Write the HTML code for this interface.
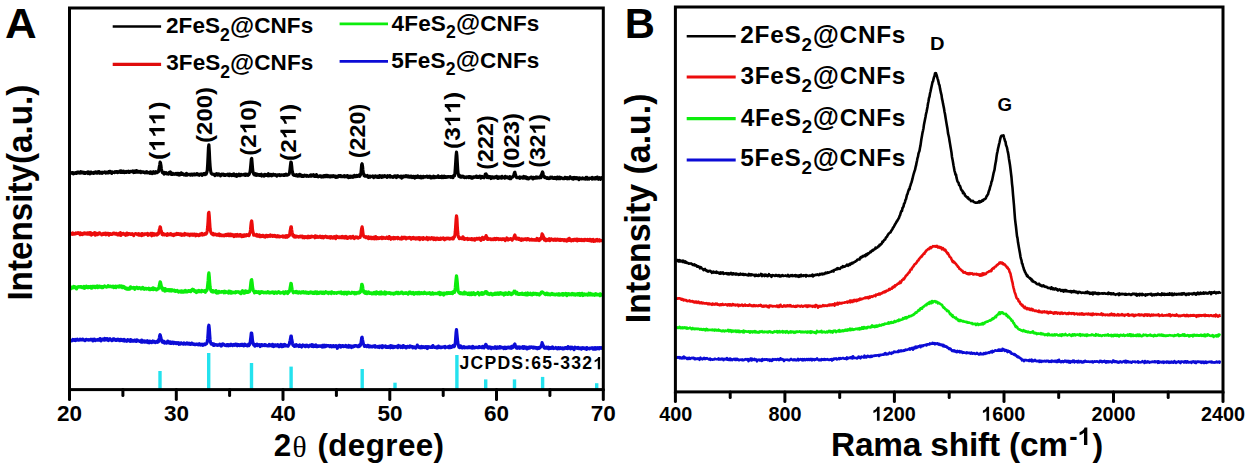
<!DOCTYPE html>
<html><head><meta charset="utf-8"><style>
html,body{margin:0;padding:0;background:#fff;width:1249px;height:470px;overflow:hidden}
svg{display:block}
text{font-family:"Liberation Sans", sans-serif;font-weight:bold;font-kerning:none}
</style></head><body>
<svg width="1249" height="470" viewBox="0 0 1249 470">
<rect width="1249" height="470" fill="#fff"/>
<path d="M70.5,173.2L70.9,173.3L71.3,173.0L71.7,172.7L72.1,172.9L72.5,172.6L72.9,173.2L73.3,173.8L73.7,172.9L74.1,172.8L74.5,173.3L74.9,173.3L75.3,173.1L75.7,172.6L76.1,173.0L76.5,173.4L76.9,172.4L77.3,172.8L77.7,172.1L78.1,172.4L78.5,172.1L78.9,172.9L79.3,172.4L79.7,173.1L80.1,173.1L80.5,172.9L80.9,171.7L81.3,172.7L81.7,172.9L82.1,173.0L82.5,172.2L82.9,172.7L83.3,172.4L83.7,172.5L84.1,173.4L84.5,172.5L84.9,172.9L85.3,173.3L85.7,172.6L86.1,172.8L86.5,172.9L86.9,172.9L87.3,172.2L87.7,172.9L88.1,173.5L88.5,172.0L88.9,173.2L89.3,172.8L89.7,172.4L90.1,173.8L90.5,173.1L90.9,172.1L91.3,172.8L91.7,173.0L92.1,172.6L92.5,173.1L92.9,172.7L93.3,173.0L93.7,173.4L94.1,172.3L94.5,172.8L94.9,172.4L95.3,172.7L95.7,172.0L96.1,172.3L96.5,172.5L96.9,173.1L97.3,173.2L97.7,171.9L98.1,172.2L98.5,172.9L98.9,171.6L99.3,172.3L99.7,172.5L100.1,173.2L100.5,172.9L100.9,172.4L101.3,172.3L101.7,172.4L102.1,173.3L102.5,172.3L102.9,172.3L103.3,172.7L103.7,172.4L104.1,172.4L104.5,171.9L104.9,172.4L105.3,172.2L105.7,173.0L106.1,172.7L106.5,172.4L106.9,172.7L107.3,172.2L107.7,172.9L108.1,172.4L108.5,172.7L108.9,171.7L109.3,172.5L109.7,171.5L110.1,171.3L110.5,172.2L110.9,171.9L111.3,172.4L111.7,173.4L112.1,171.9L112.5,172.0L112.9,172.4L113.3,172.5L113.7,172.2L114.1,172.1L114.5,172.6L114.9,172.5L115.3,171.7L115.7,172.1L116.1,172.2L116.5,171.6L116.9,172.3L117.3,171.7L117.7,172.6L118.1,172.2L118.5,172.1L118.9,171.8L119.3,172.0L119.7,171.1L120.1,171.5L120.5,172.2L120.9,171.0L121.3,172.4L121.7,171.1L122.1,172.4L122.5,171.6L122.9,172.4L123.3,172.0L123.7,171.2L124.1,172.6L124.5,172.6L124.9,171.9L125.3,171.8L125.7,171.8L126.1,171.4L126.5,172.4L126.9,171.6L127.3,171.8L127.7,171.4L128.1,171.5L128.5,171.2L128.9,172.4L129.3,171.7L129.7,172.2L130.1,171.7L130.5,171.4L130.9,171.6L131.3,171.4L131.7,171.7L132.1,171.5L132.5,171.5L132.9,171.0L133.3,171.2L133.7,172.5L134.1,171.3L134.5,171.1L134.9,171.8L135.3,172.3L135.7,170.9L136.1,171.6L136.5,171.4L136.9,170.8L137.3,172.1L137.7,171.7L138.1,171.8L138.5,171.4L138.9,172.1L139.3,171.6L139.7,171.8L140.1,171.4L140.5,171.3L140.9,172.6L141.3,171.7L141.7,172.2L142.1,172.0L142.5,171.8L142.9,171.8L143.3,172.4L143.7,172.0L144.1,172.1L144.5,172.2L144.9,172.8L145.3,172.6L145.7,172.4L146.1,172.0L146.5,171.6L146.9,172.8L147.3,172.8L147.7,172.3L148.1,172.7L148.5,172.8L148.9,172.9L149.3,172.9L149.7,172.3L150.1,173.3L150.5,171.9L150.9,173.0L151.3,172.8L151.7,173.0L152.1,173.6L152.5,173.4L152.9,172.1L153.3,171.8L153.7,173.1L154.1,172.2L154.5,172.7L154.9,173.1L155.3,171.9L155.7,171.7L156.1,172.8L156.5,172.7L156.9,172.5L157.3,172.6L157.7,172.0L158.1,171.5L158.5,171.6L158.9,169.9L159.3,167.1L159.7,165.0L160.1,162.2L160.5,162.9L160.9,165.2L161.3,168.5L161.7,170.5L162.1,171.6L162.5,172.7L162.9,172.4L163.3,173.1L163.7,173.2L164.1,174.1L164.5,172.5L164.9,173.7L165.3,173.2L165.7,173.3L166.1,172.6L166.5,173.1L166.9,173.8L167.3,173.4L167.7,173.5L168.1,173.3L168.5,174.1L168.9,173.5L169.3,172.5L169.7,173.2L170.1,172.6L170.5,172.0L170.9,173.4L171.3,174.4L171.7,173.7L172.1,173.1L172.5,173.3L172.9,174.3L173.3,173.9L173.7,173.9L174.1,173.8L174.5,173.9L174.9,174.3L175.3,174.2L175.7,174.0L176.1,173.4L176.5,174.2L176.9,173.7L177.3,174.6L177.7,173.4L178.1,174.0L178.5,174.1L178.9,173.4L179.3,175.0L179.7,174.9L180.1,173.9L180.5,174.6L180.9,174.4L181.3,172.9L181.7,174.4L182.1,174.2L182.5,174.3L182.9,173.8L183.3,174.2L183.7,174.2L184.1,174.9L184.5,174.5L184.9,174.3L185.3,175.1L185.7,174.1L186.1,174.1L186.5,173.4L186.9,175.1L187.3,174.8L187.7,174.8L188.1,174.7L188.5,174.4L188.9,174.5L189.3,174.3L189.7,174.3L190.1,174.4L190.5,175.1L190.9,174.7L191.3,174.4L191.7,174.1L192.1,174.1L192.5,175.2L192.9,174.7L193.3,174.5L193.7,174.3L194.1,173.9L194.5,174.4L194.9,174.9L195.3,174.2L195.7,174.3L196.1,174.3L196.5,174.5L196.9,173.7L197.3,174.3L197.7,174.0L198.1,174.9L198.5,174.1L198.9,174.7L199.3,175.2L199.7,174.3L200.1,174.1L200.5,174.5L200.9,174.4L201.3,173.9L201.7,174.6L202.1,175.4L202.5,174.2L202.9,174.2L203.3,173.8L203.7,174.4L204.1,173.6L204.5,173.6L204.9,174.7L205.3,173.5L205.7,174.3L206.1,174.2L206.5,173.1L206.9,172.1L207.3,170.2L207.7,164.0L208.1,155.8L208.5,147.0L208.9,144.9L209.3,151.4L209.7,160.0L210.1,166.1L210.5,170.1L210.9,172.2L211.3,173.4L211.7,173.6L212.1,174.0L212.5,174.2L212.9,174.0L213.3,174.3L213.7,174.5L214.1,174.4L214.5,174.7L214.9,175.5L215.3,174.9L215.7,174.6L216.1,173.8L216.5,174.8L216.9,173.7L217.3,174.0L217.7,175.1L218.1,175.1L218.5,174.7L218.9,173.9L219.3,174.6L219.7,174.4L220.1,175.1L220.5,175.9L220.9,174.9L221.3,174.4L221.7,174.2L222.1,174.8L222.5,174.8L222.9,174.3L223.3,174.9L223.7,174.3L224.1,175.4L224.5,175.4L224.9,175.4L225.3,174.7L225.7,175.2L226.1,174.8L226.5,174.7L226.9,174.8L227.3,174.3L227.7,174.2L228.1,175.3L228.5,174.9L228.9,175.1L229.3,175.5L229.7,174.1L230.1,174.6L230.5,175.1L230.9,175.2L231.3,174.8L231.7,175.5L232.1,175.1L232.5,174.4L232.9,174.5L233.3,175.4L233.7,175.2L234.1,174.0L234.5,175.7L234.9,175.3L235.3,175.7L235.7,174.8L236.1,174.8L236.5,174.4L236.9,176.3L237.3,174.9L237.7,175.8L238.1,174.7L238.5,175.1L238.9,174.2L239.3,174.8L239.7,175.5L240.1,174.4L240.5,175.5L240.9,175.2L241.3,174.5L241.7,174.7L242.1,174.8L242.5,175.0L242.9,174.7L243.3,174.6L243.7,174.8L244.1,174.4L244.5,174.3L244.9,174.9L245.3,175.4L245.7,174.1L246.1,174.9L246.5,174.5L246.9,174.3L247.3,175.2L247.7,174.5L248.1,175.4L248.5,174.1L248.9,174.5L249.3,173.9L249.7,172.9L250.1,171.8L250.5,168.2L250.9,163.9L251.3,159.3L251.7,158.5L252.1,162.9L252.5,167.8L252.9,171.7L253.3,172.7L253.7,174.0L254.1,173.5L254.5,174.9L254.9,174.1L255.3,173.8L255.7,174.8L256.1,175.4L256.5,174.1L256.9,174.4L257.3,174.6L257.7,174.4L258.1,175.2L258.5,174.6L258.9,174.7L259.3,175.3L259.7,174.7L260.1,175.3L260.5,174.6L260.9,174.5L261.3,174.2L261.7,176.0L262.1,174.9L262.5,175.2L262.9,175.1L263.3,175.2L263.7,175.1L264.1,176.1L264.5,174.6L264.9,174.3L265.3,174.6L265.7,174.5L266.1,175.5L266.5,175.5L266.9,174.6L267.3,174.4L267.7,175.0L268.1,175.8L268.5,173.7L268.9,175.4L269.3,174.6L269.7,175.7L270.1,174.6L270.5,175.0L270.9,174.4L271.3,174.7L271.7,175.8L272.1,175.6L272.5,175.0L272.9,174.7L273.3,174.2L273.7,175.0L274.1,175.1L274.5,175.1L274.9,175.1L275.3,174.6L275.7,175.1L276.1,175.2L276.5,175.8L276.9,176.1L277.3,175.1L277.7,174.8L278.1,175.2L278.5,174.9L278.9,174.8L279.3,175.2L279.7,174.7L280.1,175.5L280.5,175.2L280.9,175.4L281.3,175.2L281.7,174.9L282.1,174.8L282.5,175.1L282.9,175.0L283.3,175.4L283.7,175.3L284.1,174.6L284.5,175.3L284.9,174.6L285.3,174.9L285.7,175.1L286.1,174.2L286.5,175.2L286.9,175.2L287.3,175.0L287.7,174.8L288.1,174.8L288.5,174.3L288.9,174.3L289.3,173.4L289.7,172.0L290.1,168.3L290.5,165.0L290.9,162.0L291.3,162.6L291.7,166.2L292.1,170.5L292.5,172.0L292.9,174.3L293.3,174.8L293.7,175.1L294.1,175.3L294.5,174.9L294.9,175.1L295.3,175.6L295.7,175.6L296.1,175.5L296.5,174.7L296.9,175.7L297.3,176.1L297.7,176.0L298.1,175.6L298.5,174.8L298.9,176.0L299.3,175.5L299.7,174.3L300.1,175.8L300.5,174.9L300.9,175.0L301.3,175.3L301.7,176.3L302.1,175.5L302.5,175.8L302.9,176.5L303.3,176.5L303.7,175.6L304.1,175.6L304.5,175.1L304.9,175.4L305.3,175.9L305.7,175.9L306.1,175.8L306.5,176.3L306.9,175.4L307.3,175.7L307.7,176.1L308.1,176.1L308.5,176.3L308.9,176.0L309.3,175.7L309.7,176.0L310.1,175.3L310.5,175.0L310.9,176.1L311.3,175.8L311.7,176.0L312.1,175.0L312.5,175.7L312.9,175.6L313.3,175.5L313.7,174.8L314.1,175.7L314.5,176.4L314.9,176.1L315.3,175.6L315.7,175.9L316.1,176.3L316.5,174.6L316.9,175.9L317.3,176.2L317.7,176.3L318.1,176.8L318.5,176.6L318.9,176.2L319.3,176.2L319.7,176.4L320.1,175.8L320.5,176.0L320.9,176.5L321.3,177.0L321.7,176.0L322.1,176.0L322.5,176.2L322.9,176.8L323.3,176.1L323.7,176.8L324.1,175.6L324.5,176.0L324.9,176.0L325.3,176.5L325.7,176.7L326.1,175.4L326.5,175.7L326.9,176.3L327.3,175.8L327.7,175.4L328.1,176.7L328.5,176.4L328.9,176.4L329.3,176.0L329.7,176.7L330.1,176.1L330.5,176.8L330.9,175.8L331.3,175.8L331.7,176.3L332.1,175.9L332.5,176.6L332.9,176.4L333.3,175.8L333.7,176.3L334.1,176.1L334.5,176.8L334.9,176.0L335.3,176.1L335.7,176.9L336.1,177.4L336.5,177.3L336.9,176.3L337.3,176.4L337.7,177.1L338.1,176.3L338.5,175.8L338.9,176.4L339.3,176.5L339.7,175.9L340.1,175.5L340.5,175.6L340.9,176.7L341.3,176.0L341.7,176.3L342.1,176.4L342.5,176.6L342.9,176.2L343.3,176.6L343.7,175.9L344.1,176.2L344.5,175.8L344.9,176.9L345.3,176.3L345.7,176.0L346.1,176.2L346.5,176.2L346.9,176.7L347.3,175.6L347.7,175.8L348.1,176.2L348.5,177.6L348.9,176.8L349.3,176.3L349.7,176.7L350.1,177.4L350.5,176.2L350.9,176.2L351.3,177.0L351.7,176.6L352.1,176.7L352.5,176.1L352.9,177.3L353.3,177.2L353.7,176.6L354.1,176.7L354.5,175.3L354.9,176.7L355.3,176.2L355.7,176.5L356.1,176.7L356.5,176.1L356.9,175.4L357.3,176.4L357.7,175.9L358.1,176.0L358.5,175.8L358.9,175.9L359.3,174.8L359.7,176.4L360.1,175.4L360.5,174.8L360.9,173.1L361.3,168.9L361.7,164.5L362.1,163.8L362.5,166.0L362.9,170.0L363.3,173.2L363.7,173.8L364.1,175.7L364.5,175.1L364.9,176.2L365.3,176.1L365.7,176.1L366.1,176.2L366.5,176.0L366.9,176.0L367.3,175.5L367.7,176.4L368.1,177.3L368.5,177.4L368.9,177.1L369.3,176.8L369.7,176.1L370.1,177.2L370.5,176.4L370.9,176.4L371.3,176.3L371.7,176.5L372.1,176.3L372.5,176.5L372.9,176.0L373.3,176.3L373.7,177.6L374.1,176.5L374.5,176.4L374.9,176.8L375.3,176.9L375.7,176.0L376.1,176.4L376.5,177.0L376.9,176.7L377.3,176.6L377.7,177.3L378.1,176.2L378.5,176.6L378.9,176.3L379.3,177.3L379.7,175.6L380.1,176.2L380.5,176.3L380.9,176.9L381.3,176.9L381.7,177.3L382.1,175.8L382.5,177.0L382.9,176.4L383.3,176.3L383.7,176.9L384.1,176.1L384.5,175.6L384.9,176.4L385.3,175.9L385.7,176.3L386.1,176.8L386.5,176.8L386.9,177.4L387.3,176.5L387.7,175.8L388.1,176.2L388.5,176.2L388.9,176.0L389.3,176.8L389.7,176.3L390.1,175.6L390.5,177.0L390.9,176.6L391.3,176.8L391.7,176.7L392.1,177.0L392.5,176.7L392.9,177.3L393.3,176.9L393.7,176.8L394.1,176.9L394.5,175.9L394.9,176.6L395.3,176.5L395.7,176.8L396.1,176.0L396.5,177.5L396.9,176.7L397.3,176.1L397.7,175.8L398.1,176.5L398.5,176.6L398.9,176.3L399.3,176.7L399.7,176.4L400.1,177.0L400.5,176.3L400.9,176.7L401.3,177.2L401.7,178.0L402.1,176.2L402.5,176.5L402.9,176.3L403.3,177.1L403.7,176.1L404.1,176.5L404.5,176.7L404.9,176.2L405.3,176.2L405.7,176.5L406.1,175.7L406.5,176.0L406.9,176.5L407.3,176.8L407.7,176.6L408.1,175.9L408.5,176.5L408.9,177.1L409.3,177.0L409.7,176.7L410.1,176.3L410.5,177.1L410.9,176.5L411.3,176.2L411.7,176.4L412.1,177.5L412.5,176.9L412.9,177.3L413.3,176.5L413.7,177.2L414.1,176.5L414.5,176.7L414.9,178.0L415.3,177.2L415.7,176.5L416.1,176.7L416.5,177.0L416.9,177.4L417.3,176.6L417.7,175.9L418.1,176.7L418.5,176.8L418.9,176.9L419.3,177.5L419.7,177.0L420.1,177.2L420.5,176.3L420.9,177.2L421.3,177.9L421.7,177.2L422.1,176.9L422.5,176.9L422.9,177.7L423.3,176.4L423.7,176.8L424.1,177.1L424.5,177.2L424.9,176.6L425.3,177.0L425.7,176.7L426.1,176.9L426.5,176.8L426.9,176.3L427.3,176.8L427.7,177.3L428.1,176.4L428.5,176.7L428.9,177.2L429.3,176.3L429.7,177.0L430.1,176.3L430.5,177.4L430.9,178.0L431.3,177.9L431.7,176.8L432.1,177.2L432.5,176.9L432.9,176.9L433.3,177.7L433.7,176.2L434.1,177.4L434.5,176.9L434.9,177.6L435.3,177.0L435.7,176.6L436.1,177.0L436.5,177.3L436.9,176.9L437.3,177.1L437.7,176.6L438.1,175.8L438.5,177.4L438.9,177.3L439.3,177.0L439.7,176.9L440.1,177.4L440.5,176.7L440.9,176.6L441.3,176.8L441.7,177.5L442.1,176.2L442.5,177.5L442.9,176.6L443.3,176.4L443.7,177.5L444.1,176.9L444.5,176.3L444.9,176.7L445.3,177.4L445.7,177.5L446.1,176.7L446.5,177.1L446.9,177.2L447.3,176.6L447.7,177.1L448.1,176.9L448.5,176.6L448.9,176.6L449.3,176.9L449.7,176.8L450.1,176.5L450.5,176.6L450.9,177.3L451.3,176.8L451.7,177.1L452.1,177.2L452.5,176.8L452.9,177.6L453.3,175.9L453.7,176.5L454.1,175.5L454.5,175.8L454.9,173.9L455.3,168.3L455.7,162.4L456.1,155.8L456.5,152.1L456.9,155.7L457.3,162.7L457.7,169.3L458.1,173.4L458.5,174.9L458.9,176.2L459.3,175.0L459.7,176.7L460.1,176.0L460.5,177.1L460.9,176.6L461.3,176.3L461.7,177.0L462.1,176.4L462.5,176.4L462.9,176.1L463.3,176.9L463.7,177.2L464.1,177.5L464.5,176.9L464.9,177.5L465.3,177.0L465.7,177.0L466.1,177.3L466.5,177.6L466.9,176.9L467.3,177.0L467.7,177.0L468.1,177.1L468.5,176.7L468.9,177.6L469.3,176.9L469.7,177.4L470.1,176.7L470.5,177.3L470.9,177.3L471.3,176.9L471.7,178.2L472.1,177.3L472.5,178.1L472.9,177.7L473.3,176.8L473.7,177.0L474.1,177.4L474.5,177.2L474.9,177.2L475.3,177.1L475.7,176.3L476.1,177.1L476.5,176.1L476.9,177.4L477.3,176.9L477.7,176.9L478.1,177.1L478.5,177.4L478.9,176.5L479.3,176.4L479.7,176.7L480.1,176.2L480.5,176.7L480.9,178.0L481.3,176.7L481.7,177.5L482.1,176.5L482.5,177.3L482.9,177.0L483.3,177.1L483.7,177.3L484.1,177.8L484.5,176.6L484.9,175.8L485.3,174.2L485.7,174.2L486.1,173.9L486.5,175.3L486.9,175.9L487.3,177.5L487.7,176.0L488.1,177.0L488.5,177.6L488.9,177.1L489.3,176.9L489.7,177.2L490.1,176.6L490.5,177.4L490.9,178.5L491.3,177.9L491.7,176.8L492.1,176.9L492.5,177.2L492.9,177.9L493.3,177.0L493.7,177.0L494.1,177.8L494.5,177.8L494.9,177.2L495.3,176.8L495.7,176.6L496.1,177.1L496.5,176.3L496.9,177.8L497.3,177.1L497.7,177.7L498.1,178.4L498.5,178.0L498.9,176.9L499.3,177.9L499.7,178.0L500.1,177.1L500.5,177.0L500.9,177.4L501.3,176.7L501.7,178.2L502.1,176.3L502.5,176.9L502.9,177.3L503.3,177.4L503.7,177.6L504.1,177.6L504.5,177.4L504.9,178.1L505.3,176.4L505.7,177.5L506.1,177.1L506.5,177.6L506.9,177.6L507.3,177.0L507.7,177.2L508.1,177.9L508.5,177.7L508.9,177.2L509.3,178.5L509.7,178.6L510.1,176.7L510.5,177.6L510.9,178.7L511.3,177.8L511.7,177.5L512.1,177.2L512.5,177.0L512.9,176.9L513.3,176.2L513.7,175.8L514.1,173.9L514.5,172.6L514.9,172.3L515.3,174.1L515.7,175.1L516.1,176.4L516.5,177.6L516.9,177.5L517.3,177.7L517.7,177.6L518.1,177.5L518.5,177.5L518.9,177.4L519.3,177.9L519.7,177.0L520.1,178.3L520.5,177.6L520.9,177.2L521.3,177.4L521.7,177.3L522.1,177.7L522.5,177.3L522.9,178.2L523.3,177.3L523.7,176.5L524.1,177.3L524.5,176.7L524.9,177.7L525.3,178.2L525.7,178.0L526.1,177.0L526.5,177.3L526.9,178.6L527.3,177.9L527.7,177.7L528.1,178.2L528.5,178.9L528.9,178.4L529.3,177.8L529.7,177.9L530.1,178.0L530.5,177.4L530.9,177.2L531.3,177.8L531.7,177.3L532.1,177.7L532.5,177.8L532.9,178.9L533.3,177.3L533.7,177.7L534.1,177.7L534.5,178.0L534.9,178.3L535.3,177.5L535.7,177.3L536.1,176.9L536.5,177.3L536.9,178.0L537.3,177.8L537.7,177.2L538.1,177.5L538.5,177.7L538.9,177.9L539.3,177.4L539.7,177.5L540.1,176.6L540.5,176.7L540.9,177.7L541.3,174.8L541.7,174.3L542.1,172.9L542.5,172.0L542.9,172.8L543.3,174.9L543.7,176.3L544.1,177.0L544.5,176.5L544.9,177.5L545.3,177.2L545.7,177.4L546.1,177.9L546.5,178.1L546.9,178.3L547.3,177.6L547.7,178.3L548.1,178.4L548.5,178.4L548.9,178.6L549.3,177.8L549.7,177.8L550.1,178.3L550.5,177.2L550.9,178.0L551.3,177.6L551.7,177.7L552.1,177.1L552.5,177.5L552.9,177.9L553.3,178.4L553.7,178.4L554.1,177.9L554.5,177.9L554.9,177.5L555.3,178.2L555.7,177.8L556.1,178.3L556.5,178.9L556.9,178.0L557.3,177.2L557.7,177.6L558.1,177.3L558.5,177.4L558.9,178.7L559.3,178.1L559.7,177.2L560.1,178.3L560.5,178.6L560.9,177.8L561.3,177.7L561.7,177.9L562.1,178.2L562.5,178.4L562.9,178.6L563.3,178.7L563.7,178.6L564.1,178.7L564.5,178.4L564.9,177.3L565.3,178.0L565.7,178.2L566.1,177.9L566.5,178.5L566.9,177.9L567.3,177.6L567.7,178.8L568.1,178.4L568.5,178.2L568.9,178.6L569.3,178.6L569.7,178.3L570.1,176.9L570.5,177.8L570.9,177.9L571.3,177.6L571.7,178.2L572.1,178.7L572.5,177.9L572.9,177.6L573.3,179.2L573.7,177.9L574.1,177.5L574.5,178.3L574.9,178.4L575.3,177.8L575.7,178.6L576.1,177.9L576.5,177.7L576.9,178.3L577.3,178.6L577.7,177.9L578.1,178.4L578.5,178.1L578.9,179.6L579.3,177.8L579.7,178.9L580.1,178.2L580.5,178.1L580.9,178.6L581.3,178.7L581.7,178.9L582.1,178.4L582.5,177.9L582.9,178.0L583.3,178.5L583.7,178.5L584.1,178.9L584.5,178.5L584.9,178.8L585.3,179.0L585.7,178.3L586.1,177.5L586.5,177.7L586.9,177.5L587.3,179.1L587.7,177.9L588.1,178.9L588.5,178.6L588.9,179.1L589.3,178.8L589.7,178.2L590.1,178.2L590.5,178.3L590.9,178.4L591.3,178.0L591.7,178.3L592.1,179.1L592.5,177.5L592.9,178.5L593.3,177.9L593.7,178.4L594.1,178.8L594.5,178.3L594.9,178.7L595.3,177.6L595.7,178.9L596.1,178.1L596.5,178.7L596.9,178.5L597.3,177.1L597.7,178.0L598.1,178.5L598.5,179.2L598.9,178.5L599.3,178.5L599.7,177.7L600.1,179.1L600.5,179.3L600.9,178.4L601.3,178.3L601.7,177.6L602.1,178.8" fill="none" stroke="#000000" stroke-width="3.2" stroke-linejoin="round"/>
<path d="M70.5,235.0L70.9,234.0L71.3,234.2L71.7,233.9L72.1,233.1L72.5,234.3L72.9,233.0L73.3,233.5L73.7,233.8L74.1,234.1L74.5,233.9L74.9,233.8L75.3,233.3L75.7,233.0L76.1,233.7L76.5,233.3L76.9,233.0L77.3,233.0L77.7,233.4L78.1,232.7L78.5,233.0L78.9,232.9L79.3,233.8L79.7,233.9L80.1,234.7L80.5,232.9L80.9,233.4L81.3,234.2L81.7,233.6L82.1,233.5L82.5,234.6L82.9,233.5L83.3,233.1L83.7,233.1L84.1,233.9L84.5,233.9L84.9,233.0L85.3,233.2L85.7,234.0L86.1,234.0L86.5,233.4L86.9,234.1L87.3,234.0L87.7,232.9L88.1,233.6L88.5,234.0L88.9,233.5L89.3,232.7L89.7,233.6L90.1,234.2L90.5,234.6L90.9,232.7L91.3,235.1L91.7,233.2L92.1,234.3L92.5,234.4L92.9,234.3L93.3,233.9L93.7,233.2L94.1,234.1L94.5,233.5L94.9,232.6L95.3,235.2L95.7,234.2L96.1,234.7L96.5,233.4L96.9,234.6L97.3,234.6L97.7,234.6L98.1,233.8L98.5,233.2L98.9,233.8L99.3,232.8L99.7,233.0L100.1,233.9L100.5,233.4L100.9,233.8L101.3,233.8L101.7,234.8L102.1,234.5L102.5,233.9L102.9,234.5L103.3,233.5L103.7,233.7L104.1,234.4L104.5,233.3L104.9,233.8L105.3,233.2L105.7,234.0L106.1,234.7L106.5,233.5L106.9,234.0L107.3,233.5L107.7,233.4L108.1,233.3L108.5,234.7L108.9,235.1L109.3,234.2L109.7,233.6L110.1,234.3L110.5,233.8L110.9,234.4L111.3,234.1L111.7,234.1L112.1,234.3L112.5,233.7L112.9,233.8L113.3,233.1L113.7,233.8L114.1,233.3L114.5,233.9L114.9,233.5L115.3,234.0L115.7,234.2L116.1,233.3L116.5,233.6L116.9,233.5L117.3,234.4L117.7,234.9L118.1,234.4L118.5,233.8L118.9,234.8L119.3,233.3L119.7,234.8L120.1,233.7L120.5,232.7L120.9,235.4L121.3,234.8L121.7,233.5L122.1,234.1L122.5,234.0L122.9,234.1L123.3,233.3L123.7,233.7L124.1,234.3L124.5,234.2L124.9,234.7L125.3,234.1L125.7,235.3L126.1,233.7L126.5,234.2L126.9,233.1L127.3,233.5L127.7,234.8L128.1,233.6L128.5,234.4L128.9,234.1L129.3,233.6L129.7,233.9L130.1,233.9L130.5,233.9L130.9,234.5L131.3,234.5L131.7,233.8L132.1,233.7L132.5,234.3L132.9,234.1L133.3,234.7L133.7,235.5L134.1,234.6L134.5,234.1L134.9,234.1L135.3,233.7L135.7,233.7L136.1,233.7L136.5,234.0L136.9,234.0L137.3,234.6L137.7,234.0L138.1,234.1L138.5,233.6L138.9,235.0L139.3,234.5L139.7,235.1L140.1,234.6L140.5,235.0L140.9,234.1L141.3,234.6L141.7,235.6L142.1,233.6L142.5,234.8L142.9,235.1L143.3,234.4L143.7,234.6L144.1,234.9L144.5,233.9L144.9,234.5L145.3,233.8L145.7,233.9L146.1,233.9L146.5,234.2L146.9,234.3L147.3,234.5L147.7,233.5L148.1,235.3L148.5,234.9L148.9,234.6L149.3,234.1L149.7,234.2L150.1,234.6L150.5,234.5L150.9,233.4L151.3,234.7L151.7,235.8L152.1,233.3L152.5,234.8L152.9,234.5L153.3,234.2L153.7,235.0L154.1,233.7L154.5,234.4L154.9,235.0L155.3,234.2L155.7,234.0L156.1,234.3L156.5,234.0L156.9,235.0L157.3,233.7L157.7,234.5L158.1,233.2L158.5,233.8L158.9,232.6L159.3,229.8L159.7,229.0L160.1,226.9L160.5,227.5L160.9,230.4L161.3,231.0L161.7,232.4L162.1,234.4L162.5,234.0L162.9,234.9L163.3,234.4L163.7,233.8L164.1,234.2L164.5,234.9L164.9,234.8L165.3,234.3L165.7,234.4L166.1,234.3L166.5,234.1L166.9,235.4L167.3,234.4L167.7,233.8L168.1,234.2L168.5,234.8L168.9,234.8L169.3,234.4L169.7,234.1L170.1,234.5L170.5,233.6L170.9,233.8L171.3,234.9L171.7,234.2L172.1,234.7L172.5,235.1L172.9,234.8L173.3,234.5L173.7,235.6L174.1,234.8L174.5,234.3L174.9,234.9L175.3,234.7L175.7,234.1L176.1,234.6L176.5,234.4L176.9,233.5L177.3,234.4L177.7,234.4L178.1,234.3L178.5,233.7L178.9,234.4L179.3,234.5L179.7,234.6L180.1,234.0L180.5,234.9L180.9,233.9L181.3,234.5L181.7,235.2L182.1,234.2L182.5,234.3L182.9,235.1L183.3,234.4L183.7,234.4L184.1,234.7L184.5,235.1L184.9,233.5L185.3,234.2L185.7,234.1L186.1,234.1L186.5,234.2L186.9,234.2L187.3,234.8L187.7,234.2L188.1,234.7L188.5,234.8L188.9,234.3L189.3,234.7L189.7,235.5L190.1,234.8L190.5,234.3L190.9,234.6L191.3,234.2L191.7,234.8L192.1,235.1L192.5,234.2L192.9,234.5L193.3,235.2L193.7,234.4L194.1,234.8L194.5,234.1L194.9,234.2L195.3,234.4L195.7,235.8L196.1,234.5L196.5,234.4L196.9,234.4L197.3,234.6L197.7,235.0L198.1,234.8L198.5,235.7L198.9,234.8L199.3,235.4L199.7,234.8L200.1,235.0L200.5,233.9L200.9,234.6L201.3,234.6L201.7,234.5L202.1,233.5L202.5,235.0L202.9,234.4L203.3,234.3L203.7,234.4L204.1,234.3L204.5,234.6L204.9,233.7L205.3,233.8L205.7,234.2L206.1,233.9L206.5,233.3L206.9,232.3L207.3,230.2L207.7,226.5L208.1,220.9L208.5,213.2L208.9,212.3L209.3,216.5L209.7,222.8L210.1,228.9L210.5,230.9L210.9,232.3L211.3,233.1L211.7,233.9L212.1,234.1L212.5,234.2L212.9,234.6L213.3,233.5L213.7,234.9L214.1,234.0L214.5,234.4L214.9,234.6L215.3,234.2L215.7,234.2L216.1,234.4L216.5,234.9L216.9,235.2L217.3,235.2L217.7,234.4L218.1,234.6L218.5,234.5L218.9,235.2L219.3,234.0L219.7,235.6L220.1,234.8L220.5,234.6L220.9,235.2L221.3,235.6L221.7,235.2L222.1,235.6L222.5,235.2L222.9,235.7L223.3,235.7L223.7,235.1L224.1,235.8L224.5,235.2L224.9,235.2L225.3,234.7L225.7,235.0L226.1,235.6L226.5,234.5L226.9,235.5L227.3,235.4L227.7,235.3L228.1,234.1L228.5,235.2L228.9,235.6L229.3,234.9L229.7,235.3L230.1,234.1L230.5,235.6L230.9,234.9L231.3,235.7L231.7,234.4L232.1,235.6L232.5,235.2L232.9,235.7L233.3,234.9L233.7,235.0L234.1,236.5L234.5,234.9L234.9,235.0L235.3,235.2L235.7,234.8L236.1,236.0L236.5,236.2L236.9,235.0L237.3,234.5L237.7,236.0L238.1,236.0L238.5,235.8L238.9,236.0L239.3,235.0L239.7,235.3L240.1,234.7L240.5,234.7L240.9,235.9L241.3,235.1L241.7,236.6L242.1,235.5L242.5,235.1L242.9,235.9L243.3,236.4L243.7,235.7L244.1,234.8L244.5,235.6L244.9,236.1L245.3,235.2L245.7,235.0L246.1,235.9L246.5,235.5L246.9,234.8L247.3,235.2L247.7,234.9L248.1,235.4L248.5,235.2L248.9,235.6L249.3,235.0L249.7,233.2L250.1,232.7L250.5,230.0L250.9,225.5L251.3,222.0L251.7,220.9L252.1,224.2L252.5,229.5L252.9,231.7L253.3,232.9L253.7,235.2L254.1,234.7L254.5,235.1L254.9,234.7L255.3,234.8L255.7,234.9L256.1,235.4L256.5,235.8L256.9,234.5L257.3,236.0L257.7,235.1L258.1,235.2L258.5,236.1L258.9,235.7L259.3,235.0L259.7,236.7L260.1,235.4L260.5,235.9L260.9,235.9L261.3,236.5L261.7,235.6L262.1,236.3L262.5,235.5L262.9,236.4L263.3,235.5L263.7,235.7L264.1,236.8L264.5,236.1L264.9,236.0L265.3,237.0L265.7,236.1L266.1,235.5L266.5,236.3L266.9,235.4L267.3,236.5L267.7,236.6L268.1,235.7L268.5,235.7L268.9,236.1L269.3,236.0L269.7,235.5L270.1,236.3L270.5,235.0L270.9,235.8L271.3,235.8L271.7,235.9L272.1,236.2L272.5,235.5L272.9,236.4L273.3,236.0L273.7,235.8L274.1,235.4L274.5,235.5L274.9,236.3L275.3,235.6L275.7,236.2L276.1,236.7L276.5,236.7L276.9,236.9L277.3,236.0L277.7,235.6L278.1,236.7L278.5,236.3L278.9,236.8L279.3,236.2L279.7,236.8L280.1,236.6L280.5,236.6L280.9,236.5L281.3,236.4L281.7,236.3L282.1,236.3L282.5,236.7L282.9,236.0L283.3,237.1L283.7,236.2L284.1,236.7L284.5,236.2L284.9,236.1L285.3,237.3L285.7,236.1L286.1,235.6L286.5,235.9L286.9,236.0L287.3,237.2L287.7,236.2L288.1,236.5L288.5,235.4L288.9,235.9L289.3,235.5L289.7,234.8L290.1,231.4L290.5,229.2L290.9,226.9L291.3,226.8L291.7,230.0L292.1,232.6L292.5,233.4L292.9,235.8L293.3,236.2L293.7,235.9L294.1,235.5L294.5,237.0L294.9,236.5L295.3,236.9L295.7,237.1L296.1,236.2L296.5,236.9L296.9,236.3L297.3,236.5L297.7,236.5L298.1,236.5L298.5,237.1L298.9,236.6L299.3,236.5L299.7,236.4L300.1,236.8L300.5,236.1L300.9,236.4L301.3,236.6L301.7,236.3L302.1,236.6L302.5,236.3L302.9,237.7L303.3,237.3L303.7,236.9L304.1,236.7L304.5,237.8L304.9,236.9L305.3,236.7L305.7,236.9L306.1,236.9L306.5,237.4L306.9,236.7L307.3,237.8L307.7,236.3L308.1,237.1L308.5,236.3L308.9,237.7L309.3,236.6L309.7,236.8L310.1,237.3L310.5,237.4L310.9,236.3L311.3,236.7L311.7,236.1L312.1,236.9L312.5,236.8L312.9,236.7L313.3,236.5L313.7,236.7L314.1,236.5L314.5,237.2L314.9,237.7L315.3,235.9L315.7,236.9L316.1,236.7L316.5,237.2L316.9,236.5L317.3,236.9L317.7,236.4L318.1,237.3L318.5,237.0L318.9,236.9L319.3,237.2L319.7,236.9L320.1,236.2L320.5,237.3L320.9,237.2L321.3,236.9L321.7,237.5L322.1,237.7L322.5,236.5L322.9,236.7L323.3,237.8L323.7,237.8L324.1,236.7L324.5,236.5L324.9,236.8L325.3,236.9L325.7,236.3L326.1,237.1L326.5,236.5L326.9,236.5L327.3,237.6L327.7,236.8L328.1,237.1L328.5,237.5L328.9,237.6L329.3,237.0L329.7,237.2L330.1,236.8L330.5,238.1L330.9,237.5L331.3,236.7L331.7,237.2L332.1,237.6L332.5,237.5L332.9,238.1L333.3,237.9L333.7,237.0L334.1,237.2L334.5,236.6L334.9,237.4L335.3,237.3L335.7,238.6L336.1,237.3L336.5,236.2L336.9,236.9L337.3,237.3L337.7,236.7L338.1,236.9L338.5,237.1L338.9,237.5L339.3,237.2L339.7,236.9L340.1,237.7L340.5,237.1L340.9,237.1L341.3,236.7L341.7,237.0L342.1,237.7L342.5,236.5L342.9,237.3L343.3,237.7L343.7,237.2L344.1,237.5L344.5,236.8L344.9,238.0L345.3,237.9L345.7,237.5L346.1,236.5L346.5,236.9L346.9,237.9L347.3,238.3L347.7,237.6L348.1,238.0L348.5,237.1L348.9,237.3L349.3,237.4L349.7,237.6L350.1,236.7L350.5,237.9L350.9,238.1L351.3,236.9L351.7,236.8L352.1,237.6L352.5,237.1L352.9,236.3L353.3,237.9L353.7,237.5L354.1,237.2L354.5,238.5L354.9,237.5L355.3,237.1L355.7,237.5L356.1,236.9L356.5,237.1L356.9,237.6L357.3,237.1L357.7,237.2L358.1,238.2L358.5,237.8L358.9,237.7L359.3,237.4L359.7,237.3L360.1,237.4L360.5,235.8L360.9,234.9L361.3,230.8L361.7,228.3L362.1,226.8L362.5,229.3L362.9,232.7L363.3,235.6L363.7,235.9L364.1,236.9L364.5,237.0L364.9,236.9L365.3,236.8L365.7,237.5L366.1,236.6L366.5,237.6L366.9,237.6L367.3,237.3L367.7,237.1L368.1,236.9L368.5,238.6L368.9,237.0L369.3,238.4L369.7,238.0L370.1,237.5L370.5,237.1L370.9,238.2L371.3,238.6L371.7,237.3L372.1,237.6L372.5,238.3L372.9,237.9L373.3,238.7L373.7,237.5L374.1,238.0L374.5,237.1L374.9,238.8L375.3,237.4L375.7,236.7L376.1,237.7L376.5,237.7L376.9,238.8L377.3,237.6L377.7,237.8L378.1,238.1L378.5,238.6L378.9,237.8L379.3,238.4L379.7,238.1L380.1,237.7L380.5,237.9L380.9,237.9L381.3,237.4L381.7,238.5L382.1,237.2L382.5,238.5L382.9,238.4L383.3,237.9L383.7,237.5L384.1,237.8L384.5,238.2L384.9,238.3L385.3,238.1L385.7,238.4L386.1,237.7L386.5,238.1L386.9,237.2L387.3,238.3L387.7,238.0L388.1,237.8L388.5,238.6L388.9,238.3L389.3,236.6L389.7,238.0L390.1,237.3L390.5,238.5L390.9,239.2L391.3,237.8L391.7,238.1L392.1,237.9L392.5,238.2L392.9,238.4L393.3,238.7L393.7,237.5L394.1,238.8L394.5,237.6L394.9,238.2L395.3,238.6L395.7,238.4L396.1,237.6L396.5,237.7L396.9,237.9L397.3,238.1L397.7,238.7L398.1,237.5L398.5,238.3L398.9,238.4L399.3,238.4L399.7,238.4L400.1,238.9L400.5,238.4L400.9,238.6L401.3,238.4L401.7,239.0L402.1,237.2L402.5,238.8L402.9,238.0L403.3,238.0L403.7,237.7L404.1,237.2L404.5,238.0L404.9,237.8L405.3,238.4L405.7,237.5L406.1,238.9L406.5,238.4L406.9,238.1L407.3,237.9L407.7,237.8L408.1,237.7L408.5,238.0L408.9,238.2L409.3,238.2L409.7,237.5L410.1,238.1L410.5,237.8L410.9,238.4L411.3,239.2L411.7,238.6L412.1,238.1L412.5,237.5L412.9,237.6L413.3,237.5L413.7,238.7L414.1,237.9L414.5,238.4L414.9,238.0L415.3,238.4L415.7,239.0L416.1,238.0L416.5,238.2L416.9,237.9L417.3,238.8L417.7,237.8L418.1,237.8L418.5,237.7L418.9,237.7L419.3,238.6L419.7,239.7L420.1,237.9L420.5,238.9L420.9,238.5L421.3,237.9L421.7,238.3L422.1,238.3L422.5,238.1L422.9,239.4L423.3,237.5L423.7,238.6L424.1,238.6L424.5,238.2L424.9,238.5L425.3,238.9L425.7,238.5L426.1,238.7L426.5,238.8L426.9,237.5L427.3,239.2L427.7,239.6L428.1,239.0L428.5,239.0L428.9,237.8L429.3,238.5L429.7,238.1L430.1,238.2L430.5,239.0L430.9,238.1L431.3,238.5L431.7,237.6L432.1,238.5L432.5,238.6L432.9,238.2L433.3,238.2L433.7,239.5L434.1,238.0L434.5,238.1L434.9,238.2L435.3,239.2L435.7,239.6L436.1,238.8L436.5,238.2L436.9,238.4L437.3,239.1L437.7,238.2L438.1,239.3L438.5,239.3L438.9,238.7L439.3,239.0L439.7,239.0L440.1,239.4L440.5,238.1L440.9,239.2L441.3,238.5L441.7,238.3L442.1,238.7L442.5,238.6L442.9,238.2L443.3,237.9L443.7,238.2L444.1,239.4L444.5,239.7L444.9,239.0L445.3,239.3L445.7,238.4L446.1,238.6L446.5,238.8L446.9,238.1L447.3,238.2L447.7,238.7L448.1,238.5L448.5,238.1L448.9,238.8L449.3,238.5L449.7,239.1L450.1,238.6L450.5,238.4L450.9,238.6L451.3,238.5L451.7,238.2L452.1,238.2L452.5,238.8L452.9,238.6L453.3,238.8L453.7,237.1L454.1,237.4L454.5,236.7L454.9,235.3L455.3,231.5L455.7,225.6L456.1,219.5L456.5,215.8L456.9,218.4L457.3,226.4L457.7,232.1L458.1,234.9L458.5,237.3L458.9,237.3L459.3,238.6L459.7,238.1L460.1,237.9L460.5,238.3L460.9,238.1L461.3,238.7L461.7,238.7L462.1,238.7L462.5,238.4L462.9,236.9L463.3,238.8L463.7,237.8L464.1,238.9L464.5,239.4L464.9,239.0L465.3,238.6L465.7,238.8L466.1,238.8L466.5,238.6L466.9,238.6L467.3,238.4L467.7,239.5L468.1,238.9L468.5,239.4L468.9,238.8L469.3,239.0L469.7,238.8L470.1,239.2L470.5,239.4L470.9,239.1L471.3,238.6L471.7,238.6L472.1,239.8L472.5,238.8L472.9,238.8L473.3,239.7L473.7,239.5L474.1,239.3L474.5,238.8L474.9,240.2L475.3,239.2L475.7,239.3L476.1,238.9L476.5,238.3L476.9,238.3L477.3,239.2L477.7,239.2L478.1,238.9L478.5,238.4L478.9,238.3L479.3,238.9L479.7,238.3L480.1,239.5L480.5,239.6L480.9,240.4L481.3,239.5L481.7,238.7L482.1,238.6L482.5,237.3L482.9,238.7L483.3,238.9L483.7,239.4L484.1,239.0L484.5,238.7L484.9,237.8L485.3,237.1L485.7,236.8L486.1,235.6L486.5,236.8L486.9,237.2L487.3,239.3L487.7,239.5L488.1,239.3L488.5,238.4L488.9,239.1L489.3,239.0L489.7,239.1L490.1,239.0L490.5,239.4L490.9,238.9L491.3,239.6L491.7,239.3L492.1,239.0L492.5,239.1L492.9,238.9L493.3,239.6L493.7,239.0L494.1,239.3L494.5,239.0L494.9,238.5L495.3,239.7L495.7,238.7L496.1,239.5L496.5,239.4L496.9,238.4L497.3,238.7L497.7,239.0L498.1,238.8L498.5,238.6L498.9,239.6L499.3,239.1L499.7,239.4L500.1,239.0L500.5,239.4L500.9,238.9L501.3,239.2L501.7,239.6L502.1,239.3L502.5,239.0L502.9,238.7L503.3,239.4L503.7,239.5L504.1,239.2L504.5,238.9L504.9,239.6L505.3,240.5L505.7,239.1L506.1,239.5L506.5,239.5L506.9,238.0L507.3,239.4L507.7,238.9L508.1,240.0L508.5,239.2L508.9,238.9L509.3,239.2L509.7,239.4L510.1,239.0L510.5,239.2L510.9,238.6L511.3,239.1L511.7,239.6L512.1,240.2L512.5,239.4L512.9,239.0L513.3,239.0L513.7,237.9L514.1,237.0L514.5,235.6L514.9,235.0L515.3,236.4L515.7,237.6L516.1,238.6L516.5,239.0L516.9,238.7L517.3,238.2L517.7,238.9L518.1,238.3L518.5,239.4L518.9,239.4L519.3,238.5L519.7,239.7L520.1,239.8L520.5,239.5L520.9,240.2L521.3,240.4L521.7,238.8L522.1,240.0L522.5,239.7L522.9,239.7L523.3,239.9L523.7,239.1L524.1,239.2L524.5,239.1L524.9,239.1L525.3,239.4L525.7,238.8L526.1,239.0L526.5,239.8L526.9,239.5L527.3,239.7L527.7,238.6L528.1,239.1L528.5,239.2L528.9,239.5L529.3,239.2L529.7,240.0L530.1,239.5L530.5,239.5L530.9,239.5L531.3,239.9L531.7,239.3L532.1,240.1L532.5,239.8L532.9,239.6L533.3,239.6L533.7,239.8L534.1,240.1L534.5,240.0L534.9,239.7L535.3,240.0L535.7,239.6L536.1,240.2L536.5,239.5L536.9,238.5L537.3,240.2L537.7,239.6L538.1,238.9L538.5,239.4L538.9,239.1L539.3,240.5L539.7,239.7L540.1,238.6L540.5,239.4L540.9,238.5L541.3,238.8L541.7,236.0L542.1,233.9L542.5,234.4L542.9,235.2L543.3,236.7L543.7,237.1L544.1,239.1L544.5,240.1L544.9,238.5L545.3,240.1L545.7,239.3L546.1,240.7L546.5,239.8L546.9,239.5L547.3,240.2L547.7,239.9L548.1,239.4L548.5,240.0L548.9,239.4L549.3,238.8L549.7,240.7L550.1,239.5L550.5,239.4L550.9,239.9L551.3,238.9L551.7,239.0L552.1,239.5L552.5,239.5L552.9,239.8L553.3,240.3L553.7,239.5L554.1,240.0L554.5,240.1L554.9,239.2L555.3,239.9L555.7,239.3L556.1,240.3L556.5,240.0L556.9,239.8L557.3,239.1L557.7,239.8L558.1,239.4L558.5,240.2L558.9,239.7L559.3,239.4L559.7,240.3L560.1,240.2L560.5,239.5L560.9,240.4L561.3,239.7L561.7,239.7L562.1,239.9L562.5,239.5L562.9,239.6L563.3,239.8L563.7,240.6L564.1,240.6L564.5,239.7L564.9,240.7L565.3,239.8L565.7,240.1L566.1,240.3L566.5,240.0L566.9,241.1L567.3,240.0L567.7,239.3L568.1,240.5L568.5,239.7L568.9,239.7L569.3,238.4L569.7,240.4L570.1,240.3L570.5,240.3L570.9,240.4L571.3,240.8L571.7,239.9L572.1,240.4L572.5,239.6L572.9,239.8L573.3,240.5L573.7,240.1L574.1,239.3L574.5,240.1L574.9,239.9L575.3,239.5L575.7,240.2L576.1,239.8L576.5,239.2L576.9,239.4L577.3,240.9L577.7,239.2L578.1,240.1L578.5,240.3L578.9,240.3L579.3,239.4L579.7,239.8L580.1,240.1L580.5,240.4L580.9,239.7L581.3,239.4L581.7,240.5L582.1,240.6L582.5,240.2L582.9,239.7L583.3,240.2L583.7,240.1L584.1,240.5L584.5,239.4L584.9,240.1L585.3,240.0L585.7,239.5L586.1,240.2L586.5,240.1L586.9,239.9L587.3,240.3L587.7,239.4L588.1,240.1L588.5,240.3L588.9,240.2L589.3,240.6L589.7,239.5L590.1,239.3L590.5,240.2L590.9,240.3L591.3,241.2L591.7,240.4L592.1,239.7L592.5,240.5L592.9,239.7L593.3,239.4L593.7,241.4L594.1,240.3L594.5,240.5L594.9,240.4L595.3,241.1L595.7,240.3L596.1,240.8L596.5,239.6L596.9,239.5L597.3,240.9L597.7,240.9L598.1,240.4L598.5,240.3L598.9,240.3L599.3,239.8L599.7,241.0L600.1,240.5L600.5,240.4L600.9,240.4L601.3,240.7L601.7,240.5L602.1,240.6" fill="none" stroke="#ec0c0c" stroke-width="3.2" stroke-linejoin="round"/>
<path d="M70.5,286.8L70.9,287.6L71.3,288.5L71.7,287.1L72.1,287.3L72.5,287.8L72.9,287.8L73.3,287.6L73.7,286.5L74.1,287.6L74.5,286.7L74.9,286.9L75.3,287.6L75.7,287.1L76.1,287.7L76.5,288.9L76.9,287.7L77.3,287.6L77.7,286.8L78.1,286.9L78.5,286.7L78.9,287.0L79.3,286.7L79.7,286.9L80.1,287.1L80.5,286.7L80.9,286.5L81.3,286.5L81.7,287.4L82.1,287.2L82.5,287.7L82.9,287.7L83.3,287.0L83.7,287.5L84.1,286.4L84.5,288.3L84.9,287.7L85.3,287.0L85.7,286.6L86.1,287.3L86.5,286.2L86.9,286.7L87.3,287.5L87.7,287.1L88.1,286.8L88.5,287.6L88.9,286.6L89.3,287.2L89.7,286.8L90.1,286.6L90.5,287.3L90.9,286.5L91.3,288.0L91.7,286.7L92.1,288.0L92.5,286.5L92.9,287.3L93.3,286.4L93.7,286.3L94.1,287.1L94.5,287.3L94.9,286.3L95.3,287.6L95.7,286.6L96.1,287.0L96.5,287.1L96.9,287.2L97.3,286.0L97.7,287.7L98.1,287.2L98.5,286.7L98.9,286.4L99.3,286.1L99.7,286.2L100.1,287.2L100.5,286.7L100.9,286.3L101.3,286.6L101.7,287.7L102.1,286.7L102.5,286.6L102.9,287.5L103.3,287.1L103.7,286.9L104.1,286.5L104.5,286.0L104.9,286.2L105.3,286.6L105.7,286.7L106.1,287.0L106.5,287.1L106.9,286.9L107.3,286.9L107.7,286.3L108.1,285.7L108.5,286.5L108.9,286.3L109.3,286.4L109.7,286.6L110.1,286.1L110.5,286.2L110.9,286.7L111.3,286.8L111.7,286.4L112.1,286.9L112.5,286.6L112.9,286.2L113.3,286.7L113.7,287.6L114.1,286.4L114.5,287.3L114.9,287.4L115.3,287.4L115.7,286.2L116.1,287.6L116.5,286.6L116.9,286.4L117.3,286.3L117.7,286.7L118.1,286.4L118.5,286.3L118.9,287.0L119.3,286.0L119.7,285.8L120.1,286.8L120.5,286.7L120.9,287.0L121.3,286.0L121.7,287.1L122.1,286.9L122.5,287.7L122.9,286.3L123.3,287.1L123.7,287.0L124.1,286.6L124.5,287.2L124.9,288.3L125.3,287.7L125.7,287.8L126.1,288.8L126.5,289.0L126.9,289.1L127.3,288.3L127.7,288.7L128.1,289.2L128.5,288.3L128.9,288.2L129.3,288.9L129.7,289.1L130.1,287.7L130.5,286.8L130.9,287.3L131.3,287.5L131.7,287.9L132.1,288.2L132.5,287.8L132.9,287.6L133.3,288.0L133.7,287.5L134.1,287.9L134.5,287.6L134.9,289.3L135.3,288.4L135.7,287.6L136.1,287.6L136.5,287.9L136.9,287.3L137.3,287.8L137.7,287.8L138.1,288.6L138.5,288.0L138.9,287.8L139.3,287.6L139.7,287.7L140.1,288.2L140.5,288.2L140.9,288.9L141.3,288.0L141.7,288.9L142.1,288.5L142.5,288.4L142.9,287.4L143.3,287.8L143.7,288.9L144.1,289.2L144.5,288.6L144.9,288.9L145.3,288.4L145.7,288.4L146.1,288.3L146.5,289.1L146.9,288.8L147.3,288.6L147.7,288.5L148.1,289.0L148.5,288.9L148.9,288.3L149.3,289.6L149.7,288.9L150.1,288.8L150.5,289.6L150.9,289.4L151.3,288.8L151.7,289.2L152.1,288.4L152.5,288.6L152.9,287.8L153.3,289.6L153.7,288.0L154.1,289.4L154.5,288.6L154.9,288.5L155.3,288.9L155.7,289.2L156.1,289.4L156.5,289.9L156.9,289.2L157.3,289.4L157.7,288.6L158.1,289.1L158.5,288.4L158.9,287.2L159.3,285.7L159.7,283.5L160.1,281.8L160.5,282.3L160.9,284.0L161.3,286.1L161.7,288.4L162.1,288.0L162.5,288.9L162.9,290.2L163.3,288.2L163.7,289.2L164.1,290.0L164.5,288.9L164.9,291.1L165.3,288.5L165.7,290.6L166.1,290.7L166.5,290.4L166.9,289.9L167.3,290.2L167.7,289.7L168.1,290.5L168.5,289.6L168.9,290.1L169.3,290.8L169.7,289.7L170.1,290.1L170.5,290.4L170.9,289.7L171.3,291.0L171.7,290.6L172.1,289.8L172.5,290.5L172.9,290.2L173.3,290.3L173.7,290.7L174.1,290.3L174.5,291.2L174.9,290.4L175.3,291.3L175.7,290.8L176.1,291.3L176.5,290.6L176.9,290.7L177.3,290.4L177.7,291.3L178.1,291.5L178.5,292.1L178.9,291.8L179.3,291.3L179.7,291.1L180.1,291.4L180.5,291.2L180.9,292.0L181.3,291.8L181.7,290.9L182.1,291.0L182.5,292.1L182.9,291.6L183.3,291.3L183.7,292.0L184.1,291.2L184.5,291.3L184.9,291.2L185.3,290.5L185.7,291.9L186.1,290.8L186.5,291.2L186.9,291.1L187.3,291.8L187.7,291.4L188.1,291.5L188.5,290.6L188.9,291.4L189.3,290.7L189.7,291.5L190.1,291.4L190.5,290.9L190.9,291.6L191.3,290.4L191.7,290.1L192.1,289.5L192.5,289.2L192.9,289.9L193.3,290.3L193.7,289.6L194.1,291.2L194.5,291.3L194.9,291.7L195.3,291.7L195.7,290.9L196.1,291.0L196.5,292.5L196.9,291.7L197.3,290.9L197.7,291.8L198.1,291.4L198.5,290.7L198.9,290.4L199.3,290.8L199.7,291.7L200.1,291.6L200.5,291.5L200.9,291.7L201.3,291.9L201.7,290.5L202.1,291.4L202.5,291.1L202.9,290.9L203.3,291.2L203.7,291.4L204.1,291.3L204.5,290.7L204.9,291.1L205.3,292.3L205.7,290.7L206.1,290.2L206.5,290.8L206.9,290.3L207.3,288.7L207.7,284.7L208.1,280.9L208.5,274.8L208.9,272.9L209.3,276.7L209.7,282.4L210.1,287.1L210.5,289.6L210.9,290.4L211.3,291.4L211.7,291.2L212.1,291.8L212.5,290.7L212.9,290.7L213.3,292.0L213.7,290.9L214.1,291.5L214.5,291.6L214.9,291.5L215.3,291.5L215.7,292.5L216.1,290.5L216.5,292.3L216.9,293.0L217.3,291.9L217.7,291.8L218.1,292.2L218.5,292.8L218.9,291.3L219.3,291.9L219.7,291.8L220.1,292.2L220.5,292.0L220.9,292.3L221.3,291.7L221.7,292.0L222.1,291.6L222.5,291.6L222.9,291.9L223.3,291.9L223.7,291.4L224.1,292.8L224.5,291.9L224.9,291.3L225.3,292.6L225.7,291.6L226.1,292.3L226.5,292.0L226.9,292.2L227.3,292.1L227.7,291.8L228.1,292.1L228.5,293.1L228.9,291.0L229.3,292.1L229.7,292.3L230.1,291.6L230.5,291.4L230.9,293.2L231.3,291.9L231.7,293.1L232.1,292.4L232.5,292.1L232.9,292.3L233.3,292.4L233.7,292.7L234.1,292.3L234.5,292.2L234.9,292.2L235.3,292.8L235.7,292.5L236.1,291.6L236.5,291.8L236.9,292.3L237.3,291.8L237.7,291.9L238.1,291.6L238.5,292.0L238.9,292.3L239.3,292.6L239.7,292.1L240.1,293.2L240.5,292.1L240.9,293.7L241.3,292.6L241.7,292.4L242.1,291.9L242.5,290.7L242.9,292.0L243.3,292.2L243.7,293.1L244.1,291.4L244.5,293.1L244.9,292.0L245.3,292.5L245.7,290.8L246.1,292.1L246.5,291.9L246.9,292.4L247.3,292.0L247.7,291.4L248.1,292.3L248.5,292.1L248.9,291.9L249.3,291.9L249.7,291.3L250.1,289.4L250.5,286.1L250.9,282.2L251.3,280.1L251.7,279.6L252.1,282.5L252.5,286.1L252.9,289.1L253.3,290.7L253.7,291.2L254.1,291.3L254.5,292.9L254.9,292.0L255.3,291.7L255.7,291.4L256.1,291.7L256.5,292.5L256.9,292.5L257.3,292.0L257.7,292.2L258.1,292.0L258.5,291.6L258.9,292.9L259.3,292.4L259.7,293.5L260.1,291.9L260.5,292.2L260.9,292.7L261.3,292.1L261.7,291.6L262.1,291.8L262.5,292.3L262.9,292.5L263.3,292.2L263.7,292.8L264.1,292.8L264.5,292.5L264.9,292.3L265.3,292.2L265.7,292.6L266.1,292.8L266.5,292.4L266.9,292.6L267.3,292.2L267.7,291.6L268.1,291.8L268.5,292.7L268.9,292.6L269.3,293.1L269.7,292.4L270.1,292.8L270.5,293.0L270.9,292.9L271.3,292.1L271.7,292.3L272.1,292.4L272.5,291.9L272.9,292.6L273.3,292.9L273.7,292.1L274.1,293.4L274.5,292.2L274.9,292.3L275.3,292.3L275.7,292.0L276.1,292.6L276.5,292.4L276.9,293.2L277.3,292.7L277.7,292.7L278.1,292.3L278.5,291.7L278.9,292.4L279.3,292.0L279.7,292.9L280.1,292.4L280.5,293.2L280.9,292.8L281.3,292.8L281.7,292.5L282.1,292.5L282.5,292.7L282.9,292.9L283.3,292.0L283.7,292.6L284.1,293.7L284.5,292.3L284.9,292.3L285.3,292.0L285.7,291.6L286.1,292.9L286.5,292.4L286.9,292.5L287.3,293.2L287.7,293.5L288.1,291.7L288.5,292.6L288.9,292.1L289.3,291.5L289.7,290.3L290.1,287.9L290.5,285.9L290.9,283.3L291.3,283.7L291.7,286.7L292.1,289.3L292.5,290.8L292.9,291.7L293.3,292.8L293.7,292.4L294.1,292.2L294.5,291.9L294.9,292.2L295.3,291.8L295.7,292.5L296.1,292.6L296.5,291.4L296.9,292.5L297.3,292.8L297.7,292.6L298.1,292.0L298.5,293.1L298.9,292.2L299.3,291.9L299.7,292.0L300.1,292.5L300.5,293.0L300.9,293.1L301.3,292.7L301.7,292.0L302.1,292.2L302.5,292.1L302.9,292.5L303.3,291.7L303.7,292.6L304.1,292.9L304.5,292.5L304.9,292.8L305.3,292.1L305.7,291.9L306.1,292.3L306.5,293.2L306.9,293.1L307.3,292.4L307.7,293.2L308.1,292.5L308.5,293.4L308.9,292.9L309.3,292.4L309.7,293.0L310.1,292.2L310.5,292.2L310.9,291.9L311.3,292.8L311.7,292.6L312.1,292.6L312.5,292.4L312.9,293.4L313.3,292.4L313.7,292.3L314.1,293.3L314.5,293.4L314.9,292.8L315.3,291.8L315.7,292.4L316.1,293.0L316.5,292.7L316.9,293.5L317.3,292.0L317.7,293.0L318.1,292.4L318.5,293.4L318.9,292.7L319.3,293.2L319.7,292.4L320.1,292.0L320.5,292.1L320.9,292.4L321.3,292.2L321.7,293.3L322.1,293.4L322.5,292.9L322.9,292.2L323.3,292.7L323.7,292.4L324.1,293.5L324.5,292.9L324.9,293.0L325.3,292.5L325.7,291.7L326.1,292.4L326.5,292.2L326.9,292.9L327.3,292.8L327.7,292.4L328.1,292.6L328.5,293.5L328.9,292.3L329.3,292.3L329.7,292.7L330.1,292.4L330.5,292.6L330.9,293.0L331.3,293.6L331.7,291.9L332.1,292.8L332.5,292.8L332.9,292.7L333.3,292.7L333.7,292.6L334.1,293.3L334.5,292.6L334.9,292.7L335.3,292.8L335.7,292.9L336.1,292.7L336.5,293.3L336.9,292.8L337.3,292.9L337.7,292.8L338.1,292.3L338.5,292.4L338.9,292.3L339.3,292.9L339.7,292.5L340.1,292.3L340.5,292.9L340.9,293.1L341.3,292.0L341.7,293.7L342.1,292.9L342.5,292.8L342.9,293.4L343.3,292.9L343.7,292.5L344.1,293.9L344.5,292.3L344.9,292.8L345.3,293.3L345.7,292.3L346.1,292.8L346.5,293.1L346.9,294.1L347.3,292.4L347.7,292.8L348.1,293.2L348.5,292.9L348.9,292.3L349.3,293.1L349.7,292.9L350.1,293.1L350.5,293.4L350.9,293.4L351.3,293.1L351.7,293.0L352.1,292.3L352.5,292.8L352.9,293.0L353.3,292.7L353.7,292.9L354.1,292.5L354.5,293.6L354.9,293.9L355.3,292.7L355.7,293.1L356.1,292.7L356.5,293.5L356.9,293.0L357.3,292.9L357.7,292.7L358.1,292.8L358.5,292.2L358.9,293.0L359.3,292.2L359.7,292.7L360.1,292.2L360.5,291.9L360.9,289.8L361.3,287.9L361.7,284.4L362.1,284.4L362.5,285.7L362.9,288.5L363.3,290.6L363.7,292.2L364.1,291.3L364.5,292.7L364.9,291.9L365.3,293.3L365.7,291.8L366.1,292.3L366.5,292.0L366.9,293.7L367.3,292.3L367.7,293.0L368.1,292.7L368.5,292.0L368.9,292.8L369.3,293.3L369.7,292.9L370.1,293.4L370.5,292.8L370.9,293.0L371.3,292.8L371.7,293.2L372.1,293.9L372.5,293.2L372.9,293.1L373.3,292.7L373.7,292.6L374.1,293.8L374.5,292.5L374.9,292.6L375.3,293.0L375.7,292.8L376.1,294.0L376.5,291.9L376.9,293.2L377.3,293.4L377.7,292.5L378.1,292.7L378.5,293.3L378.9,293.9L379.3,292.6L379.7,292.3L380.1,293.6L380.5,293.8L380.9,292.9L381.3,292.0L381.7,293.8L382.1,293.0L382.5,293.6L382.9,293.1L383.3,292.9L383.7,292.9L384.1,293.8L384.5,293.8L384.9,292.0L385.3,292.6L385.7,294.0L386.1,292.9L386.5,292.4L386.9,293.1L387.3,293.1L387.7,293.1L388.1,292.9L388.5,293.0L388.9,292.9L389.3,293.3L389.7,292.7L390.1,293.0L390.5,293.1L390.9,293.8L391.3,293.3L391.7,293.1L392.1,293.4L392.5,293.4L392.9,293.7L393.3,293.4L393.7,294.1L394.1,293.8L394.5,293.1L394.9,293.0L395.3,293.6L395.7,293.4L396.1,293.1L396.5,292.4L396.9,292.3L397.3,293.4L397.7,293.6L398.1,293.6L398.5,292.5L398.9,293.7L399.3,292.9L399.7,293.4L400.1,293.4L400.5,292.8L400.9,292.9L401.3,292.2L401.7,292.7L402.1,292.3L402.5,293.4L402.9,293.2L403.3,293.7L403.7,293.4L404.1,292.9L404.5,293.4L404.9,293.0L405.3,293.5L405.7,293.4L406.1,292.7L406.5,293.2L406.9,293.3L407.3,293.1L407.7,293.7L408.1,294.1L408.5,293.1L408.9,293.1L409.3,292.1L409.7,293.2L410.1,293.0L410.5,292.2L410.9,293.4L411.3,293.6L411.7,292.9L412.1,293.1L412.5,292.8L412.9,293.7L413.3,292.5L413.7,293.1L414.1,294.3L414.5,293.3L414.9,293.5L415.3,293.2L415.7,292.7L416.1,293.3L416.5,293.5L416.9,292.8L417.3,293.5L417.7,293.9L418.1,293.8L418.5,292.5L418.9,292.8L419.3,292.5L419.7,293.8L420.1,293.6L420.5,293.7L420.9,292.9L421.3,292.7L421.7,293.4L422.1,293.4L422.5,292.9L422.9,293.4L423.3,293.7L423.7,293.4L424.1,292.8L424.5,292.3L424.9,293.2L425.3,293.4L425.7,293.2L426.1,293.1L426.5,293.0L426.9,293.7L427.3,293.3L427.7,293.4L428.1,292.9L428.5,293.1L428.9,293.4L429.3,292.9L429.7,292.7L430.1,293.2L430.5,294.0L430.9,293.5L431.3,294.1L431.7,293.3L432.1,293.2L432.5,292.7L432.9,293.1L433.3,294.1L433.7,293.6L434.1,293.8L434.5,293.7L434.9,293.4L435.3,293.3L435.7,293.5L436.1,293.7L436.5,293.6L436.9,293.7L437.3,293.5L437.7,293.0L438.1,293.3L438.5,292.9L438.9,293.9L439.3,292.4L439.7,293.3L440.1,294.6L440.5,293.2L440.9,292.9L441.3,293.4L441.7,294.1L442.1,293.3L442.5,293.7L442.9,293.5L443.3,293.2L443.7,295.0L444.1,293.5L444.5,293.2L444.9,293.2L445.3,293.6L445.7,293.6L446.1,293.8L446.5,293.5L446.9,292.7L447.3,293.7L447.7,293.3L448.1,293.3L448.5,292.7L448.9,293.1L449.3,293.0L449.7,293.4L450.1,292.6L450.5,293.4L450.9,293.4L451.3,292.7L451.7,292.9L452.1,292.8L452.5,293.6L452.9,291.8L453.3,292.8L453.7,292.0L454.1,292.3L454.5,292.4L454.9,290.4L455.3,288.0L455.7,282.9L456.1,279.0L456.5,275.8L456.9,278.5L457.3,282.5L457.7,287.3L458.1,291.2L458.5,291.9L458.9,292.5L459.3,293.0L459.7,292.4L460.1,293.5L460.5,293.2L460.9,293.5L461.3,293.0L461.7,293.6L462.1,293.0L462.5,293.9L462.9,294.0L463.3,293.9L463.7,293.7L464.1,293.8L464.5,292.1L464.9,293.9L465.3,293.4L465.7,293.6L466.1,293.4L466.5,292.9L466.9,293.3L467.3,293.9L467.7,294.3L468.1,293.3L468.5,293.1L468.9,294.3L469.3,293.1L469.7,294.6L470.1,293.6L470.5,293.2L470.9,294.1L471.3,294.5L471.7,292.9L472.1,294.4L472.5,293.5L472.9,294.4L473.3,293.4L473.7,292.8L474.1,293.9L474.5,294.1L474.9,294.7L475.3,294.5L475.7,294.0L476.1,293.5L476.5,293.4L476.9,293.5L477.3,293.2L477.7,293.5L478.1,292.4L478.5,293.8L478.9,293.6L479.3,294.9L479.7,294.0L480.1,293.4L480.5,293.9L480.9,293.1L481.3,293.4L481.7,292.7L482.1,294.4L482.5,293.9L482.9,293.0L483.3,293.6L483.7,294.0L484.1,293.7L484.5,293.4L484.9,292.3L485.3,291.8L485.7,291.6L486.1,292.1L486.5,291.8L486.9,292.3L487.3,293.8L487.7,293.0L488.1,294.1L488.5,293.8L488.9,294.1L489.3,294.6L489.7,294.1L490.1,294.1L490.5,293.3L490.9,293.4L491.3,294.1L491.7,294.5L492.1,294.4L492.5,294.9L492.9,293.9L493.3,293.9L493.7,294.3L494.1,293.8L494.5,293.7L494.9,293.3L495.3,294.3L495.7,293.3L496.1,294.0L496.5,293.1L496.9,294.3L497.3,293.3L497.7,294.2L498.1,293.0L498.5,293.6L498.9,294.4L499.3,293.4L499.7,293.9L500.1,293.6L500.5,292.7L500.9,294.0L501.3,294.0L501.7,293.3L502.1,294.1L502.5,293.4L502.9,293.3L503.3,293.8L503.7,293.5L504.1,295.0L504.5,293.1L504.9,294.2L505.3,294.3L505.7,292.9L506.1,293.0L506.5,294.1L506.9,293.6L507.3,294.0L507.7,294.4L508.1,293.7L508.5,293.3L508.9,292.5L509.3,294.0L509.7,293.4L510.1,294.0L510.5,294.0L510.9,293.1L511.3,294.7L511.7,294.3L512.1,294.2L512.5,293.1L512.9,293.4L513.3,293.0L513.7,292.4L514.1,291.2L514.5,291.3L514.9,291.2L515.3,292.0L515.7,292.5L516.1,293.9L516.5,293.7L516.9,292.4L517.3,293.5L517.7,293.8L518.1,294.4L518.5,293.7L518.9,293.8L519.3,293.6L519.7,294.3L520.1,293.7L520.5,293.6L520.9,293.6L521.3,294.2L521.7,293.7L522.1,293.1L522.5,294.3L522.9,293.6L523.3,294.1L523.7,294.2L524.1,294.6L524.5,294.5L524.9,293.7L525.3,293.9L525.7,293.3L526.1,294.8L526.5,294.2L526.9,294.7L527.3,293.8L527.7,293.0L528.1,294.8L528.5,294.1L528.9,294.1L529.3,294.0L529.7,294.3L530.1,294.3L530.5,293.2L530.9,294.6L531.3,293.8L531.7,293.8L532.1,294.9L532.5,294.5L532.9,293.9L533.3,293.1L533.7,294.1L534.1,294.3L534.5,294.0L534.9,293.4L535.3,293.6L535.7,293.4L536.1,294.1L536.5,294.5L536.9,294.6L537.3,293.7L537.7,294.2L538.1,294.3L538.5,293.8L538.9,293.9L539.3,295.1L539.7,294.1L540.1,294.4L540.5,293.6L540.9,293.6L541.3,292.2L541.7,292.2L542.1,291.9L542.5,292.1L542.9,292.2L543.3,292.8L543.7,293.3L544.1,293.4L544.5,293.8L544.9,294.3L545.3,293.6L545.7,294.5L546.1,293.6L546.5,293.2L546.9,293.6L547.3,293.3L547.7,293.4L548.1,294.7L548.5,294.0L548.9,294.2L549.3,294.7L549.7,294.8L550.1,293.9L550.5,294.8L550.9,294.3L551.3,294.2L551.7,294.4L552.1,293.5L552.5,293.8L552.9,294.1L553.3,294.5L553.7,294.0L554.1,294.1L554.5,294.7L554.9,294.9L555.3,294.6L555.7,294.8L556.1,294.0L556.5,294.0L556.9,294.4L557.3,294.1L557.7,294.0L558.1,295.0L558.5,294.1L558.9,293.7L559.3,294.5L559.7,295.1L560.1,294.3L560.5,294.8L560.9,294.0L561.3,294.0L561.7,293.9L562.1,294.2L562.5,295.2L562.9,293.7L563.3,295.1L563.7,293.7L564.1,294.1L564.5,294.7L564.9,294.6L565.3,294.4L565.7,293.4L566.1,294.4L566.5,293.8L566.9,295.6L567.3,294.2L567.7,294.4L568.1,293.7L568.5,294.0L568.9,293.6L569.3,294.8L569.7,294.2L570.1,294.6L570.5,294.0L570.9,294.0L571.3,294.9L571.7,293.8L572.1,293.4L572.5,294.5L572.9,293.7L573.3,294.1L573.7,294.8L574.1,293.9L574.5,294.8L574.9,294.0L575.3,295.1L575.7,295.0L576.1,294.1L576.5,294.2L576.9,293.9L577.3,294.4L577.7,294.9L578.1,293.6L578.5,294.8L578.9,293.7L579.3,293.9L579.7,293.5L580.1,295.4L580.5,294.4L580.9,294.5L581.3,294.0L581.7,294.9L582.1,293.3L582.5,294.4L582.9,295.5L583.3,294.2L583.7,294.4L584.1,294.7L584.5,294.0L584.9,294.4L585.3,294.9L585.7,294.5L586.1,294.6L586.5,294.2L586.9,294.6L587.3,294.4L587.7,295.1L588.1,294.8L588.5,294.3L588.9,293.2L589.3,294.8L589.7,294.8L590.1,294.0L590.5,293.4L590.9,293.9L591.3,294.9L591.7,293.9L592.1,294.2L592.5,294.6L592.9,295.1L593.3,294.4L593.7,294.4L594.1,294.2L594.5,295.3L594.9,295.0L595.3,294.4L595.7,293.8L596.1,294.1L596.5,294.8L596.9,294.1L597.3,294.9L597.7,294.7L598.1,294.6L598.5,294.8L598.9,294.7L599.3,294.1L599.7,294.3L600.1,295.7L600.5,293.9L600.9,294.3L601.3,295.0L601.7,294.4L602.1,294.1" fill="none" stroke="#0ced0c" stroke-width="3.2" stroke-linejoin="round"/>
<path d="M70.5,339.4L70.9,340.3L71.3,340.6L71.7,340.8L72.1,340.1L72.5,340.6L72.9,339.5L73.3,340.1L73.7,339.7L74.1,340.1L74.5,340.4L74.9,340.5L75.3,339.5L75.7,340.6L76.1,339.8L76.5,339.5L76.9,339.9L77.3,339.2L77.7,340.0L78.1,340.1L78.5,339.9L78.9,340.2L79.3,339.8L79.7,339.9L80.1,339.2L80.5,339.9L80.9,339.5L81.3,339.7L81.7,339.9L82.1,340.0L82.5,339.1L82.9,339.1L83.3,339.7L83.7,340.1L84.1,340.0L84.5,340.3L84.9,340.5L85.3,340.1L85.7,339.8L86.1,339.3L86.5,339.3L86.9,339.6L87.3,339.9L87.7,339.9L88.1,339.8L88.5,339.7L88.9,340.1L89.3,339.9L89.7,339.9L90.1,339.9L90.5,339.5L90.9,339.2L91.3,340.0L91.7,339.9L92.1,339.6L92.5,339.5L92.9,340.9L93.3,339.3L93.7,339.6L94.1,339.8L94.5,339.1L94.9,339.7L95.3,340.6L95.7,340.1L96.1,340.0L96.5,340.0L96.9,339.7L97.3,340.1L97.7,339.6L98.1,339.4L98.5,339.7L98.9,340.1L99.3,339.8L99.7,339.9L100.1,338.6L100.5,340.2L100.9,340.8L101.3,340.2L101.7,339.4L102.1,339.1L102.5,339.7L102.9,339.1L103.3,339.9L103.7,339.3L104.1,340.0L104.5,340.2L104.9,338.5L105.3,339.7L105.7,339.2L106.1,338.8L106.5,339.2L106.9,339.4L107.3,340.0L107.7,338.7L108.1,340.0L108.5,340.5L108.9,339.7L109.3,339.7L109.7,339.4L110.1,338.8L110.5,339.7L110.9,339.6L111.3,339.8L111.7,340.7L112.1,339.8L112.5,339.6L112.9,340.2L113.3,338.8L113.7,338.9L114.1,339.3L114.5,339.2L114.9,339.9L115.3,339.4L115.7,340.5L116.1,340.4L116.5,340.1L116.9,339.5L117.3,340.0L117.7,340.1L118.1,339.2L118.5,340.0L118.9,340.2L119.3,339.9L119.7,340.7L120.1,340.5L120.5,339.5L120.9,340.0L121.3,339.5L121.7,340.3L122.1,339.6L122.5,340.5L122.9,340.3L123.3,340.6L123.7,340.0L124.1,339.4L124.5,341.0L124.9,340.1L125.3,340.9L125.7,340.4L126.1,340.6L126.5,341.2L126.9,340.5L127.3,341.0L127.7,339.6L128.1,340.8L128.5,340.3L128.9,340.4L129.3,340.5L129.7,340.6L130.1,341.3L130.5,339.6L130.9,340.6L131.3,340.2L131.7,341.2L132.1,340.4L132.5,340.9L132.9,340.5L133.3,341.0L133.7,341.2L134.1,340.5L134.5,340.8L134.9,340.1L135.3,341.0L135.7,341.3L136.1,340.6L136.5,341.4L136.9,339.9L137.3,340.0L137.7,340.3L138.1,340.7L138.5,341.0L138.9,341.0L139.3,341.0L139.7,341.4L140.1,340.9L140.5,340.5L140.9,340.5L141.3,342.2L141.7,340.0L142.1,341.1L142.5,342.0L142.9,341.5L143.3,340.9L143.7,341.3L144.1,341.8L144.5,342.0L144.9,340.9L145.3,341.8L145.7,341.6L146.1,342.0L146.5,342.2L146.9,341.3L147.3,340.8L147.7,341.8L148.1,342.5L148.5,341.9L148.9,341.7L149.3,342.8L149.7,341.2L150.1,342.1L150.5,341.4L150.9,341.8L151.3,341.8L151.7,342.5L152.1,341.3L152.5,341.6L152.9,341.0L153.3,342.1L153.7,341.7L154.1,342.1L154.5,341.4L154.9,341.7L155.3,342.5L155.7,341.9L156.1,342.3L156.5,342.2L156.9,341.8L157.3,341.1L157.7,342.3L158.1,341.8L158.5,341.8L158.9,339.5L159.3,338.1L159.7,335.7L160.1,334.7L160.5,336.0L160.9,337.7L161.3,339.5L161.7,341.0L162.1,342.0L162.5,341.8L162.9,342.4L163.3,342.3L163.7,341.2L164.1,342.2L164.5,343.1L164.9,342.3L165.3,342.4L165.7,342.2L166.1,342.3L166.5,343.2L166.9,342.5L167.3,342.2L167.7,341.1L168.1,342.4L168.5,341.8L168.9,341.9L169.3,343.2L169.7,343.2L170.1,341.9L170.5,343.3L170.9,343.1L171.3,342.5L171.7,343.3L172.1,342.1L172.5,342.4L172.9,342.3L173.3,342.5L173.7,343.5L174.1,342.4L174.5,342.5L174.9,342.6L175.3,343.2L175.7,343.0L176.1,343.6L176.5,342.9L176.9,342.6L177.3,343.0L177.7,343.3L178.1,342.8L178.5,343.5L178.9,344.2L179.3,343.1L179.7,343.4L180.1,344.1L180.5,343.1L180.9,343.0L181.3,342.9L181.7,343.7L182.1,343.8L182.5,343.5L182.9,343.6L183.3,344.2L183.7,344.0L184.1,342.9L184.5,343.6L184.9,343.7L185.3,344.0L185.7,343.6L186.1,343.4L186.5,343.5L186.9,342.9L187.3,343.8L187.7,343.5L188.1,344.1L188.5,343.3L188.9,343.7L189.3,343.4L189.7,343.4L190.1,344.3L190.5,343.7L190.9,344.2L191.3,343.4L191.7,344.1L192.1,343.2L192.5,343.8L192.9,343.8L193.3,344.4L193.7,344.2L194.1,344.1L194.5,344.6L194.9,344.3L195.3,344.5L195.7,344.6L196.1,344.2L196.5,344.1L196.9,344.4L197.3,344.1L197.7,344.5L198.1,344.9L198.5,344.8L198.9,344.2L199.3,343.7L199.7,344.4L200.1,344.4L200.5,345.0L200.9,344.3L201.3,344.4L201.7,344.8L202.1,344.2L202.5,344.4L202.9,345.3L203.3,345.2L203.7,344.8L204.1,344.6L204.5,343.9L204.9,344.7L205.3,344.3L205.7,344.3L206.1,343.8L206.5,343.7L206.9,342.9L207.3,341.5L207.7,338.7L208.1,333.0L208.5,326.6L208.9,325.2L209.3,328.6L209.7,334.7L210.1,339.9L210.5,342.4L210.9,343.1L211.3,344.0L211.7,343.8L212.1,343.6L212.5,343.7L212.9,344.1L213.3,345.3L213.7,343.9L214.1,345.3L214.5,345.3L214.9,344.6L215.3,344.7L215.7,344.5L216.1,344.8L216.5,345.1L216.9,344.8L217.3,345.3L217.7,345.4L218.1,345.0L218.5,345.0L218.9,344.8L219.3,345.0L219.7,344.3L220.1,345.1L220.5,345.0L220.9,344.5L221.3,346.0L221.7,344.4L222.1,344.5L222.5,345.1L222.9,344.0L223.3,344.5L223.7,344.2L224.1,344.5L224.5,344.9L224.9,345.1L225.3,345.5L225.7,345.4L226.1,345.6L226.5,345.3L226.9,344.7L227.3,345.5L227.7,344.7L228.1,344.7L228.5,345.8L228.9,345.4L229.3,345.1L229.7,345.4L230.1,345.5L230.5,344.3L230.9,345.0L231.3,344.4L231.7,345.1L232.1,344.7L232.5,345.7L232.9,345.3L233.3,344.6L233.7,345.0L234.1,344.5L234.5,345.1L234.9,345.3L235.3,345.2L235.7,344.1L236.1,344.9L236.5,345.3L236.9,345.2L237.3,345.7L237.7,344.5L238.1,345.4L238.5,344.8L238.9,345.2L239.3,345.3L239.7,345.5L240.1,344.8L240.5,345.2L240.9,344.5L241.3,344.4L241.7,345.4L242.1,345.1L242.5,344.3L242.9,344.7L243.3,345.1L243.7,345.9L244.1,345.6L244.5,345.5L244.9,344.2L245.3,345.0L245.7,345.3L246.1,345.3L246.5,345.3L246.9,344.9L247.3,345.9L247.7,345.7L248.1,344.9L248.5,344.3L248.9,345.7L249.3,344.2L249.7,344.5L250.1,343.5L250.5,339.6L250.9,336.6L251.3,333.0L251.7,333.2L252.1,336.1L252.5,340.6L252.9,342.6L253.3,343.8L253.7,345.0L254.1,344.6L254.5,344.7L254.9,346.1L255.3,344.6L255.7,344.8L256.1,345.2L256.5,344.6L256.9,344.1L257.3,345.7L257.7,344.8L258.1,345.0L258.5,345.1L258.9,344.8L259.3,344.7L259.7,345.4L260.1,346.5L260.5,345.7L260.9,345.7L261.3,344.6L261.7,345.3L262.1,344.8L262.5,345.7L262.9,345.2L263.3,345.4L263.7,345.3L264.1,345.1L264.5,344.6L264.9,345.7L265.3,344.7L265.7,344.8L266.1,345.3L266.5,345.1L266.9,345.5L267.3,345.9L267.7,345.6L268.1,345.5L268.5,345.4L268.9,345.9L269.3,344.5L269.7,345.6L270.1,345.0L270.5,344.8L270.9,345.5L271.3,345.3L271.7,345.8L272.1,346.0L272.5,344.3L272.9,345.5L273.3,346.5L273.7,345.9L274.1,346.2L274.5,345.6L274.9,344.8L275.3,344.9L275.7,345.9L276.1,346.0L276.5,345.2L276.9,345.4L277.3,345.7L277.7,344.7L278.1,345.4L278.5,346.3L278.9,346.6L279.3,345.5L279.7,346.5L280.1,345.3L280.5,345.1L280.9,344.4L281.3,346.0L281.7,345.4L282.1,346.7L282.5,345.7L282.9,345.7L283.3,344.7L283.7,346.3L284.1,345.4L284.5,345.5L284.9,344.4L285.3,346.0L285.7,346.0L286.1,345.2L286.5,345.5L286.9,345.7L287.3,345.9L287.7,345.4L288.1,346.2L288.5,345.1L288.9,344.7L289.3,344.2L289.7,341.9L290.1,340.6L290.5,338.7L290.9,336.2L291.3,336.2L291.7,339.4L292.1,341.0L292.5,343.6L292.9,345.0L293.3,345.5L293.7,344.9L294.1,345.9L294.5,346.4L294.9,345.3L295.3,346.0L295.7,344.8L296.1,344.7L296.5,346.0L296.9,345.7L297.3,345.8L297.7,345.4L298.1,345.6L298.5,346.1L298.9,346.6L299.3,345.6L299.7,344.9L300.1,346.4L300.5,346.1L300.9,346.1L301.3,345.9L301.7,347.0L302.1,345.8L302.5,346.1L302.9,344.9L303.3,345.5L303.7,345.5L304.1,345.8L304.5,346.0L304.9,345.5L305.3,346.7L305.7,345.3L306.1,345.6L306.5,346.0L306.9,345.2L307.3,346.2L307.7,346.2L308.1,345.7L308.5,346.8L308.9,345.9L309.3,346.0L309.7,345.4L310.1,345.1L310.5,345.6L310.9,345.8L311.3,345.7L311.7,346.3L312.1,344.7L312.5,345.4L312.9,345.0L313.3,346.6L313.7,345.7L314.1,345.7L314.5,345.4L314.9,346.4L315.3,345.8L315.7,346.1L316.1,345.0L316.5,346.6L316.9,346.2L317.3,346.3L317.7,346.6L318.1,345.9L318.5,345.9L318.9,346.4L319.3,346.2L319.7,345.9L320.1,346.0L320.5,345.8L320.9,346.4L321.3,346.5L321.7,346.0L322.1,347.0L322.5,345.3L322.9,345.9L323.3,346.9L323.7,345.8L324.1,345.3L324.5,346.8L324.9,346.3L325.3,345.5L325.7,346.5L326.1,345.6L326.5,345.4L326.9,346.0L327.3,345.9L327.7,345.6L328.1,345.9L328.5,345.6L328.9,346.1L329.3,346.1L329.7,346.5L330.1,345.9L330.5,345.5L330.9,345.5L331.3,346.0L331.7,346.9L332.1,346.6L332.5,345.8L332.9,346.6L333.3,345.6L333.7,346.7L334.1,346.0L334.5,346.6L334.9,346.5L335.3,346.0L335.7,346.3L336.1,345.7L336.5,346.2L336.9,346.7L337.3,348.3L337.7,346.6L338.1,346.2L338.5,345.7L338.9,346.7L339.3,345.4L339.7,345.8L340.1,346.4L340.5,345.6L340.9,347.0L341.3,346.8L341.7,345.9L342.1,346.0L342.5,345.6L342.9,345.5L343.3,346.5L343.7,346.6L344.1,346.4L344.5,346.4L344.9,346.0L345.3,346.4L345.7,345.5L346.1,346.3L346.5,347.0L346.9,346.9L347.3,346.0L347.7,346.1L348.1,347.0L348.5,347.2L348.9,345.5L349.3,346.1L349.7,346.4L350.1,346.9L350.5,345.9L350.9,346.6L351.3,346.1L351.7,347.5L352.1,346.5L352.5,346.2L352.9,346.1L353.3,346.8L353.7,346.6L354.1,345.8L354.5,346.4L354.9,345.6L355.3,345.9L355.7,345.6L356.1,345.6L356.5,345.9L356.9,345.8L357.3,346.5L357.7,346.6L358.1,346.1L358.5,345.6L358.9,346.5L359.3,345.0L359.7,344.9L360.1,345.9L360.5,345.1L360.9,343.7L361.3,340.7L361.7,337.6L362.1,337.2L362.5,339.5L362.9,341.5L363.3,343.6L363.7,344.5L364.1,345.2L364.5,346.4L364.9,346.3L365.3,345.6L365.7,345.7L366.1,346.0L366.5,346.6L366.9,345.8L367.3,346.3L367.7,345.3L368.1,345.8L368.5,346.6L368.9,346.9L369.3,345.8L369.7,346.0L370.1,346.8L370.5,346.3L370.9,346.2L371.3,346.7L371.7,346.6L372.1,347.0L372.5,346.9L372.9,346.2L373.3,346.4L373.7,346.5L374.1,345.8L374.5,346.0L374.9,347.0L375.3,345.7L375.7,347.0L376.1,346.7L376.5,346.5L376.9,346.8L377.3,346.8L377.7,347.1L378.1,346.3L378.5,346.4L378.9,346.4L379.3,347.5L379.7,347.0L380.1,346.1L380.5,346.4L380.9,346.2L381.3,346.6L381.7,346.7L382.1,347.7L382.5,345.7L382.9,347.1L383.3,346.8L383.7,346.2L384.1,346.5L384.5,346.4L384.9,346.6L385.3,347.1L385.7,345.9L386.1,347.3L386.5,346.4L386.9,347.4L387.3,346.8L387.7,347.3L388.1,346.9L388.5,347.2L388.9,346.7L389.3,346.2L389.7,347.0L390.1,347.0L390.5,347.7L390.9,345.7L391.3,346.6L391.7,347.2L392.1,346.0L392.5,346.6L392.9,347.7L393.3,347.4L393.7,346.3L394.1,347.4L394.5,347.3L394.9,347.1L395.3,346.9L395.7,346.8L396.1,346.3L396.5,346.5L396.9,347.1L397.3,346.8L397.7,347.7L398.1,346.6L398.5,345.5L398.9,346.6L399.3,346.9L399.7,346.9L400.1,346.8L400.5,346.3L400.9,347.5L401.3,346.4L401.7,347.1L402.1,346.6L402.5,346.2L402.9,347.5L403.3,345.5L403.7,346.4L404.1,347.0L404.5,346.6L404.9,347.2L405.3,346.7L405.7,346.6L406.1,347.9L406.5,346.7L406.9,346.7L407.3,346.3L407.7,346.4L408.1,347.1L408.5,347.1L408.9,346.8L409.3,346.5L409.7,347.2L410.1,346.0L410.5,346.7L410.9,346.7L411.3,346.4L411.7,346.9L412.1,346.5L412.5,346.5L412.9,347.8L413.3,347.2L413.7,347.5L414.1,346.9L414.5,347.4L414.9,347.3L415.3,347.5L415.7,348.1L416.1,346.8L416.5,347.0L416.9,346.9L417.3,345.1L417.7,346.2L418.1,346.9L418.5,347.2L418.9,346.6L419.3,347.5L419.7,347.6L420.1,346.7L420.5,347.6L420.9,347.8L421.3,347.2L421.7,346.5L422.1,347.7L422.5,346.9L422.9,346.8L423.3,347.0L423.7,346.7L424.1,347.5L424.5,347.4L424.9,347.6L425.3,347.3L425.7,346.6L426.1,346.9L426.5,347.4L426.9,346.8L427.3,348.5L427.7,346.9L428.1,346.7L428.5,347.6L428.9,347.4L429.3,347.0L429.7,346.9L430.1,347.2L430.5,347.4L430.9,347.4L431.3,346.9L431.7,347.2L432.1,347.5L432.5,347.4L432.9,345.5L433.3,346.6L433.7,346.7L434.1,346.9L434.5,347.1L434.9,347.5L435.3,347.4L435.7,347.0L436.1,347.1L436.5,347.9L436.9,346.8L437.3,347.2L437.7,347.9L438.1,347.3L438.5,346.1L438.9,347.3L439.3,346.9L439.7,347.0L440.1,347.6L440.5,347.3L440.9,347.0L441.3,347.5L441.7,347.3L442.1,347.2L442.5,347.3L442.9,347.2L443.3,346.9L443.7,346.9L444.1,347.1L444.5,346.6L444.9,346.5L445.3,347.8L445.7,347.0L446.1,347.1L446.5,347.0L446.9,347.1L447.3,347.1L447.7,347.1L448.1,346.7L448.5,347.6L448.9,346.8L449.3,347.6L449.7,346.1L450.1,346.5L450.5,347.6L450.9,347.0L451.3,346.7L451.7,347.2L452.1,346.4L452.5,346.9L452.9,345.7L453.3,346.5L453.7,346.3L454.1,346.6L454.5,346.3L454.9,344.2L455.3,343.0L455.7,337.7L456.1,332.2L456.5,329.6L456.9,333.9L457.3,337.9L457.7,341.8L458.1,344.3L458.5,345.3L458.9,347.1L459.3,346.6L459.7,347.7L460.1,346.8L460.5,345.8L460.9,347.4L461.3,346.9L461.7,347.0L462.1,347.9L462.5,347.0L462.9,347.7L463.3,347.2L463.7,346.8L464.1,347.5L464.5,346.9L464.9,347.8L465.3,347.7L465.7,347.3L466.1,347.6L466.5,347.5L466.9,347.1L467.3,347.7L467.7,347.2L468.1,347.6L468.5,346.8L468.9,347.3L469.3,347.5L469.7,346.9L470.1,347.1L470.5,347.1L470.9,347.7L471.3,347.0L471.7,347.5L472.1,348.1L472.5,347.5L472.9,346.5L473.3,347.4L473.7,347.9L474.1,347.2L474.5,347.9L474.9,347.7L475.3,347.6L475.7,347.2L476.1,347.1L476.5,347.2L476.9,347.4L477.3,347.6L477.7,347.6L478.1,347.2L478.5,347.4L478.9,347.6L479.3,346.6L479.7,347.0L480.1,347.0L480.5,347.3L480.9,347.2L481.3,347.2L481.7,346.9L482.1,347.7L482.5,347.5L482.9,346.5L483.3,347.3L483.7,346.7L484.1,347.9L484.5,346.5L484.9,345.9L485.3,345.2L485.7,344.4L486.1,344.5L486.5,346.1L486.9,346.3L487.3,347.3L487.7,347.7L488.1,346.8L488.5,348.2L488.9,347.7L489.3,347.9L489.7,347.0L490.1,347.8L490.5,347.7L490.9,347.2L491.3,348.6L491.7,347.8L492.1,347.4L492.5,347.6L492.9,347.9L493.3,348.1L493.7,347.8L494.1,348.1L494.5,348.2L494.9,346.9L495.3,347.3L495.7,347.1L496.1,347.6L496.5,348.3L496.9,347.9L497.3,347.0L497.7,347.4L498.1,348.1L498.5,347.3L498.9,347.5L499.3,347.7L499.7,346.6L500.1,348.0L500.5,347.7L500.9,347.9L501.3,347.1L501.7,347.2L502.1,347.3L502.5,347.7L502.9,347.6L503.3,347.6L503.7,348.5L504.1,348.2L504.5,347.2L504.9,347.3L505.3,348.5L505.7,347.4L506.1,348.3L506.5,348.4L506.9,347.3L507.3,347.5L507.7,347.6L508.1,347.2L508.5,347.1L508.9,347.4L509.3,348.0L509.7,347.4L510.1,347.5L510.5,347.4L510.9,346.9L511.3,348.3L511.7,346.4L512.1,347.2L512.5,347.7L512.9,346.6L513.3,347.2L513.7,346.9L514.1,344.9L514.5,344.6L514.9,344.0L515.3,345.6L515.7,346.4L516.1,347.1L516.5,348.0L516.9,347.7L517.3,348.2L517.7,347.9L518.1,347.0L518.5,347.8L518.9,347.9L519.3,346.9L519.7,348.3L520.1,347.7L520.5,347.9L520.9,347.2L521.3,347.7L521.7,347.9L522.1,347.5L522.5,347.8L522.9,346.7L523.3,348.4L523.7,347.2L524.1,346.6L524.5,347.3L524.9,347.3L525.3,348.0L525.7,347.3L526.1,347.9L526.5,347.3L526.9,348.9L527.3,348.0L527.7,348.7L528.1,347.3L528.5,348.1L528.9,347.3L529.3,348.1L529.7,348.1L530.1,347.0L530.5,347.2L530.9,347.2L531.3,347.0L531.7,347.4L532.1,347.3L532.5,347.1L532.9,347.8L533.3,348.1L533.7,347.1L534.1,347.5L534.5,347.8L534.9,347.7L535.3,347.4L535.7,348.2L536.1,348.2L536.5,348.1L536.9,347.7L537.3,348.8L537.7,348.6L538.1,347.6L538.5,347.7L538.9,348.3L539.3,347.3L539.7,347.9L540.1,347.6L540.5,347.1L540.9,346.9L541.3,345.4L541.7,344.7L542.1,342.6L542.5,344.2L542.9,344.6L543.3,345.9L543.7,346.6L544.1,347.7L544.5,348.1L544.9,348.2L545.3,348.2L545.7,347.3L546.1,348.0L546.5,347.5L546.9,347.2L547.3,347.3L547.7,348.1L548.1,348.4L548.5,347.2L548.9,348.8L549.3,348.6L549.7,347.7L550.1,347.7L550.5,347.9L550.9,348.4L551.3,347.7L551.7,347.4L552.1,348.1L552.5,346.9L552.9,348.0L553.3,348.5L553.7,348.1L554.1,348.3L554.5,348.2L554.9,348.3L555.3,348.0L555.7,347.5L556.1,347.9L556.5,347.9L556.9,348.6L557.3,348.8L557.7,348.2L558.1,347.6L558.5,347.6L558.9,347.9L559.3,348.7L559.7,348.2L560.1,348.0L560.5,347.6L560.9,348.4L561.3,348.1L561.7,348.0L562.1,348.1L562.5,348.9L562.9,347.9L563.3,348.9L563.7,348.6L564.1,348.1L564.5,348.5L564.9,348.0L565.3,347.6L565.7,347.9L566.1,347.6L566.5,348.3L566.9,348.1L567.3,348.3L567.7,348.5L568.1,346.5L568.5,348.2L568.9,347.2L569.3,348.1L569.7,347.6L570.1,348.1L570.5,348.8L570.9,347.2L571.3,348.2L571.7,348.0L572.1,347.1L572.5,348.4L572.9,348.1L573.3,347.8L573.7,347.7L574.1,349.7L574.5,347.9L574.9,347.2L575.3,347.6L575.7,347.9L576.1,347.9L576.5,348.1L576.9,347.6L577.3,348.4L577.7,347.9L578.1,347.5L578.5,347.7L578.9,347.9L579.3,348.6L579.7,348.4L580.1,348.0L580.5,348.2L580.9,348.3L581.3,349.2L581.7,347.8L582.1,348.4L582.5,348.5L582.9,347.7L583.3,348.3L583.7,348.3L584.1,347.9L584.5,348.5L584.9,348.7L585.3,348.7L585.7,348.1L586.1,348.3L586.5,349.4L586.9,347.6L587.3,348.3L587.7,348.6L588.1,348.3L588.5,348.5L588.9,348.3L589.3,348.6L589.7,348.9L590.1,348.1L590.5,348.3L590.9,348.2L591.3,348.0L591.7,348.2L592.1,347.7L592.5,348.6L592.9,349.1L593.3,349.1L593.7,348.9L594.1,347.8L594.5,349.0L594.9,347.9L595.3,348.2L595.7,349.2L596.1,347.7L596.5,348.7L596.9,348.4L597.3,348.2L597.7,347.8L598.1,348.5L598.5,348.0L598.9,348.8L599.3,348.9L599.7,347.6L600.1,348.0L600.5,348.1L600.9,347.7L601.3,347.7L601.7,348.3L602.1,348.2" fill="none" stroke="#0c0cd6" stroke-width="3.2" stroke-linejoin="round"/>
<line x1="160.0" y1="371" x2="160.0" y2="389.6" stroke="#24e2ee" stroke-width="3.4"/>
<line x1="208.7" y1="353" x2="208.7" y2="389.6" stroke="#24e2ee" stroke-width="3.4"/>
<line x1="251.5" y1="363" x2="251.5" y2="389.6" stroke="#24e2ee" stroke-width="3.4"/>
<line x1="291.1" y1="366.6" x2="291.1" y2="389.6" stroke="#24e2ee" stroke-width="3.4"/>
<line x1="362.2" y1="369" x2="362.2" y2="389.6" stroke="#24e2ee" stroke-width="3.4"/>
<line x1="395.0" y1="382.7" x2="395.0" y2="389.6" stroke="#24e2ee" stroke-width="3.4"/>
<line x1="456.9" y1="355" x2="456.9" y2="389.6" stroke="#24e2ee" stroke-width="3.4"/>
<line x1="485.7" y1="379.4" x2="485.7" y2="389.6" stroke="#24e2ee" stroke-width="3.4"/>
<line x1="514.5" y1="379.4" x2="514.5" y2="389.6" stroke="#24e2ee" stroke-width="3.4"/>
<line x1="542.6" y1="376.9" x2="542.6" y2="389.6" stroke="#24e2ee" stroke-width="3.4"/>
<line x1="596.7" y1="383.2" x2="596.7" y2="389.6" stroke="#24e2ee" stroke-width="3.4"/>
<path d="M676.0,259.6L676.5,260.1L677.0,260.7L677.5,260.0L678.0,260.2L678.5,261.5L679.0,261.4L679.5,260.2L680.0,260.4L680.5,261.3L681.0,260.7L681.5,261.3L682.0,261.3L682.5,261.9L683.0,260.6L683.5,260.8L684.0,261.4L684.5,262.5L685.0,262.1L685.5,261.5L686.0,262.7L686.5,262.9L687.0,262.6L687.5,262.7L688.0,263.2L688.5,263.6L689.0,263.3L689.5,263.6L690.0,263.5L690.5,263.5L691.0,263.4L691.5,264.1L692.0,264.0L692.5,264.2L693.0,264.9L693.5,264.9L694.0,265.2L694.5,264.3L695.0,265.5L695.5,265.2L696.0,265.3L696.5,265.5L697.0,266.7L697.5,266.7L698.0,266.3L698.5,266.3L699.0,267.1L699.5,267.1L700.0,268.3L700.5,267.1L701.0,267.2L701.5,268.1L702.0,268.5L702.5,268.8L703.0,269.3L703.5,270.1L704.0,269.3L704.5,269.4L705.0,269.0L705.5,270.2L706.0,270.6L706.5,270.3L707.0,271.2L707.5,270.8L708.0,271.6L708.5,271.3L709.0,270.8L709.5,271.1L710.0,270.8L710.5,270.9L711.0,271.9L711.5,272.2L712.0,272.8L712.5,271.9L713.0,271.9L713.5,271.6L714.0,272.6L714.5,272.4L715.0,272.0L715.5,272.6L716.0,272.6L716.5,271.6L717.0,272.8L717.5,272.6L718.0,272.5L718.5,272.5L719.0,273.5L719.5,273.5L720.0,273.7L720.5,272.4L721.0,272.7L721.5,273.4L722.0,272.5L722.5,272.8L723.0,272.3L723.5,274.0L724.0,273.7L724.5,273.5L725.0,273.4L725.5,273.2L726.0,273.3L726.5,273.8L727.0,273.2L727.5,274.1L728.0,273.4L728.5,273.3L729.0,274.3L729.5,273.7L730.0,274.0L730.5,273.6L731.0,272.8L731.5,274.1L732.0,273.3L732.5,274.5L733.0,273.3L733.5,273.2L734.0,274.2L734.5,274.3L735.0,274.2L735.5,273.6L736.0,274.6L736.5,273.6L737.0,274.1L737.5,274.0L738.0,274.2L738.5,274.8L739.0,274.1L739.5,274.7L740.0,274.8L740.5,273.7L741.0,274.0L741.5,274.4L742.0,274.3L742.5,274.7L743.0,273.8L743.5,275.0L744.0,275.0L744.5,274.6L745.0,274.1L745.5,274.7L746.0,274.5L746.5,275.0L747.0,274.8L747.5,275.2L748.0,274.7L748.5,275.5L749.0,273.9L749.5,274.5L750.0,275.2L750.5,274.3L751.0,275.3L751.5,274.4L752.0,275.0L752.5,274.6L753.0,274.8L753.5,275.1L754.0,275.0L754.5,274.9L755.0,276.1L755.5,275.1L756.0,274.7L756.5,275.6L757.0,275.5L757.5,275.7L758.0,276.0L758.5,274.8L759.0,275.7L759.5,275.7L760.0,275.2L760.5,275.3L761.0,273.9L761.5,275.0L762.0,276.1L762.5,274.5L763.0,275.0L763.5,275.4L764.0,275.6L764.5,276.1L765.0,274.5L765.5,275.4L766.0,275.7L766.5,274.8L767.0,275.4L767.5,276.2L768.0,276.0L768.5,275.6L769.0,274.2L769.5,275.4L770.0,275.6L770.5,275.3L771.0,275.4L771.5,276.8L772.0,275.4L772.5,275.0L773.0,275.6L773.5,275.4L774.0,275.4L774.5,275.5L775.0,275.9L775.5,275.6L776.0,275.0L776.5,275.5L777.0,275.8L777.5,275.4L778.0,276.1L778.5,275.9L779.0,275.1L779.5,275.7L780.0,276.5L780.5,276.3L781.0,275.6L781.5,276.0L782.0,275.3L782.5,275.0L783.0,275.9L783.5,275.8L784.0,275.9L784.5,275.7L785.0,275.8L785.5,275.4L786.0,275.9L786.5,276.1L787.0,275.7L787.5,276.1L788.0,274.9L788.5,275.4L789.0,276.4L789.5,276.5L790.0,275.8L790.5,275.7L791.0,275.2L791.5,275.9L792.0,276.1L792.5,275.1L793.0,276.0L793.5,276.0L794.0,276.0L794.5,275.3L795.0,276.0L795.5,275.1L796.0,276.4L796.5,275.8L797.0,275.3L797.5,276.4L798.0,276.3L798.5,275.5L799.0,276.8L799.5,275.3L800.0,275.9L800.5,276.3L801.0,274.8L801.5,276.2L802.0,275.8L802.5,275.8L803.0,275.3L803.5,275.9L804.0,275.3L804.5,275.4L805.0,275.6L805.5,275.2L806.0,276.5L806.5,275.2L807.0,275.4L807.5,275.6L808.0,275.7L808.5,276.0L809.0,276.0L809.5,275.5L810.0,275.4L810.5,275.6L811.0,275.9L811.5,275.8L812.0,275.2L812.5,274.5L813.0,276.4L813.5,275.8L814.0,275.4L814.5,275.4L815.0,275.0L815.5,274.7L816.0,275.0L816.5,275.0L817.0,274.7L817.5,274.3L818.0,274.8L818.5,275.1L819.0,274.6L819.5,274.8L820.0,273.8L820.5,274.5L821.0,274.5L821.5,273.9L822.0,273.6L822.5,274.4L823.0,273.8L823.5,274.2L824.0,273.7L824.5,274.0L825.0,273.4L825.5,272.7L826.0,273.2L826.5,272.9L827.0,273.1L827.5,272.5L828.0,272.3L828.5,272.7L829.0,272.6L829.5,272.2L830.0,272.2L830.5,271.7L831.0,271.7L831.5,271.5L832.0,271.1L832.5,270.8L833.0,270.6L833.5,271.5L834.0,270.2L834.5,269.9L835.0,269.7L835.5,269.7L836.0,269.6L836.5,268.8L837.0,268.3L837.5,269.1L838.0,268.1L838.5,268.8L839.0,268.6L839.5,268.8L840.0,268.9L840.5,268.1L841.0,267.5L841.5,267.1L842.0,267.1L842.5,267.3L843.0,266.1L843.5,266.9L844.0,266.7L844.5,266.8L845.0,266.2L845.5,266.2L846.0,265.6L846.5,265.5L847.0,264.7L847.5,265.4L848.0,265.8L848.5,265.0L849.0,264.8L849.5,264.0L850.0,264.9L850.5,263.6L851.0,264.1L851.5,263.5L852.0,262.8L852.5,263.5L853.0,262.7L853.5,262.5L854.0,262.4L854.5,261.9L855.0,261.5L855.5,261.6L856.0,260.9L856.5,260.8L857.0,260.2L857.5,259.5L858.0,259.6L858.5,259.4L859.0,259.3L859.5,259.5L860.0,257.9L860.5,258.4L861.0,257.1L861.5,257.3L862.0,257.2L862.5,256.1L863.0,255.9L863.5,256.5L864.0,256.2L864.5,255.8L865.0,255.1L865.5,256.1L866.0,254.8L866.5,254.1L867.0,255.0L867.5,254.2L868.0,253.4L868.5,253.8L869.0,253.0L869.5,252.9L870.0,252.4L870.5,251.5L871.0,252.0L871.5,251.3L872.0,250.5L872.5,250.2L873.0,250.7L873.5,249.7L874.0,249.5L874.5,249.4L875.0,248.8L875.5,247.7L876.0,248.3L876.5,248.0L877.0,247.6L877.5,247.5L878.0,246.5L878.5,246.2L879.0,246.2L879.5,244.9L880.0,245.3L880.5,244.8L881.0,243.9L881.5,243.8L882.0,242.9L882.5,241.5L883.0,241.9L883.5,240.9L884.0,240.4L884.5,239.6L885.0,239.6L885.5,238.6L886.0,237.4L886.5,237.2L887.0,236.7L887.5,235.4L888.0,234.8L888.5,234.1L889.0,233.3L889.5,233.0L890.0,232.6L890.5,232.3L891.0,231.3L891.5,230.5L892.0,229.8L892.5,229.1L893.0,227.6L893.5,227.3L894.0,226.4L894.5,225.4L895.0,224.5L895.5,223.6L896.0,222.9L896.5,221.6L897.0,221.5L897.5,220.3L898.0,219.5L898.5,218.6L899.0,217.8L899.5,216.1L900.0,215.3L900.5,213.5L901.0,212.0L901.5,210.8L902.0,210.9L902.5,208.0L903.0,207.5L903.5,206.4L904.0,203.9L904.5,203.3L905.0,201.8L905.5,199.9L906.0,199.1L906.5,196.9L907.0,194.8L907.5,194.0L908.0,192.2L908.5,190.5L909.0,189.1L909.5,189.4L910.0,186.6L910.5,185.4L911.0,183.6L911.5,182.4L912.0,180.6L912.5,178.7L913.0,176.5L913.5,174.5L914.0,172.8L914.5,171.2L915.0,169.9L915.5,167.4L916.0,165.7L916.5,163.0L917.0,160.7L917.5,158.1L918.0,156.6L918.5,153.5L919.0,152.1L919.5,150.7L920.0,147.7L920.5,145.4L921.0,141.8L921.5,138.4L922.0,135.7L922.5,132.7L923.0,130.6L923.5,128.2L924.0,124.4L924.5,122.0L925.0,119.6L925.5,117.0L926.0,114.0L926.5,112.1L927.0,109.6L927.5,106.9L928.0,103.5L928.5,101.3L929.0,98.0L929.5,96.8L930.0,93.5L930.5,91.5L931.0,89.1L931.5,86.8L932.0,84.4L932.5,82.0L933.0,81.6L933.5,79.1L934.0,77.2L934.5,76.0L935.0,73.4L935.5,73.1L936.0,73.3L936.5,75.0L937.0,76.5L937.5,78.3L938.0,79.9L938.5,82.0L939.0,84.4L939.5,85.2L940.0,88.4L940.5,90.7L941.0,93.2L941.5,95.0L942.0,98.8L942.5,100.7L943.0,103.6L943.5,106.1L944.0,108.4L944.5,111.7L945.0,114.0L945.5,117.2L946.0,120.4L946.5,123.4L947.0,126.3L947.5,129.1L948.0,133.1L948.5,135.2L949.0,137.4L949.5,140.7L950.0,143.6L950.5,146.7L951.0,149.6L951.5,152.6L952.0,157.0L952.5,159.4L953.0,162.3L953.5,165.3L954.0,167.9L954.5,170.8L955.0,172.4L955.5,174.6L956.0,174.5L956.5,177.7L957.0,179.6L957.5,181.5L958.0,182.1L958.5,182.6L959.0,184.8L959.5,185.4L960.0,185.9L960.5,187.4L961.0,189.1L961.5,190.1L962.0,190.8L962.5,190.8L963.0,193.2L963.5,192.3L964.0,193.6L964.5,193.7L965.0,195.6L965.5,195.8L966.0,196.6L966.5,196.8L967.0,197.2L967.5,197.8L968.0,197.3L968.5,199.0L969.0,199.3L969.5,199.1L970.0,199.7L970.5,200.2L971.0,201.1L971.5,200.9L972.0,201.1L972.5,201.1L973.0,200.9L973.5,201.6L974.0,202.1L974.5,202.1L975.0,202.4L975.5,202.8L976.0,202.7L976.5,202.6L977.0,202.8L977.5,202.5L978.0,202.3L978.5,202.5L979.0,201.3L979.5,202.5L980.0,201.2L980.5,201.9L981.0,201.3L981.5,201.6L982.0,200.8L982.5,200.1L983.0,200.7L983.5,199.9L984.0,199.5L984.5,199.1L985.0,199.2L985.5,198.7L986.0,197.9L986.5,196.3L987.0,195.9L987.5,194.9L988.0,194.4L988.5,192.3L989.0,190.6L989.5,189.6L990.0,187.4L990.5,185.9L991.0,184.3L991.5,181.7L992.0,180.8L992.5,178.5L993.0,176.0L993.5,173.4L994.0,171.7L994.5,169.9L995.0,166.3L995.5,163.2L996.0,160.9L996.5,156.9L997.0,153.6L997.5,151.5L998.0,148.8L998.5,146.7L999.0,144.4L999.5,142.5L1000.0,140.1L1000.5,137.9L1001.0,136.4L1001.5,135.8L1002.0,135.6L1002.5,135.7L1003.0,136.2L1003.5,135.3L1004.0,137.5L1004.5,139.2L1005.0,141.0L1005.5,141.8L1006.0,145.0L1006.5,146.2L1007.0,147.7L1007.5,150.3L1008.0,152.6L1008.5,155.3L1009.0,159.0L1009.5,162.0L1010.0,165.1L1010.5,169.2L1011.0,173.4L1011.5,177.5L1012.0,183.6L1012.5,187.8L1013.0,194.4L1013.5,199.9L1014.0,205.5L1014.5,212.4L1015.0,218.8L1015.5,223.1L1016.0,227.0L1016.5,231.6L1017.0,236.2L1017.5,238.1L1018.0,242.3L1018.5,245.1L1019.0,248.0L1019.5,250.7L1020.0,253.5L1020.5,256.7L1021.0,258.9L1021.5,260.4L1022.0,263.5L1022.5,263.9L1023.0,266.4L1023.5,267.7L1024.0,269.6L1024.5,270.5L1025.0,272.0L1025.5,272.6L1026.0,274.0L1026.5,274.5L1027.0,276.0L1027.5,275.4L1028.0,276.9L1028.5,277.1L1029.0,277.6L1029.5,277.8L1030.0,278.7L1030.5,278.3L1031.0,278.8L1031.5,280.2L1032.0,279.6L1032.5,281.3L1033.0,280.9L1033.5,281.5L1034.0,281.8L1034.5,282.2L1035.0,282.2L1035.5,282.5L1036.0,282.9L1036.5,283.7L1037.0,284.0L1037.5,284.3L1038.0,284.1L1038.5,284.1L1039.0,283.7L1039.5,285.0L1040.0,285.3L1040.5,284.9L1041.0,285.7L1041.5,286.1L1042.0,285.7L1042.5,286.3L1043.0,286.2L1043.5,285.4L1044.0,286.2L1044.5,286.4L1045.0,286.9L1045.5,286.5L1046.0,286.8L1046.5,286.7L1047.0,287.3L1047.5,287.5L1048.0,288.0L1048.5,288.1L1049.0,287.9L1049.5,288.1L1050.0,288.1L1050.5,288.2L1051.0,289.0L1051.5,287.3L1052.0,288.5L1052.5,288.8L1053.0,289.3L1053.5,288.4L1054.0,289.1L1054.5,289.5L1055.0,289.0L1055.5,288.4L1056.0,289.2L1056.5,288.9L1057.0,289.8L1057.5,289.3L1058.0,290.5L1058.5,289.9L1059.0,289.5L1059.5,289.7L1060.0,289.5L1060.5,290.3L1061.0,290.9L1061.5,290.2L1062.0,290.7L1062.5,290.0L1063.0,290.6L1063.5,291.6L1064.0,290.0L1064.5,291.2L1065.0,291.3L1065.5,290.0L1066.0,290.2L1066.5,290.5L1067.0,291.4L1067.5,290.9L1068.0,291.1L1068.5,291.5L1069.0,291.3L1069.5,291.4L1070.0,291.2L1070.5,292.0L1071.0,291.2L1071.5,292.3L1072.0,291.5L1072.5,291.3L1073.0,292.0L1073.5,292.0L1074.0,290.9L1074.5,292.0L1075.0,291.3L1075.5,291.6L1076.0,292.4L1076.5,291.7L1077.0,292.3L1077.5,292.0L1078.0,293.1L1078.5,292.2L1079.0,291.8L1079.5,291.9L1080.0,292.0L1080.5,292.5L1081.0,292.5L1081.5,292.9L1082.0,292.6L1082.5,292.6L1083.0,292.8L1083.5,292.6L1084.0,292.8L1084.5,293.0L1085.0,293.1L1085.5,292.5L1086.0,292.0L1086.5,292.4L1087.0,293.0L1087.5,291.7L1088.0,292.7L1088.5,293.1L1089.0,292.7L1089.5,292.5L1090.0,293.8L1090.5,293.6L1091.0,292.9L1091.5,293.7L1092.0,293.7L1092.5,292.6L1093.0,294.3L1093.5,292.7L1094.0,293.1L1094.5,292.7L1095.0,293.3L1095.5,292.7L1096.0,293.3L1096.5,293.8L1097.0,293.4L1097.5,293.2L1098.0,294.1L1098.5,293.0L1099.0,293.9L1099.5,293.3L1100.0,293.6L1100.5,293.5L1101.0,293.6L1101.5,293.5L1102.0,293.2L1102.5,293.3L1103.0,293.8L1103.5,293.6L1104.0,293.1L1104.5,293.4L1105.0,293.4L1105.5,293.7L1106.0,293.8L1106.5,293.8L1107.0,293.5L1107.5,293.8L1108.0,293.2L1108.5,292.5L1109.0,293.8L1109.5,293.1L1110.0,293.5L1110.5,293.4L1111.0,294.2L1111.5,293.4L1112.0,294.1L1112.5,293.8L1113.0,293.5L1113.5,293.3L1114.0,294.3L1114.5,294.2L1115.0,294.4L1115.5,294.9L1116.0,294.2L1116.5,294.3L1117.0,294.1L1117.5,294.2L1118.0,294.0L1118.5,293.8L1119.0,295.1L1119.5,293.4L1120.0,294.3L1120.5,294.4L1121.0,294.3L1121.5,293.8L1122.0,294.2L1122.5,294.1L1123.0,293.8L1123.5,294.3L1124.0,294.2L1124.5,294.1L1125.0,294.7L1125.5,293.9L1126.0,294.6L1126.5,294.1L1127.0,294.6L1127.5,294.5L1128.0,294.5L1128.5,294.0L1129.0,294.1L1129.5,294.1L1130.0,294.5L1130.5,294.8L1131.0,295.0L1131.5,294.3L1132.0,294.5L1132.5,293.8L1133.0,293.5L1133.5,294.1L1134.0,294.2L1134.5,293.8L1135.0,293.7L1135.5,294.8L1136.0,294.2L1136.5,293.8L1137.0,295.6L1137.5,294.6L1138.0,294.4L1138.5,294.9L1139.0,294.2L1139.5,295.3L1140.0,293.9L1140.5,294.0L1141.0,294.5L1141.5,294.2L1142.0,295.2L1142.5,293.9L1143.0,294.3L1143.5,294.7L1144.0,294.8L1144.5,295.0L1145.0,294.7L1145.5,295.6L1146.0,294.4L1146.5,294.7L1147.0,295.0L1147.5,294.4L1148.0,294.4L1148.5,294.4L1149.0,294.3L1149.5,294.1L1150.0,294.3L1150.5,293.9L1151.0,294.7L1151.5,293.8L1152.0,295.5L1152.5,295.3L1153.0,295.0L1153.5,294.4L1154.0,294.3L1154.5,295.1L1155.0,294.6L1155.5,294.8L1156.0,294.2L1156.5,295.0L1157.0,294.1L1157.5,294.6L1158.0,293.7L1158.5,294.2L1159.0,294.7L1159.5,294.3L1160.0,294.3L1160.5,294.8L1161.0,294.4L1161.5,295.0L1162.0,293.4L1162.5,294.7L1163.0,294.7L1163.5,293.7L1164.0,293.8L1164.5,294.8L1165.0,293.9L1165.5,294.1L1166.0,294.7L1166.5,294.2L1167.0,294.6L1167.5,294.0L1168.0,294.5L1168.5,294.8L1169.0,294.5L1169.5,293.3L1170.0,294.6L1170.5,294.3L1171.0,293.9L1171.5,294.9L1172.0,293.5L1172.5,295.1L1173.0,294.0L1173.5,295.0L1174.0,294.2L1174.5,293.6L1175.0,294.3L1175.5,294.4L1176.0,294.4L1176.5,294.7L1177.0,293.8L1177.5,294.4L1178.0,294.5L1178.5,294.0L1179.0,293.7L1179.5,293.7L1180.0,294.5L1180.5,294.5L1181.0,293.7L1181.5,293.5L1182.0,294.6L1182.5,293.4L1183.0,294.1L1183.5,293.7L1184.0,293.2L1184.5,294.1L1185.0,293.9L1185.5,294.6L1186.0,295.0L1186.5,293.9L1187.0,294.4L1187.5,294.4L1188.0,293.7L1188.5,293.5L1189.0,294.6L1189.5,293.7L1190.0,293.9L1190.5,293.7L1191.0,293.8L1191.5,293.6L1192.0,294.2L1192.5,294.4L1193.0,293.6L1193.5,293.2L1194.0,293.8L1194.5,293.1L1195.0,293.4L1195.5,294.3L1196.0,294.7L1196.5,293.8L1197.0,293.2L1197.5,294.0L1198.0,292.6L1198.5,293.3L1199.0,294.2L1199.5,293.9L1200.0,292.9L1200.5,292.7L1201.0,293.8L1201.5,293.4L1202.0,293.1L1202.5,293.6L1203.0,293.1L1203.5,292.5L1204.0,293.7L1204.5,293.0L1205.0,292.8L1205.5,292.6L1206.0,293.3L1206.5,292.8L1207.0,293.4L1207.5,293.0L1208.0,293.5L1208.5,292.9L1209.0,292.7L1209.5,292.1L1210.0,292.4L1210.5,293.2L1211.0,294.2L1211.5,292.3L1212.0,292.3L1212.5,292.9L1213.0,293.0L1213.5,292.4L1214.0,292.7L1214.5,291.9L1215.0,292.5L1215.5,293.0L1216.0,293.3L1216.5,292.4L1217.0,292.3L1217.5,292.6L1218.0,292.9L1218.5,292.6L1219.0,292.0L1219.5,292.4L1220.0,292.7L1220.5,291.9" fill="none" stroke="#000000" stroke-width="2.6" stroke-linejoin="round"/>
<path d="M676.0,297.5L676.5,298.4L677.0,298.4L677.5,298.8L678.0,298.5L678.5,298.3L679.0,298.5L679.5,298.3L680.0,298.5L680.5,298.8L681.0,298.9L681.5,299.7L682.0,298.8L682.5,299.4L683.0,299.3L683.5,300.3L684.0,299.9L684.5,299.7L685.0,300.3L685.5,300.1L686.0,300.0L686.5,301.0L687.0,300.7L687.5,301.2L688.0,301.1L688.5,301.0L689.0,300.8L689.5,300.4L690.0,301.3L690.5,301.1L691.0,301.5L691.5,301.3L692.0,301.0L692.5,301.0L693.0,301.9L693.5,302.2L694.0,301.6L694.5,302.0L695.0,302.5L695.5,301.6L696.0,301.9L696.5,301.7L697.0,302.8L697.5,302.4L698.0,302.2L698.5,301.7L699.0,302.5L699.5,303.1L700.0,302.6L700.5,302.6L701.0,303.2L701.5,302.4L702.0,303.0L702.5,303.3L703.0,302.8L703.5,302.8L704.0,303.4L704.5,303.3L705.0,303.3L705.5,303.5L706.0,303.6L706.5,303.1L707.0,303.3L707.5,303.8L708.0,304.2L708.5,304.3L709.0,303.4L709.5,304.3L710.0,304.2L710.5,303.9L711.0,304.1L711.5,304.3L712.0,304.8L712.5,303.5L713.0,304.3L713.5,304.0L714.0,304.0L714.5,304.6L715.0,304.5L715.5,303.7L716.0,304.1L716.5,304.3L717.0,303.6L717.5,304.7L718.0,304.3L718.5,304.4L719.0,304.5L719.5,305.2L720.0,304.4L720.5,304.3L721.0,305.2L721.5,304.2L722.0,304.3L722.5,303.9L723.0,305.0L723.5,304.7L724.0,304.8L724.5,304.7L725.0,304.6L725.5,304.3L726.0,304.3L726.5,304.9L727.0,304.8L727.5,305.5L728.0,304.4L728.5,304.6L729.0,304.4L729.5,305.4L730.0,304.3L730.5,305.2L731.0,305.5L731.5,304.9L732.0,305.3L732.5,304.0L733.0,304.8L733.5,304.3L734.0,305.1L734.5,305.0L735.0,304.7L735.5,305.5L736.0,305.3L736.5,304.9L737.0,304.9L737.5,304.5L738.0,305.1L738.5,306.1L739.0,304.9L739.5,305.4L740.0,305.0L740.5,305.6L741.0,305.5L741.5,305.2L742.0,304.5L742.5,305.1L743.0,305.9L743.5,305.3L744.0,305.7L744.5,305.2L745.0,304.6L745.5,305.6L746.0,305.6L746.5,305.2L747.0,305.3L747.5,305.6L748.0,305.3L748.5,305.7L749.0,305.5L749.5,304.5L750.0,305.5L750.5,305.3L751.0,305.2L751.5,305.8L752.0,305.4L752.5,305.9L753.0,306.2L753.5,305.8L754.0,305.0L754.5,305.4L755.0,306.1L755.5,305.6L756.0,305.4L756.5,305.7L757.0,306.0L757.5,305.9L758.0,306.1L758.5,305.4L759.0,305.7L759.5,305.7L760.0,305.8L760.5,304.9L761.0,305.8L761.5,305.3L762.0,306.5L762.5,306.6L763.0,306.7L763.5,306.3L764.0,305.7L764.5,306.4L765.0,305.9L765.5,306.2L766.0,305.6L766.5,305.7L767.0,306.2L767.5,306.8L768.0,306.0L768.5,307.0L769.0,307.3L769.5,305.5L770.0,306.0L770.5,305.6L771.0,306.0L771.5,305.8L772.0,306.0L772.5,306.5L773.0,306.5L773.5,306.2L774.0,306.1L774.5,306.2L775.0,306.2L775.5,306.4L776.0,306.1L776.5,306.4L777.0,305.6L777.5,306.5L778.0,306.9L778.5,306.2L779.0,305.5L779.5,306.8L780.0,306.0L780.5,304.8L781.0,306.1L781.5,306.4L782.0,306.3L782.5,306.7L783.0,306.5L783.5,306.2L784.0,305.3L784.5,305.7L785.0,306.3L785.5,306.5L786.0,305.7L786.5,305.9L787.0,306.4L787.5,305.3L788.0,305.3L788.5,306.1L789.0,306.3L789.5,306.0L790.0,305.2L790.5,306.2L791.0,305.6L791.5,306.5L792.0,306.1L792.5,306.3L793.0,306.5L793.5,306.0L794.0,306.6L794.5,306.7L795.0,306.4L795.5,306.8L796.0,305.9L796.5,306.6L797.0,306.3L797.5,305.7L798.0,306.1L798.5,305.9L799.0,305.9L799.5,306.2L800.0,306.6L800.5,306.0L801.0,306.2L801.5,305.5L802.0,306.2L802.5,306.7L803.0,306.5L803.5,306.4L804.0,305.9L804.5,305.7L805.0,306.1L805.5,305.5L806.0,305.6L806.5,306.5L807.0,305.7L807.5,306.9L808.0,305.5L808.5,306.3L809.0,305.6L809.5,306.2L810.0,305.6L810.5,306.1L811.0,306.0L811.5,305.9L812.0,306.3L812.5,306.8L813.0,305.8L813.5,306.5L814.0,306.1L814.5,306.0L815.0,307.0L815.5,305.1L816.0,305.7L816.5,305.2L817.0,305.9L817.5,305.9L818.0,307.7L818.5,306.2L819.0,306.8L819.5,306.6L820.0,305.8L820.5,306.2L821.0,306.7L821.5,306.0L822.0,306.0L822.5,306.1L823.0,305.2L823.5,305.5L824.0,306.0L824.5,306.0L825.0,305.3L825.5,305.6L826.0,305.6L826.5,305.5L827.0,305.9L827.5,305.5L828.0,305.5L828.5,304.7L829.0,304.8L829.5,305.4L830.0,304.5L830.5,305.2L831.0,304.7L831.5,304.6L832.0,305.2L832.5,304.5L833.0,304.3L833.5,304.3L834.0,304.6L834.5,305.7L835.0,303.4L835.5,304.3L836.0,304.1L836.5,304.5L837.0,303.9L837.5,302.8L838.0,304.4L838.5,303.2L839.0,303.6L839.5,302.9L840.0,302.9L840.5,303.1L841.0,303.6L841.5,303.5L842.0,302.8L842.5,303.2L843.0,302.7L843.5,302.8L844.0,302.7L844.5,302.8L845.0,302.2L845.5,302.3L846.0,302.3L846.5,302.2L847.0,301.7L847.5,302.7L848.0,301.6L848.5,302.1L849.0,301.7L849.5,302.1L850.0,300.5L850.5,302.3L851.0,301.2L851.5,300.6L852.0,301.1L852.5,302.0L853.0,301.1L853.5,300.2L854.0,300.5L854.5,301.2L855.0,299.9L855.5,300.3L856.0,300.1L856.5,301.1L857.0,299.9L857.5,300.6L858.0,299.6L858.5,299.4L859.0,300.1L859.5,299.8L860.0,298.7L860.5,299.6L861.0,299.5L861.5,298.8L862.0,299.1L862.5,299.0L863.0,298.6L863.5,298.4L864.0,298.2L864.5,298.3L865.0,297.7L865.5,298.2L866.0,297.4L866.5,298.0L867.0,297.8L867.5,297.2L868.0,297.9L868.5,298.3L869.0,297.9L869.5,296.5L870.0,297.6L870.5,297.0L871.0,296.7L871.5,296.3L872.0,296.4L872.5,296.9L873.0,296.4L873.5,295.8L874.0,295.5L874.5,295.5L875.0,295.8L875.5,296.2L876.0,294.7L876.5,295.0L877.0,294.7L877.5,294.4L878.0,294.7L878.5,294.6L879.0,293.6L879.5,293.6L880.0,294.4L880.5,293.8L881.0,293.7L881.5,293.0L882.0,292.9L882.5,293.1L883.0,292.4L883.5,291.9L884.0,292.2L884.5,292.4L885.0,291.3L885.5,292.0L886.0,291.6L886.5,290.6L887.0,290.8L887.5,290.5L888.0,290.5L888.5,290.3L889.0,289.1L889.5,288.8L890.0,289.6L890.5,288.9L891.0,288.7L891.5,288.4L892.0,288.6L892.5,287.1L893.0,287.8L893.5,286.7L894.0,287.0L894.5,287.0L895.0,285.4L895.5,285.9L896.0,285.2L896.5,284.9L897.0,284.7L897.5,283.8L898.0,283.5L898.5,283.8L899.0,283.5L899.5,282.5L900.0,281.7L900.5,283.0L901.0,282.1L901.5,281.3L902.0,280.2L902.5,279.9L903.0,279.8L903.5,278.7L904.0,279.3L904.5,278.1L905.0,277.6L905.5,276.4L906.0,275.8L906.5,275.2L907.0,275.0L907.5,274.2L908.0,273.5L908.5,273.1L909.0,272.3L909.5,272.2L910.0,270.8L910.5,269.7L911.0,269.5L911.5,269.5L912.0,267.9L912.5,267.5L913.0,266.6L913.5,266.3L914.0,265.5L914.5,264.4L915.0,264.0L915.5,263.9L916.0,263.3L916.5,262.7L917.0,262.0L917.5,260.9L918.0,260.4L918.5,260.4L919.0,259.0L919.5,258.9L920.0,257.6L920.5,257.6L921.0,256.9L921.5,256.1L922.0,256.3L922.5,255.1L923.0,254.7L923.5,254.1L924.0,253.3L924.5,253.7L925.0,252.2L925.5,252.0L926.0,250.8L926.5,250.6L927.0,250.1L927.5,249.6L928.0,249.0L928.5,248.9L929.0,249.1L929.5,248.0L930.0,247.6L930.5,247.2L931.0,248.2L931.5,247.6L932.0,246.9L932.5,246.8L933.0,246.1L933.5,246.3L934.0,246.5L934.5,246.5L935.0,246.1L935.5,246.2L936.0,246.8L936.5,246.8L937.0,245.8L937.5,246.9L938.0,247.5L938.5,246.8L939.0,247.4L939.5,246.8L940.0,247.9L940.5,247.2L941.0,247.3L941.5,247.9L942.0,249.3L942.5,248.2L943.0,248.1L943.5,249.2L944.0,249.4L944.5,250.4L945.0,249.6L945.5,250.0L946.0,251.1L946.5,252.1L947.0,252.7L947.5,253.7L948.0,253.2L948.5,254.3L949.0,255.3L949.5,256.5L950.0,257.0L950.5,257.4L951.0,257.9L951.5,259.4L952.0,260.2L952.5,261.6L953.0,261.0L953.5,262.4L954.0,261.7L954.5,262.5L955.0,263.0L955.5,263.6L956.0,264.0L956.5,264.7L957.0,265.4L957.5,265.8L958.0,266.9L958.5,267.1L959.0,267.7L959.5,268.9L960.0,268.9L960.5,269.3L961.0,269.8L961.5,270.3L962.0,270.9L962.5,270.8L963.0,272.0L963.5,272.6L964.0,272.7L964.5,272.3L965.0,272.0L965.5,272.7L966.0,273.2L966.5,273.6L967.0,273.2L967.5,273.3L968.0,274.1L968.5,273.3L969.0,274.1L969.5,274.1L970.0,273.2L970.5,274.0L971.0,273.7L971.5,273.6L972.0,273.3L972.5,273.4L973.0,274.4L973.5,274.1L974.0,274.4L974.5,273.9L975.0,274.3L975.5,274.3L976.0,273.8L976.5,273.8L977.0,274.7L977.5,274.6L978.0,274.2L978.5,274.6L979.0,274.9L979.5,275.5L980.0,274.3L980.5,275.0L981.0,275.6L981.5,274.7L982.0,275.3L982.5,273.4L983.0,275.1L983.5,274.4L984.0,273.4L984.5,274.4L985.0,274.3L985.5,274.1L986.0,273.8L986.5,273.0L987.0,272.4L987.5,272.3L988.0,272.1L988.5,272.0L989.0,271.3L989.5,271.2L990.0,271.2L990.5,270.6L991.0,271.2L991.5,270.8L992.0,269.0L992.5,268.9L993.0,268.2L993.5,268.0L994.0,268.3L994.5,267.2L995.0,266.7L995.5,266.6L996.0,266.5L996.5,265.5L997.0,264.9L997.5,265.0L998.0,264.3L998.5,263.9L999.0,263.8L999.5,262.6L1000.0,263.0L1000.5,262.5L1001.0,263.3L1001.5,263.2L1002.0,262.6L1002.5,263.8L1003.0,263.0L1003.5,264.4L1004.0,264.3L1004.5,264.3L1005.0,264.6L1005.5,265.5L1006.0,266.2L1006.5,266.4L1007.0,267.6L1007.5,267.3L1008.0,268.6L1008.5,269.3L1009.0,269.5L1009.5,271.7L1010.0,272.5L1010.5,273.7L1011.0,276.4L1011.5,278.5L1012.0,281.0L1012.5,282.5L1013.0,285.5L1013.5,287.6L1014.0,289.5L1014.5,291.6L1015.0,293.0L1015.5,294.3L1016.0,296.3L1016.5,297.7L1017.0,298.4L1017.5,299.0L1018.0,299.2L1018.5,301.0L1019.0,301.6L1019.5,301.5L1020.0,302.8L1020.5,303.8L1021.0,304.0L1021.5,305.0L1022.0,305.5L1022.5,305.0L1023.0,306.0L1023.5,306.8L1024.0,307.4L1024.5,308.0L1025.0,306.8L1025.5,307.9L1026.0,308.4L1026.5,308.8L1027.0,309.2L1027.5,308.2L1028.0,308.6L1028.5,308.5L1029.0,309.4L1029.5,308.6L1030.0,309.9L1030.5,309.9L1031.0,309.9L1031.5,308.8L1032.0,309.6L1032.5,310.4L1033.0,309.5L1033.5,310.2L1034.0,310.4L1034.5,310.9L1035.0,310.8L1035.5,310.9L1036.0,310.6L1036.5,310.9L1037.0,311.0L1037.5,311.5L1038.0,311.1L1038.5,311.8L1039.0,310.6L1039.5,312.0L1040.0,311.5L1040.5,312.1L1041.0,311.7L1041.5,312.1L1042.0,312.5L1042.5,311.6L1043.0,312.0L1043.5,311.9L1044.0,312.2L1044.5,311.4L1045.0,312.1L1045.5,312.1L1046.0,311.9L1046.5,312.2L1047.0,311.7L1047.5,313.0L1048.0,312.6L1048.5,313.3L1049.0,312.1L1049.5,312.0L1050.0,312.7L1050.5,311.9L1051.0,312.7L1051.5,312.4L1052.0,312.6L1052.5,312.9L1053.0,312.8L1053.5,313.6L1054.0,313.1L1054.5,312.3L1055.0,313.3L1055.5,312.3L1056.0,313.0L1056.5,312.4L1057.0,312.6L1057.5,313.6L1058.0,312.8L1058.5,312.8L1059.0,312.9L1059.5,313.0L1060.0,313.8L1060.5,312.7L1061.0,312.7L1061.5,313.5L1062.0,312.6L1062.5,313.1L1063.0,313.8L1063.5,313.3L1064.0,313.1L1064.5,313.1L1065.0,313.0L1065.5,313.2L1066.0,313.5L1066.5,314.0L1067.0,313.9L1067.5,313.3L1068.0,313.2L1068.5,313.9L1069.0,312.8L1069.5,313.4L1070.0,313.5L1070.5,313.2L1071.0,313.2L1071.5,313.8L1072.0,313.0L1072.5,313.3L1073.0,313.5L1073.5,313.8L1074.0,313.2L1074.5,314.3L1075.0,313.7L1075.5,313.7L1076.0,313.7L1076.5,313.6L1077.0,313.5L1077.5,314.4L1078.0,314.0L1078.5,313.9L1079.0,314.4L1079.5,313.7L1080.0,314.3L1080.5,314.0L1081.0,313.6L1081.5,314.4L1082.0,313.4L1082.5,314.4L1083.0,313.7L1083.5,314.3L1084.0,314.7L1084.5,314.4L1085.0,313.9L1085.5,314.2L1086.0,314.0L1086.5,313.7L1087.0,313.7L1087.5,314.3L1088.0,314.5L1088.5,313.5L1089.0,314.2L1089.5,314.5L1090.0,314.4L1090.5,313.9L1091.0,314.8L1091.5,313.8L1092.0,314.6L1092.5,315.1L1093.0,313.5L1093.5,314.5L1094.0,314.5L1094.5,314.5L1095.0,314.1L1095.5,314.3L1096.0,313.8L1096.5,314.5L1097.0,314.7L1097.5,314.2L1098.0,314.1L1098.5,314.3L1099.0,314.5L1099.5,314.6L1100.0,314.5L1100.5,314.6L1101.0,314.0L1101.5,313.4L1102.0,314.8L1102.5,315.2L1103.0,314.0L1103.5,314.3L1104.0,314.7L1104.5,315.0L1105.0,314.9L1105.5,315.2L1106.0,314.6L1106.5,314.8L1107.0,314.8L1107.5,314.5L1108.0,315.2L1108.5,315.0L1109.0,315.1L1109.5,314.5L1110.0,315.2L1110.5,314.3L1111.0,314.9L1111.5,313.6L1112.0,314.3L1112.5,315.1L1113.0,314.6L1113.5,314.8L1114.0,314.1L1114.5,315.5L1115.0,315.1L1115.5,314.8L1116.0,315.0L1116.5,315.0L1117.0,315.4L1117.5,314.9L1118.0,314.2L1118.5,314.7L1119.0,315.4L1119.5,315.1L1120.0,314.7L1120.5,315.1L1121.0,314.9L1121.5,315.1L1122.0,314.2L1122.5,314.5L1123.0,315.2L1123.5,314.8L1124.0,315.1L1124.5,315.8L1125.0,314.8L1125.5,315.0L1126.0,314.7L1126.5,314.7L1127.0,314.9L1127.5,314.3L1128.0,314.0L1128.5,315.6L1129.0,314.9L1129.5,315.5L1130.0,315.0L1130.5,315.0L1131.0,315.3L1131.5,315.3L1132.0,314.5L1132.5,315.5L1133.0,314.6L1133.5,315.1L1134.0,316.1L1134.5,315.1L1135.0,315.8L1135.5,314.9L1136.0,315.3L1136.5,315.1L1137.0,315.2L1137.5,314.7L1138.0,314.7L1138.5,315.2L1139.0,314.4L1139.5,314.7L1140.0,315.4L1140.5,314.8L1141.0,314.7L1141.5,314.6L1142.0,315.2L1142.5,314.9L1143.0,315.2L1143.5,315.0L1144.0,315.9L1144.5,314.9L1145.0,314.3L1145.5,315.2L1146.0,315.1L1146.5,315.2L1147.0,314.4L1147.5,315.7L1148.0,315.1L1148.5,315.1L1149.0,314.5L1149.5,315.4L1150.0,315.2L1150.5,315.8L1151.0,315.0L1151.5,314.7L1152.0,315.3L1152.5,314.8L1153.0,315.4L1153.5,314.7L1154.0,315.2L1154.5,315.1L1155.0,315.2L1155.5,315.0L1156.0,314.9L1156.5,315.2L1157.0,315.0L1157.5,315.3L1158.0,315.1L1158.5,314.3L1159.0,315.2L1159.5,315.9L1160.0,315.4L1160.5,315.5L1161.0,315.5L1161.5,315.1L1162.0,314.7L1162.5,315.6L1163.0,315.8L1163.5,315.5L1164.0,315.5L1164.5,315.5L1165.0,315.3L1165.5,315.4L1166.0,315.3L1166.5,315.5L1167.0,314.9L1167.5,315.1L1168.0,315.6L1168.5,315.2L1169.0,314.3L1169.5,315.4L1170.0,314.4L1170.5,316.2L1171.0,315.7L1171.5,315.7L1172.0,315.1L1172.5,314.9L1173.0,315.3L1173.5,315.4L1174.0,315.0L1174.5,315.5L1175.0,315.7L1175.5,315.7L1176.0,314.9L1176.5,314.5L1177.0,315.4L1177.5,315.1L1178.0,315.6L1178.5,316.1L1179.0,316.1L1179.5,315.5L1180.0,315.9L1180.5,316.1L1181.0,315.5L1181.5,315.6L1182.0,315.8L1182.5,315.4L1183.0,315.2L1183.5,315.1L1184.0,315.5L1184.5,315.2L1185.0,315.8L1185.5,315.3L1186.0,316.1L1186.5,316.0L1187.0,314.9L1187.5,315.9L1188.0,315.3L1188.5,316.1L1189.0,315.7L1189.5,315.5L1190.0,315.8L1190.5,315.2L1191.0,315.6L1191.5,315.7L1192.0,315.4L1192.5,315.7L1193.0,315.1L1193.5,315.7L1194.0,315.0L1194.5,315.8L1195.0,315.7L1195.5,315.8L1196.0,315.3L1196.5,316.8L1197.0,315.4L1197.5,315.6L1198.0,315.2L1198.5,316.1L1199.0,315.3L1199.5,316.0L1200.0,315.1L1200.5,315.7L1201.0,315.4L1201.5,315.9L1202.0,315.4L1202.5,315.2L1203.0,315.7L1203.5,315.0L1204.0,315.1L1204.5,315.9L1205.0,314.8L1205.5,315.9L1206.0,315.4L1206.5,315.2L1207.0,315.7L1207.5,315.8L1208.0,315.3L1208.5,315.5L1209.0,315.9L1209.5,315.9L1210.0,315.5L1210.5,315.2L1211.0,315.2L1211.5,315.3L1212.0,315.9L1212.5,315.8L1213.0,315.7L1213.5,316.2L1214.0,315.4L1214.5,315.4L1215.0,315.4L1215.5,316.4L1216.0,314.7L1216.5,315.7L1217.0,315.8L1217.5,315.6L1218.0,316.6L1218.5,316.1L1219.0,315.9L1219.5,315.2L1220.0,315.8L1220.5,315.4" fill="none" stroke="#ec0c0c" stroke-width="2.6" stroke-linejoin="round"/>
<path d="M676.0,327.3L676.5,327.4L677.0,327.2L677.5,327.7L678.0,328.1L678.5,327.9L679.0,327.6L679.5,326.8L680.0,328.1L680.5,328.1L681.0,327.6L681.5,327.5L682.0,328.1L682.5,327.5L683.0,328.2L683.5,327.5L684.0,327.6L684.5,328.0L685.0,327.4L685.5,328.1L686.0,328.3L686.5,327.6L687.0,328.6L687.5,328.0L688.0,328.5L688.5,328.4L689.0,328.2L689.5,328.2L690.0,327.7L690.5,328.2L691.0,328.2L691.5,329.2L692.0,329.0L692.5,328.0L693.0,329.0L693.5,328.8L694.0,328.6L694.5,329.0L695.0,329.2L695.5,328.6L696.0,328.8L696.5,329.0L697.0,328.6L697.5,329.1L698.0,329.0L698.5,328.8L699.0,328.8L699.5,329.3L700.0,329.6L700.5,329.4L701.0,328.9L701.5,329.6L702.0,329.4L702.5,329.6L703.0,329.9L703.5,329.1L704.0,329.4L704.5,329.3L705.0,329.2L705.5,330.4L706.0,330.0L706.5,328.9L707.0,329.9L707.5,329.5L708.0,330.2L708.5,329.8L709.0,329.7L709.5,329.9L710.0,330.0L710.5,329.9L711.0,329.9L711.5,329.9L712.0,330.2L712.5,329.6L713.0,330.1L713.5,330.1L714.0,329.9L714.5,330.5L715.0,329.7L715.5,330.1L716.0,329.9L716.5,330.5L717.0,330.1L717.5,330.4L718.0,330.5L718.5,329.7L719.0,330.6L719.5,330.2L720.0,330.4L720.5,330.5L721.0,330.9L721.5,330.9L722.0,331.4L722.5,330.7L723.0,330.5L723.5,330.5L724.0,331.0L724.5,331.4L725.0,330.9L725.5,330.6L726.0,330.9L726.5,331.0L727.0,330.9L727.5,330.6L728.0,329.9L728.5,330.7L729.0,331.4L729.5,331.1L730.0,330.1L730.5,331.0L731.0,330.3L731.5,331.9L732.0,331.2L732.5,330.6L733.0,331.5L733.5,330.8L734.0,331.4L734.5,331.2L735.0,330.7L735.5,331.5L736.0,330.7L736.5,331.9L737.0,331.3L737.5,330.9L738.0,330.6L738.5,332.0L739.0,332.0L739.5,330.9L740.0,332.1L740.5,331.5L741.0,331.4L741.5,331.4L742.0,331.4L742.5,332.1L743.0,331.6L743.5,330.7L744.0,332.4L744.5,331.9L745.0,331.1L745.5,331.4L746.0,331.2L746.5,331.6L747.0,331.8L747.5,331.7L748.0,331.4L748.5,331.3L749.0,332.0L749.5,331.6L750.0,332.6L750.5,331.4L751.0,332.0L751.5,331.7L752.0,331.4L752.5,332.3L753.0,331.8L753.5,331.4L754.0,331.6L754.5,332.2L755.0,331.2L755.5,332.3L756.0,332.1L756.5,331.7L757.0,332.4L757.5,332.5L758.0,332.0L758.5,331.9L759.0,332.6L759.5,332.4L760.0,331.4L760.5,331.7L761.0,331.7L761.5,331.6L762.0,331.2L762.5,332.2L763.0,331.9L763.5,331.9L764.0,332.4L764.5,331.6L765.0,331.8L765.5,332.0L766.0,331.7L766.5,331.8L767.0,332.2L767.5,331.8L768.0,332.4L768.5,331.5L769.0,331.9L769.5,331.3L770.0,331.8L770.5,331.6L771.0,332.4L771.5,332.2L772.0,332.1L772.5,332.7L773.0,332.5L773.5,332.2L774.0,331.6L774.5,331.3L775.0,331.9L775.5,331.7L776.0,331.6L776.5,331.8L777.0,331.2L777.5,332.5L778.0,331.4L778.5,331.6L779.0,332.1L779.5,331.2L780.0,332.3L780.5,332.3L781.0,331.8L781.5,331.5L782.0,331.7L782.5,331.1L783.0,332.5L783.5,331.9L784.0,331.6L784.5,331.5L785.0,332.2L785.5,332.6L786.0,331.4L786.5,331.7L787.0,331.2L787.5,332.2L788.0,332.0L788.5,332.9L789.0,331.9L789.5,331.8L790.0,331.6L790.5,332.3L791.0,331.3L791.5,332.3L792.0,332.1L792.5,331.7L793.0,331.6L793.5,332.4L794.0,332.8L794.5,331.8L795.0,332.2L795.5,332.7L796.0,331.7L796.5,331.9L797.0,331.4L797.5,331.9L798.0,331.9L798.5,331.8L799.0,331.7L799.5,331.3L800.0,331.4L800.5,331.6L801.0,332.3L801.5,331.8L802.0,331.6L802.5,332.3L803.0,332.2L803.5,331.7L804.0,331.7L804.5,332.3L805.0,332.1L805.5,331.6L806.0,332.1L806.5,332.0L807.0,332.5L807.5,331.6L808.0,332.4L808.5,332.2L809.0,331.6L809.5,332.4L810.0,332.4L810.5,331.4L811.0,332.8L811.5,331.5L812.0,331.6L812.5,331.9L813.0,332.3L813.5,332.2L814.0,332.0L814.5,332.6L815.0,332.2L815.5,332.6L816.0,333.2L816.5,332.1L817.0,330.9L817.5,331.8L818.0,331.5L818.5,332.0L819.0,332.0L819.5,331.5L820.0,331.5L820.5,331.9L821.0,331.9L821.5,330.9L822.0,332.4L822.5,332.0L823.0,332.0L823.5,332.1L824.0,331.5L824.5,331.9L825.0,332.4L825.5,332.4L826.0,332.1L826.5,331.7L827.0,331.5L827.5,332.4L828.0,332.0L828.5,331.6L829.0,330.8L829.5,331.3L830.0,330.8L830.5,332.2L831.0,331.7L831.5,331.2L832.0,331.4L832.5,332.6L833.0,332.0L833.5,330.8L834.0,331.3L834.5,330.8L835.0,330.5L835.5,331.3L836.0,332.2L836.5,331.8L837.0,331.1L837.5,330.9L838.0,331.1L838.5,331.4L839.0,330.2L839.5,330.0L840.0,331.6L840.5,330.9L841.0,331.4L841.5,330.8L842.0,331.2L842.5,330.3L843.0,330.7L843.5,331.1L844.0,330.8L844.5,330.1L845.0,330.7L845.5,329.9L846.0,329.6L846.5,330.4L847.0,330.7L847.5,330.4L848.0,329.4L848.5,330.3L849.0,330.2L849.5,329.6L850.0,328.7L850.5,330.2L851.0,330.1L851.5,329.8L852.0,328.8L852.5,328.9L853.0,329.9L853.5,329.8L854.0,329.6L854.5,329.2L855.0,329.4L855.5,328.9L856.0,329.0L856.5,328.7L857.0,329.1L857.5,328.7L858.0,329.3L858.5,329.1L859.0,328.4L859.5,329.5L860.0,328.1L860.5,328.7L861.0,329.0L861.5,329.0L862.0,327.3L862.5,328.7L863.0,328.7L863.5,328.8L864.0,327.0L864.5,327.7L865.0,327.8L865.5,327.6L866.0,328.3L866.5,327.3L867.0,328.1L867.5,327.7L868.0,326.8L868.5,326.9L869.0,327.0L869.5,327.2L870.0,327.5L870.5,326.9L871.0,327.3L871.5,326.1L872.0,325.4L872.5,326.5L873.0,326.8L873.5,326.3L874.0,325.9L874.5,326.5L875.0,327.1L875.5,326.0L876.0,325.7L876.5,325.5L877.0,326.7L877.5,325.7L878.0,325.9L878.5,326.1L879.0,325.9L879.5,324.9L880.0,325.6L880.5,325.5L881.0,325.2L881.5,325.4L882.0,324.5L882.5,324.7L883.0,324.3L883.5,324.8L884.0,324.1L884.5,324.4L885.0,323.6L885.5,323.9L886.0,323.7L886.5,323.7L887.0,323.7L887.5,323.4L888.0,323.3L888.5,322.3L889.0,323.6L889.5,322.7L890.0,322.7L890.5,322.4L891.0,323.0L891.5,322.0L892.0,322.5L892.5,322.7L893.0,322.8L893.5,322.4L894.0,322.0L894.5,321.0L895.0,322.0L895.5,321.8L896.0,321.5L896.5,321.3L897.0,320.9L897.5,320.4L898.0,321.0L898.5,320.9L899.0,319.7L899.5,320.4L900.0,320.0L900.5,320.1L901.0,319.6L901.5,319.8L902.0,319.6L902.5,319.4L903.0,318.2L903.5,319.0L904.0,318.5L904.5,317.8L905.0,318.4L905.5,317.3L906.0,318.1L906.5,318.3L907.0,317.1L907.5,317.6L908.0,317.2L908.5,317.1L909.0,316.0L909.5,316.6L910.0,316.2L910.5,316.3L911.0,315.7L911.5,315.9L912.0,315.3L912.5,315.2L913.0,315.2L913.5,314.3L914.0,314.4L914.5,313.7L915.0,313.5L915.5,312.6L916.0,312.9L916.5,312.7L917.0,311.7L917.5,311.7L918.0,311.2L918.5,310.1L919.0,310.4L919.5,310.4L920.0,309.2L920.5,308.3L921.0,308.8L921.5,308.0L922.0,308.7L922.5,307.5L923.0,307.1L923.5,306.5L924.0,306.5L924.5,305.8L925.0,305.3L925.5,305.3L926.0,304.6L926.5,305.2L927.0,303.8L927.5,304.0L928.0,303.4L928.5,302.8L929.0,303.9L929.5,302.0L930.0,303.4L930.5,301.9L931.0,302.4L931.5,303.1L932.0,301.0L932.5,301.2L933.0,302.3L933.5,301.7L934.0,301.3L934.5,301.5L935.0,301.1L935.5,301.6L936.0,302.3L936.5,301.6L937.0,302.0L937.5,302.7L938.0,303.3L938.5,302.5L939.0,303.3L939.5,303.3L940.0,303.7L940.5,304.2L941.0,304.5L941.5,304.5L942.0,304.9L942.5,305.9L943.0,306.8L943.5,307.7L944.0,307.4L944.5,308.0L945.0,308.8L945.5,309.3L946.0,309.3L946.5,309.7L947.0,311.0L947.5,310.5L948.0,311.0L948.5,311.0L949.0,312.4L949.5,312.6L950.0,314.1L950.5,313.6L951.0,314.6L951.5,315.2L952.0,316.0L952.5,315.2L953.0,317.0L953.5,316.7L954.0,317.1L954.5,317.5L955.0,317.8L955.5,318.2L956.0,317.6L956.5,319.2L957.0,319.2L957.5,319.0L958.0,319.6L958.5,320.8L959.0,320.1L959.5,320.0L960.0,321.1L960.5,320.1L961.0,320.6L961.5,320.6L962.0,320.9L962.5,321.5L963.0,321.5L963.5,321.1L964.0,321.5L964.5,321.8L965.0,321.7L965.5,322.0L966.0,321.8L966.5,322.0L967.0,322.4L967.5,322.1L968.0,322.8L968.5,322.7L969.0,322.5L969.5,322.7L970.0,322.9L970.5,323.1L971.0,323.3L971.5,323.2L972.0,323.0L972.5,324.1L973.0,324.0L973.5,323.7L974.0,324.1L974.5,323.9L975.0,323.7L975.5,323.8L976.0,325.0L976.5,324.3L977.0,324.3L977.5,323.7L978.0,324.2L978.5,324.9L979.0,324.1L979.5,324.3L980.0,324.4L980.5,324.0L981.0,324.4L981.5,323.7L982.0,323.7L982.5,323.1L983.0,324.4L983.5,323.2L984.0,323.0L984.5,323.4L985.0,322.4L985.5,322.4L986.0,321.9L986.5,322.0L987.0,321.6L987.5,321.8L988.0,321.3L988.5,320.9L989.0,320.8L989.5,320.6L990.0,320.2L990.5,320.6L991.0,320.2L991.5,319.7L992.0,318.9L992.5,319.4L993.0,318.4L993.5,318.7L994.0,318.3L994.5,317.6L995.0,317.0L995.5,316.5L996.0,317.2L996.5,315.6L997.0,315.0L997.5,315.0L998.0,314.2L998.5,314.0L999.0,312.7L999.5,312.4L1000.0,314.1L1000.5,312.5L1001.0,312.4L1001.5,312.7L1002.0,313.1L1002.5,312.3L1003.0,313.2L1003.5,313.3L1004.0,313.9L1004.5,314.0L1005.0,314.0L1005.5,314.2L1006.0,313.8L1006.5,315.7L1007.0,315.0L1007.5,315.8L1008.0,317.1L1008.5,316.5L1009.0,317.4L1009.5,317.5L1010.0,318.5L1010.5,318.8L1011.0,319.2L1011.5,320.6L1012.0,320.6L1012.5,320.8L1013.0,322.0L1013.5,323.1L1014.0,323.1L1014.5,324.6L1015.0,325.3L1015.5,326.6L1016.0,326.0L1016.5,327.2L1017.0,326.8L1017.5,327.9L1018.0,328.6L1018.5,329.1L1019.0,329.3L1019.5,329.6L1020.0,329.5L1020.5,329.8L1021.0,330.3L1021.5,330.5L1022.0,330.7L1022.5,331.0L1023.0,331.2L1023.5,330.1L1024.0,330.7L1024.5,331.0L1025.0,330.9L1025.5,331.7L1026.0,331.7L1026.5,331.4L1027.0,331.6L1027.5,332.2L1028.0,331.6L1028.5,331.7L1029.0,332.3L1029.5,332.2L1030.0,332.7L1030.5,332.3L1031.0,332.5L1031.5,332.1L1032.0,332.0L1032.5,332.4L1033.0,331.4L1033.5,332.8L1034.0,333.1L1034.5,332.8L1035.0,332.7L1035.5,333.4L1036.0,333.0L1036.5,333.5L1037.0,334.1L1037.5,333.5L1038.0,333.7L1038.5,333.6L1039.0,333.6L1039.5,333.7L1040.0,333.7L1040.5,334.2L1041.0,333.2L1041.5,333.8L1042.0,334.3L1042.5,333.7L1043.0,334.1L1043.5,333.9L1044.0,334.5L1044.5,334.8L1045.0,335.1L1045.5,334.7L1046.0,334.3L1046.5,334.7L1047.0,334.9L1047.5,335.3L1048.0,333.8L1048.5,334.9L1049.0,334.0L1049.5,335.1L1050.0,335.0L1050.5,335.0L1051.0,335.2L1051.5,335.0L1052.0,334.6L1052.5,335.0L1053.0,335.4L1053.5,334.8L1054.0,334.9L1054.5,334.3L1055.0,335.4L1055.5,334.7L1056.0,334.6L1056.5,334.7L1057.0,334.5L1057.5,334.8L1058.0,335.4L1058.5,335.2L1059.0,335.5L1059.5,335.5L1060.0,334.5L1060.5,335.1L1061.0,335.6L1061.5,335.9L1062.0,334.3L1062.5,334.3L1063.0,335.1L1063.5,334.8L1064.0,334.5L1064.5,335.1L1065.0,334.6L1065.5,334.0L1066.0,335.0L1066.5,335.0L1067.0,335.3L1067.5,335.4L1068.0,335.1L1068.5,334.9L1069.0,334.7L1069.5,334.3L1070.0,334.8L1070.5,335.4L1071.0,335.3L1071.5,335.9L1072.0,335.0L1072.5,334.3L1073.0,335.4L1073.5,335.5L1074.0,334.5L1074.5,334.3L1075.0,335.1L1075.5,335.4L1076.0,334.6L1076.5,334.9L1077.0,334.7L1077.5,334.6L1078.0,334.5L1078.5,335.1L1079.0,334.9L1079.5,334.8L1080.0,334.0L1080.5,335.8L1081.0,334.7L1081.5,335.0L1082.0,334.6L1082.5,335.3L1083.0,334.5L1083.5,335.2L1084.0,335.0L1084.5,335.5L1085.0,334.7L1085.5,334.8L1086.0,335.0L1086.5,336.0L1087.0,334.5L1087.5,335.3L1088.0,334.9L1088.5,335.3L1089.0,335.4L1089.5,335.2L1090.0,335.3L1090.5,335.3L1091.0,334.9L1091.5,335.1L1092.0,334.5L1092.5,335.0L1093.0,334.8L1093.5,335.1L1094.0,335.5L1094.5,335.3L1095.0,335.4L1095.5,335.7L1096.0,334.2L1096.5,335.4L1097.0,335.2L1097.5,335.2L1098.0,334.6L1098.5,335.4L1099.0,335.7L1099.5,335.7L1100.0,335.2L1100.5,335.5L1101.0,335.6L1101.5,336.0L1102.0,335.8L1102.5,335.3L1103.0,335.3L1103.5,335.3L1104.0,335.3L1104.5,335.0L1105.0,335.6L1105.5,335.0L1106.0,334.9L1106.5,335.4L1107.0,335.0L1107.5,335.2L1108.0,334.4L1108.5,335.6L1109.0,335.3L1109.5,335.2L1110.0,335.5L1110.5,335.4L1111.0,335.0L1111.5,336.1L1112.0,335.1L1112.5,335.7L1113.0,336.1L1113.5,335.0L1114.0,335.3L1114.5,334.9L1115.0,335.7L1115.5,335.2L1116.0,334.8L1116.5,335.9L1117.0,335.7L1117.5,334.9L1118.0,335.8L1118.5,335.4L1119.0,336.5L1119.5,336.1L1120.0,335.1L1120.5,335.2L1121.0,334.9L1121.5,335.4L1122.0,335.3L1122.5,335.6L1123.0,335.4L1123.5,334.7L1124.0,335.0L1124.5,335.9L1125.0,335.8L1125.5,335.3L1126.0,335.3L1126.5,335.3L1127.0,335.4L1127.5,334.6L1128.0,335.7L1128.5,335.1L1129.0,335.4L1129.5,334.3L1130.0,335.5L1130.5,335.9L1131.0,334.4L1131.5,336.0L1132.0,335.6L1132.5,335.1L1133.0,334.7L1133.5,335.9L1134.0,335.5L1134.5,335.6L1135.0,335.3L1135.5,335.0L1136.0,335.8L1136.5,335.0L1137.0,335.8L1137.5,334.7L1138.0,335.0L1138.5,334.8L1139.0,336.0L1139.5,334.6L1140.0,334.9L1140.5,335.7L1141.0,335.5L1141.5,336.3L1142.0,336.2L1142.5,335.7L1143.0,335.7L1143.5,334.6L1144.0,335.0L1144.5,335.3L1145.0,335.3L1145.5,334.8L1146.0,335.0L1146.5,335.1L1147.0,335.9L1147.5,335.6L1148.0,335.3L1148.5,335.3L1149.0,335.5L1149.5,335.1L1150.0,335.3L1150.5,334.7L1151.0,335.7L1151.5,335.8L1152.0,335.6L1152.5,335.6L1153.0,335.6L1153.5,336.3L1154.0,335.5L1154.5,334.9L1155.0,335.0L1155.5,335.7L1156.0,335.9L1156.5,335.8L1157.0,335.8L1157.5,335.5L1158.0,334.8L1158.5,335.1L1159.0,334.7L1159.5,335.3L1160.0,334.9L1160.5,335.5L1161.0,335.4L1161.5,334.6L1162.0,335.8L1162.5,335.8L1163.0,334.9L1163.5,335.5L1164.0,335.8L1164.5,335.3L1165.0,335.8L1165.5,335.5L1166.0,335.9L1166.5,335.5L1167.0,335.4L1167.5,335.7L1168.0,335.8L1168.5,335.6L1169.0,335.3L1169.5,335.1L1170.0,335.3L1170.5,335.2L1171.0,335.6L1171.5,335.5L1172.0,335.4L1172.5,335.5L1173.0,335.5L1173.5,336.1L1174.0,336.0L1174.5,335.2L1175.0,335.6L1175.5,335.3L1176.0,335.4L1176.5,335.4L1177.0,335.2L1177.5,334.9L1178.0,334.4L1178.5,335.6L1179.0,336.0L1179.5,335.1L1180.0,335.7L1180.5,335.3L1181.0,335.6L1181.5,335.1L1182.0,335.4L1182.5,335.4L1183.0,334.4L1183.5,335.6L1184.0,335.4L1184.5,334.4L1185.0,335.8L1185.5,335.5L1186.0,335.6L1186.5,335.6L1187.0,335.3L1187.5,335.0L1188.0,335.3L1188.5,335.3L1189.0,336.4L1189.5,336.3L1190.0,335.3L1190.5,335.3L1191.0,335.6L1191.5,335.7L1192.0,335.2L1192.5,335.0L1193.0,336.3L1193.5,335.9L1194.0,334.8L1194.5,334.7L1195.0,335.1L1195.5,335.6L1196.0,335.7L1196.5,335.3L1197.0,334.8L1197.5,335.6L1198.0,335.7L1198.5,335.5L1199.0,335.3L1199.5,335.7L1200.0,335.5L1200.5,335.0L1201.0,335.5L1201.5,334.9L1202.0,335.9L1202.5,335.7L1203.0,335.0L1203.5,335.6L1204.0,336.0L1204.5,334.5L1205.0,335.4L1205.5,336.2L1206.0,334.8L1206.5,335.4L1207.0,334.9L1207.5,335.5L1208.0,334.4L1208.5,334.8L1209.0,335.2L1209.5,335.5L1210.0,335.7L1210.5,335.7L1211.0,336.0L1211.5,335.8L1212.0,335.8L1212.5,335.1L1213.0,335.4L1213.5,336.9L1214.0,336.5L1214.5,335.9L1215.0,335.8L1215.5,335.9L1216.0,335.3L1216.5,336.3L1217.0,335.3L1217.5,335.5L1218.0,336.4L1218.5,334.6L1219.0,335.6L1219.5,334.7L1220.0,335.2L1220.5,335.4" fill="none" stroke="#0ced0c" stroke-width="2.6" stroke-linejoin="round"/>
<path d="M676.0,357.5L676.5,357.8L677.0,357.4L677.5,357.7L678.0,357.2L678.5,357.6L679.0,357.2L679.5,358.1L680.0,357.3L680.5,358.2L681.0,357.7L681.5,357.8L682.0,358.5L682.5,358.0L683.0,357.1L683.5,358.2L684.0,356.7L684.5,358.2L685.0,357.9L685.5,357.5L686.0,358.1L686.5,358.0L687.0,359.0L687.5,358.0L688.0,359.0L688.5,358.8L689.0,357.9L689.5,357.9L690.0,358.8L690.5,358.2L691.0,358.4L691.5,358.2L692.0,357.8L692.5,358.2L693.0,357.9L693.5,357.7L694.0,358.3L694.5,359.2L695.0,359.2L695.5,358.4L696.0,358.5L696.5,358.7L697.0,359.1L697.5,358.7L698.0,358.3L698.5,358.4L699.0,359.1L699.5,359.8L700.0,358.3L700.5,357.7L701.0,359.0L701.5,358.6L702.0,358.8L702.5,359.3L703.0,358.8L703.5,358.1L704.0,357.9L704.5,358.8L705.0,358.3L705.5,358.9L706.0,358.3L706.5,358.7L707.0,358.2L707.5,358.7L708.0,358.7L708.5,359.2L709.0,359.5L709.5,358.9L710.0,358.6L710.5,359.8L711.0,359.1L711.5,359.3L712.0,359.3L712.5,359.7L713.0,359.5L713.5,359.4L714.0,359.4L714.5,358.7L715.0,358.8L715.5,359.1L716.0,359.2L716.5,359.2L717.0,359.3L717.5,359.2L718.0,359.0L718.5,358.5L719.0,359.6L719.5,359.5L720.0,358.8L720.5,359.5L721.0,359.4L721.5,359.3L722.0,358.5L722.5,358.8L723.0,359.0L723.5,360.1L724.0,359.0L724.5,359.2L725.0,358.9L725.5,359.2L726.0,359.5L726.5,358.5L727.0,358.1L727.5,359.7L728.0,359.4L728.5,359.2L729.0,359.9L729.5,359.9L730.0,358.5L730.5,359.4L731.0,360.0L731.5,359.2L732.0,359.4L732.5,360.0L733.0,359.4L733.5,359.0L734.0,359.2L734.5,359.0L735.0,359.8L735.5,358.8L736.0,360.0L736.5,358.9L737.0,359.6L737.5,359.0L738.0,359.5L738.5,360.1L739.0,360.1L739.5,360.2L740.0,359.6L740.5,359.7L741.0,359.8L741.5,359.9L742.0,359.5L742.5,360.2L743.0,359.8L743.5,360.2L744.0,359.9L744.5,360.0L745.0,359.4L745.5,359.5L746.0,359.1L746.5,359.6L747.0,359.7L747.5,360.1L748.0,359.2L748.5,361.2L749.0,359.7L749.5,360.3L750.0,360.2L750.5,358.6L751.0,359.6L751.5,360.4L752.0,358.7L752.5,360.1L753.0,359.4L753.5,359.6L754.0,359.9L754.5,358.9L755.0,359.9L755.5,359.5L756.0,359.4L756.5,360.1L757.0,361.4L757.5,359.9L758.0,360.0L758.5,359.8L759.0,359.5L759.5,359.9L760.0,360.5L760.5,359.9L761.0,360.2L761.5,359.7L762.0,360.9L762.5,359.0L763.0,360.0L763.5,360.0L764.0,359.9L764.5,359.3L765.0,359.3L765.5,359.7L766.0,359.8L766.5,359.2L767.0,359.3L767.5,360.0L768.0,360.2L768.5,359.5L769.0,359.5L769.5,359.5L770.0,360.9L770.5,360.0L771.0,359.7L771.5,360.2L772.0,360.8L772.5,360.3L773.0,359.1L773.5,359.7L774.0,359.6L774.5,359.6L775.0,359.2L775.5,359.6L776.0,359.3L776.5,359.9L777.0,359.8L777.5,359.1L778.0,359.0L778.5,359.5L779.0,360.1L779.5,360.0L780.0,359.7L780.5,358.3L781.0,359.5L781.5,359.4L782.0,359.6L782.5,359.2L783.0,359.6L783.5,359.5L784.0,361.0L784.5,360.1L785.0,359.7L785.5,359.7L786.0,359.7L786.5,359.8L787.0,359.6L787.5,359.7L788.0,360.2L788.5,360.1L789.0,359.9L789.5,360.3L790.0,359.8L790.5,359.3L791.0,358.9L791.5,359.4L792.0,359.7L792.5,359.9L793.0,360.2L793.5,359.5L794.0,359.4L794.5,360.1L795.0,360.2L795.5,359.5L796.0,359.9L796.5,360.3L797.0,359.9L797.5,359.7L798.0,358.8L798.5,360.3L799.0,360.0L799.5,359.8L800.0,359.5L800.5,359.1L801.0,359.6L801.5,359.6L802.0,360.2L802.5,359.1L803.0,360.3L803.5,359.7L804.0,360.2L804.5,359.2L805.0,359.8L805.5,360.2L806.0,359.7L806.5,359.0L807.0,359.5L807.5,359.9L808.0,359.0L808.5,359.0L809.0,359.8L809.5,359.2L810.0,360.0L810.5,359.1L811.0,358.8L811.5,359.3L812.0,360.3L812.5,359.2L813.0,359.6L813.5,359.7L814.0,359.2L814.5,360.1L815.0,359.7L815.5,359.8L816.0,358.9L816.5,358.8L817.0,358.4L817.5,359.5L818.0,359.5L818.5,359.9L819.0,360.3L819.5,359.5L820.0,359.5L820.5,359.8L821.0,360.3L821.5,359.2L822.0,359.8L822.5,359.4L823.0,359.4L823.5,359.9L824.0,359.2L824.5,359.0L825.0,359.8L825.5,359.5L826.0,359.3L826.5,359.4L827.0,359.7L827.5,359.2L828.0,359.7L828.5,359.6L829.0,360.0L829.5,359.9L830.0,359.7L830.5,359.2L831.0,359.3L831.5,359.0L832.0,360.5L832.5,359.1L833.0,359.4L833.5,359.7L834.0,358.5L834.5,358.7L835.0,358.9L835.5,358.6L836.0,358.4L836.5,358.7L837.0,359.5L837.5,359.2L838.0,358.9L838.5,358.9L839.0,358.1L839.5,359.1L840.0,358.9L840.5,358.2L841.0,358.8L841.5,358.6L842.0,358.4L842.5,358.1L843.0,358.2L843.5,358.1L844.0,358.7L844.5,358.6L845.0,358.6L845.5,358.3L846.0,358.2L846.5,359.2L847.0,357.4L847.5,358.8L848.0,358.4L848.5,358.2L849.0,357.9L849.5,358.0L850.0,357.5L850.5,357.4L851.0,358.0L851.5,357.2L852.0,358.3L852.5,358.4L853.0,356.3L853.5,357.1L854.0,357.9L854.5,357.8L855.0,357.8L855.5,357.9L856.0,358.0L856.5,358.0L857.0,358.4L857.5,357.5L858.0,357.8L858.5,356.7L859.0,357.3L859.5,356.8L860.0,357.9L860.5,358.3L861.0,357.4L861.5,356.6L862.0,357.0L862.5,357.1L863.0,357.1L863.5,357.4L864.0,357.3L864.5,355.7L865.0,357.4L865.5,356.5L866.0,356.5L866.5,357.3L867.0,356.5L867.5,355.9L868.0,355.9L868.5,356.5L869.0,356.8L869.5,357.0L870.0,356.2L870.5,356.0L871.0,356.9L871.5,355.9L872.0,356.7L872.5,356.1L873.0,356.0L873.5,355.8L874.0,355.9L874.5,355.5L875.0,355.4L875.5,355.6L876.0,355.3L876.5,355.6L877.0,355.5L877.5,355.2L878.0,355.2L878.5,355.1L879.0,356.0L879.5,355.1L880.0,354.8L880.5,354.8L881.0,355.2L881.5,354.7L882.0,354.7L882.5,354.6L883.0,354.7L883.5,354.7L884.0,354.6L884.5,353.6L885.0,353.8L885.5,353.0L886.0,354.4L886.5,354.5L887.0,354.5L887.5,353.9L888.0,354.2L888.5,353.6L889.0,353.5L889.5,352.7L890.0,353.0L890.5,353.0L891.0,353.6L891.5,353.8L892.0,352.7L892.5,353.0L893.0,352.9L893.5,352.3L894.0,351.7L894.5,352.1L895.0,351.7L895.5,352.1L896.0,352.0L896.5,351.9L897.0,351.8L897.5,352.0L898.0,351.2L898.5,352.0L899.0,350.7L899.5,351.4L900.0,351.4L900.5,350.8L901.0,350.3L901.5,351.2L902.0,350.5L902.5,351.0L903.0,350.9L903.5,350.5L904.0,350.3L904.5,350.7L905.0,350.3L905.5,349.6L906.0,350.0L906.5,350.0L907.0,349.8L907.5,349.7L908.0,349.4L908.5,349.3L909.0,348.9L909.5,348.5L910.0,349.6L910.5,348.7L911.0,348.9L911.5,348.0L912.0,348.7L912.5,348.1L913.0,349.7L913.5,347.7L914.0,347.6L914.5,348.4L915.0,348.3L915.5,346.7L916.0,347.6L916.5,347.8L917.0,346.7L917.5,347.4L918.0,346.7L918.5,346.3L919.0,346.5L919.5,346.3L920.0,345.7L920.5,347.2L921.0,345.9L921.5,345.6L922.0,346.2L922.5,345.6L923.0,346.1L923.5,345.3L924.0,345.4L924.5,345.2L925.0,345.1L925.5,344.8L926.0,344.7L926.5,345.4L927.0,344.2L927.5,344.2L928.0,344.2L928.5,344.5L929.0,344.3L929.5,344.5L930.0,343.4L930.5,344.0L931.0,343.8L931.5,343.7L932.0,343.8L932.5,342.8L933.0,343.8L933.5,343.7L934.0,343.0L934.5,343.6L935.0,344.3L935.5,343.4L936.0,343.9L936.5,343.6L937.0,343.4L937.5,343.4L938.0,343.7L938.5,344.6L939.0,344.5L939.5,344.0L940.0,344.9L940.5,344.6L941.0,344.5L941.5,345.2L942.0,344.8L942.5,344.7L943.0,346.2L943.5,345.0L944.0,346.3L944.5,345.6L945.0,346.5L945.5,346.7L946.0,346.8L946.5,346.3L947.0,347.5L947.5,347.8L948.0,347.6L948.5,348.3L949.0,349.0L949.5,348.5L950.0,349.1L950.5,348.7L951.0,349.7L951.5,350.0L952.0,351.0L952.5,350.5L953.0,350.5L953.5,351.2L954.0,350.3L954.5,351.4L955.0,350.8L955.5,350.9L956.0,351.8L956.5,351.5L957.0,352.1L957.5,350.9L958.0,351.8L958.5,351.5L959.0,351.7L959.5,351.0L960.0,352.4L960.5,352.1L961.0,351.6L961.5,351.5L962.0,351.8L962.5,352.9L963.0,352.3L963.5,352.3L964.0,352.7L964.5,352.5L965.0,352.7L965.5,353.0L966.0,352.9L966.5,353.2L967.0,352.3L967.5,352.9L968.0,352.8L968.5,353.0L969.0,353.0L969.5,352.8L970.0,353.0L970.5,353.6L971.0,353.0L971.5,352.7L972.0,353.6L972.5,353.8L973.0,353.3L973.5,353.5L974.0,353.1L974.5,353.4L975.0,354.0L975.5,353.9L976.0,353.6L976.5,353.5L977.0,352.9L977.5,353.8L978.0,353.8L978.5,354.1L979.0,354.6L979.5,353.8L980.0,354.1L980.5,353.2L981.0,354.2L981.5,354.1L982.0,354.3L982.5,354.0L983.0,353.8L983.5,354.2L984.0,353.2L984.5,353.7L985.0,353.9L985.5,352.9L986.0,352.7L986.5,353.3L987.0,353.0L987.5,353.1L988.0,353.0L988.5,352.3L989.0,352.7L989.5,352.9L990.0,352.1L990.5,352.0L991.0,351.5L991.5,352.2L992.0,352.5L992.5,350.9L993.0,351.7L993.5,351.7L994.0,350.9L994.5,350.8L995.0,350.4L995.5,350.4L996.0,350.7L996.5,350.8L997.0,350.5L997.5,350.7L998.0,350.3L998.5,349.6L999.0,350.7L999.5,350.5L1000.0,349.6L1000.5,350.7L1001.0,350.1L1001.5,349.9L1002.0,350.7L1002.5,348.7L1003.0,349.1L1003.5,350.2L1004.0,349.9L1004.5,349.7L1005.0,350.9L1005.5,350.7L1006.0,350.1L1006.5,350.5L1007.0,351.4L1007.5,352.0L1008.0,350.6L1008.5,351.8L1009.0,351.7L1009.5,351.4L1010.0,352.3L1010.5,351.9L1011.0,352.5L1011.5,353.7L1012.0,353.4L1012.5,353.8L1013.0,354.0L1013.5,354.1L1014.0,354.7L1014.5,354.0L1015.0,354.7L1015.5,355.5L1016.0,355.1L1016.5,355.6L1017.0,356.6L1017.5,357.1L1018.0,356.5L1018.5,356.7L1019.0,357.6L1019.5,357.8L1020.0,357.7L1020.5,358.5L1021.0,358.8L1021.5,358.8L1022.0,360.3L1022.5,359.8L1023.0,359.8L1023.5,360.1L1024.0,361.1L1024.5,360.4L1025.0,359.8L1025.5,360.3L1026.0,360.3L1026.5,360.0L1027.0,360.4L1027.5,360.5L1028.0,360.4L1028.5,360.2L1029.0,360.8L1029.5,359.8L1030.0,360.9L1030.5,360.6L1031.0,360.7L1031.5,359.6L1032.0,361.4L1032.5,360.0L1033.0,360.4L1033.5,361.1L1034.0,360.5L1034.5,360.7L1035.0,359.9L1035.5,360.7L1036.0,361.0L1036.5,361.2L1037.0,360.8L1037.5,361.1L1038.0,361.2L1038.5,360.7L1039.0,360.7L1039.5,361.9L1040.0,360.7L1040.5,361.7L1041.0,361.2L1041.5,361.8L1042.0,360.9L1042.5,361.4L1043.0,361.3L1043.5,361.1L1044.0,361.4L1044.5,360.9L1045.0,361.2L1045.5,361.1L1046.0,361.6L1046.5,361.2L1047.0,360.7L1047.5,361.1L1048.0,361.3L1048.5,360.9L1049.0,361.9L1049.5,361.5L1050.0,361.7L1050.5,361.0L1051.0,361.2L1051.5,361.8L1052.0,360.7L1052.5,361.5L1053.0,361.4L1053.5,361.1L1054.0,361.4L1054.5,360.9L1055.0,361.5L1055.5,360.8L1056.0,360.8L1056.5,362.0L1057.0,361.1L1057.5,360.5L1058.0,361.8L1058.5,361.1L1059.0,359.8L1059.5,361.4L1060.0,361.8L1060.5,361.6L1061.0,362.2L1061.5,361.4L1062.0,361.7L1062.5,361.0L1063.0,361.5L1063.5,362.1L1064.0,361.7L1064.5,361.5L1065.0,360.6L1065.5,361.3L1066.0,360.9L1066.5,361.8L1067.0,361.1L1067.5,361.6L1068.0,361.0L1068.5,362.3L1069.0,361.0L1069.5,361.6L1070.0,362.7L1070.5,361.6L1071.0,361.1L1071.5,361.8L1072.0,362.0L1072.5,361.9L1073.0,360.6L1073.5,361.6L1074.0,360.6L1074.5,362.4L1075.0,361.6L1075.5,361.3L1076.0,361.8L1076.5,361.8L1077.0,361.0L1077.5,362.3L1078.0,361.5L1078.5,360.8L1079.0,362.2L1079.5,362.2L1080.0,362.1L1080.5,361.8L1081.0,361.2L1081.5,362.0L1082.0,362.4L1082.5,362.0L1083.0,362.3L1083.5,361.3L1084.0,362.1L1084.5,362.0L1085.0,360.9L1085.5,360.9L1086.0,361.3L1086.5,361.7L1087.0,361.8L1087.5,361.5L1088.0,361.6L1088.5,361.6L1089.0,361.7L1089.5,361.9L1090.0,361.9L1090.5,361.6L1091.0,361.8L1091.5,361.5L1092.0,362.0L1092.5,361.4L1093.0,362.4L1093.5,361.7L1094.0,361.8L1094.5,361.3L1095.0,361.5L1095.5,361.8L1096.0,361.7L1096.5,361.4L1097.0,361.2L1097.5,361.7L1098.0,361.8L1098.5,361.9L1099.0,362.3L1099.5,361.6L1100.0,360.8L1100.5,361.6L1101.0,360.9L1101.5,361.1L1102.0,362.2L1102.5,362.0L1103.0,361.4L1103.5,361.4L1104.0,361.7L1104.5,360.9L1105.0,362.0L1105.5,361.6L1106.0,362.6L1106.5,361.3L1107.0,362.2L1107.5,361.4L1108.0,362.2L1108.5,361.3L1109.0,362.1L1109.5,361.6L1110.0,361.4L1110.5,361.7L1111.0,362.0L1111.5,362.0L1112.0,362.5L1112.5,362.1L1113.0,360.6L1113.5,361.6L1114.0,360.9L1114.5,361.6L1115.0,362.1L1115.5,361.2L1116.0,361.3L1116.5,361.9L1117.0,361.7L1117.5,362.5L1118.0,361.9L1118.5,362.0L1119.0,362.6L1119.5,361.6L1120.0,361.8L1120.5,361.4L1121.0,361.9L1121.5,362.3L1122.0,362.4L1122.5,361.8L1123.0,361.5L1123.5,361.5L1124.0,361.2L1124.5,361.9L1125.0,362.4L1125.5,360.8L1126.0,360.9L1126.5,362.5L1127.0,361.1L1127.5,362.0L1128.0,361.3L1128.5,362.2L1129.0,362.2L1129.5,361.9L1130.0,362.2L1130.5,361.9L1131.0,362.1L1131.5,362.7L1132.0,362.4L1132.5,361.6L1133.0,361.5L1133.5,361.8L1134.0,361.8L1134.5,361.9L1135.0,361.6L1135.5,362.2L1136.0,361.9L1136.5,362.0L1137.0,361.9L1137.5,362.2L1138.0,361.4L1138.5,362.6L1139.0,362.1L1139.5,362.1L1140.0,362.2L1140.5,362.4L1141.0,362.2L1141.5,362.0L1142.0,361.8L1142.5,361.2L1143.0,362.0L1143.5,361.8L1144.0,361.8L1144.5,363.0L1145.0,361.1L1145.5,361.9L1146.0,362.5L1146.5,362.4L1147.0,362.5L1147.5,361.4L1148.0,361.5L1148.5,362.2L1149.0,361.8L1149.5,362.7L1150.0,362.0L1150.5,362.0L1151.0,362.1L1151.5,361.8L1152.0,362.0L1152.5,361.6L1153.0,361.9L1153.5,361.7L1154.0,362.1L1154.5,361.3L1155.0,361.3L1155.5,362.2L1156.0,362.1L1156.5,361.5L1157.0,361.9L1157.5,361.5L1158.0,362.9L1158.5,361.3L1159.0,362.7L1159.5,361.6L1160.0,362.2L1160.5,361.9L1161.0,361.8L1161.5,362.4L1162.0,362.3L1162.5,361.8L1163.0,361.6L1163.5,362.9L1164.0,362.6L1164.5,362.0L1165.0,361.8L1165.5,362.1L1166.0,362.0L1166.5,362.5L1167.0,361.6L1167.5,362.0L1168.0,361.6L1168.5,362.6L1169.0,362.8L1169.5,361.9L1170.0,362.2L1170.5,362.6L1171.0,361.9L1171.5,361.6L1172.0,362.5L1172.5,362.2L1173.0,361.9L1173.5,362.7L1174.0,362.1L1174.5,361.2L1175.0,362.2L1175.5,362.0L1176.0,362.9L1176.5,362.0L1177.0,361.9L1177.5,362.2L1178.0,362.1L1178.5,361.4L1179.0,362.1L1179.5,361.9L1180.0,362.6L1180.5,363.1L1181.0,361.5L1181.5,361.6L1182.0,361.6L1182.5,361.7L1183.0,361.7L1183.5,362.0L1184.0,362.5L1184.5,361.4L1185.0,361.3L1185.5,361.2L1186.0,362.5L1186.5,362.6L1187.0,361.3L1187.5,361.3L1188.0,362.1L1188.5,362.5L1189.0,362.5L1189.5,362.1L1190.0,362.3L1190.5,362.2L1191.0,361.8L1191.5,362.9L1192.0,362.0L1192.5,361.5L1193.0,361.8L1193.5,361.3L1194.0,362.0L1194.5,362.5L1195.0,361.5L1195.5,362.5L1196.0,363.0L1196.5,362.2L1197.0,361.5L1197.5,361.6L1198.0,361.9L1198.5,361.5L1199.0,361.5L1199.5,361.9L1200.0,362.0L1200.5,362.3L1201.0,361.5L1201.5,362.9L1202.0,362.5L1202.5,362.4L1203.0,361.7L1203.5,362.8L1204.0,361.9L1204.5,362.9L1205.0,362.5L1205.5,361.6L1206.0,361.8L1206.5,362.9L1207.0,362.5L1207.5,362.0L1208.0,362.1L1208.5,362.1L1209.0,361.7L1209.5,362.0L1210.0,361.7L1210.5,361.8L1211.0,362.3L1211.5,361.6L1212.0,362.4L1212.5,362.1L1213.0,362.4L1213.5,362.4L1214.0,362.6L1214.5,362.3L1215.0,362.4L1215.5,362.0L1216.0,362.3L1216.5,361.6L1217.0,361.9L1217.5,362.4L1218.0,362.0L1218.5,362.2L1219.0,361.6L1219.5,362.7L1220.0,361.8L1220.5,362.2" fill="none" stroke="#0c0cd6" stroke-width="2.6" stroke-linejoin="round"/>
<rect x="69.5" y="8.0" width="533.8" height="381.6" fill="none" stroke="#000" stroke-width="3"/>
<rect x="675.4" y="7.0" width="547.6" height="384.9" fill="none" stroke="#000" stroke-width="3"/>
<line x1="69.5" y1="389.6" x2="69.5" y2="399.6" stroke="#000" stroke-width="3" stroke-linecap="round"/>
<line x1="122.9" y1="389.6" x2="122.9" y2="395.6" stroke="#000" stroke-width="3" stroke-linecap="round"/>
<line x1="176.3" y1="389.6" x2="176.3" y2="399.6" stroke="#000" stroke-width="3" stroke-linecap="round"/>
<line x1="229.6" y1="389.6" x2="229.6" y2="395.6" stroke="#000" stroke-width="3" stroke-linecap="round"/>
<line x1="283.0" y1="389.6" x2="283.0" y2="399.6" stroke="#000" stroke-width="3" stroke-linecap="round"/>
<line x1="336.4" y1="389.6" x2="336.4" y2="395.6" stroke="#000" stroke-width="3" stroke-linecap="round"/>
<line x1="389.8" y1="389.6" x2="389.8" y2="399.6" stroke="#000" stroke-width="3" stroke-linecap="round"/>
<line x1="443.2" y1="389.6" x2="443.2" y2="395.6" stroke="#000" stroke-width="3" stroke-linecap="round"/>
<line x1="496.5" y1="389.6" x2="496.5" y2="399.6" stroke="#000" stroke-width="3" stroke-linecap="round"/>
<line x1="549.9" y1="389.6" x2="549.9" y2="395.6" stroke="#000" stroke-width="3" stroke-linecap="round"/>
<line x1="603.3" y1="389.6" x2="603.3" y2="399.6" stroke="#000" stroke-width="3" stroke-linecap="round"/>
<line x1="675.4" y1="391.9" x2="675.4" y2="401.4" stroke="#000" stroke-width="3" stroke-linecap="round"/>
<line x1="730.2" y1="391.9" x2="730.2" y2="397.4" stroke="#000" stroke-width="3" stroke-linecap="round"/>
<line x1="784.9" y1="391.9" x2="784.9" y2="401.4" stroke="#000" stroke-width="3" stroke-linecap="round"/>
<line x1="839.7" y1="391.9" x2="839.7" y2="397.4" stroke="#000" stroke-width="3" stroke-linecap="round"/>
<line x1="894.4" y1="391.9" x2="894.4" y2="401.4" stroke="#000" stroke-width="3" stroke-linecap="round"/>
<line x1="949.2" y1="391.9" x2="949.2" y2="397.4" stroke="#000" stroke-width="3" stroke-linecap="round"/>
<line x1="1004.0" y1="391.9" x2="1004.0" y2="401.4" stroke="#000" stroke-width="3" stroke-linecap="round"/>
<line x1="1058.7" y1="391.9" x2="1058.7" y2="397.4" stroke="#000" stroke-width="3" stroke-linecap="round"/>
<line x1="1113.5" y1="391.9" x2="1113.5" y2="401.4" stroke="#000" stroke-width="3" stroke-linecap="round"/>
<line x1="1168.2" y1="391.9" x2="1168.2" y2="397.4" stroke="#000" stroke-width="3" stroke-linecap="round"/>
<line x1="1223.0" y1="391.9" x2="1223.0" y2="401.4" stroke="#000" stroke-width="3" stroke-linecap="round"/>
<line x1="112.7" y1="26.4" x2="161.1" y2="26.4" stroke="#000" stroke-width="2.5"/>
<line x1="112.7" y1="64.4" x2="161.1" y2="64.4" stroke="#e00c0c" stroke-width="3.3"/>
<line x1="339.6" y1="23.9" x2="388" y2="23.9" stroke="#0ced0c" stroke-width="2.8"/>
<line x1="339.6" y1="61.4" x2="388" y2="61.4" stroke="#0c0cd6" stroke-width="2.8"/>
<line x1="686.7" y1="36.3" x2="735.7" y2="36.3" stroke="#000" stroke-width="2.5"/>
<line x1="686.7" y1="77.0" x2="735.7" y2="77.0" stroke="#ec0c0c" stroke-width="2.8"/>
<line x1="686.7" y1="118.6" x2="735.7" y2="118.6" stroke="#0ced0c" stroke-width="3.4"/>
<line x1="686.7" y1="160.0" x2="735.7" y2="160.0" stroke="#0c0cd6" stroke-width="2.8"/>
<g transform="translate(166.00,33.10)" fill="#000"><text x="0" y="0" letter-spacing="0.078"><tspan font-family='"Liberation Sans", sans-serif' font-weight="bold" font-size="22.5" dy="0">2FeS</tspan><tspan font-family='"Liberation Sans", sans-serif' font-weight="bold" font-size="17.6" dy="7.6">2</tspan><tspan font-family='"Liberation Sans", sans-serif' font-weight="bold" font-size="24.75" dy="-6.77">@</tspan><tspan font-family='"Liberation Sans", sans-serif' font-weight="bold" font-size="22.5" dy="-0.83">CNFs</tspan></text></g>
<g transform="translate(166.30,70.00)" fill="#000"><text x="0" y="0" letter-spacing="0.044"><tspan font-family='"Liberation Sans", sans-serif' font-weight="bold" font-size="22.5" dy="0">3FeS</tspan><tspan font-family='"Liberation Sans", sans-serif' font-weight="bold" font-size="17.6" dy="7.6">2</tspan><tspan font-family='"Liberation Sans", sans-serif' font-weight="bold" font-size="24.75" dy="-6.77">@</tspan><tspan font-family='"Liberation Sans", sans-serif' font-weight="bold" font-size="22.5" dy="-0.83">CNFs</tspan></text></g>
<g transform="translate(391.60,30.60)" fill="#000"><text x="0" y="0" letter-spacing="0.144"><tspan font-family='"Liberation Sans", sans-serif' font-weight="bold" font-size="22.5" dy="0">4FeS</tspan><tspan font-family='"Liberation Sans", sans-serif' font-weight="bold" font-size="17.6" dy="7.6">2</tspan><tspan font-family='"Liberation Sans", sans-serif' font-weight="bold" font-size="24.75" dy="-6.77">@</tspan><tspan font-family='"Liberation Sans", sans-serif' font-weight="bold" font-size="22.5" dy="-0.83">CNFs</tspan></text></g>
<g transform="translate(391.20,67.50)" fill="#000"><text x="0" y="0" letter-spacing="0.189"><tspan font-family='"Liberation Sans", sans-serif' font-weight="bold" font-size="22.5" dy="0">5FeS</tspan><tspan font-family='"Liberation Sans", sans-serif' font-weight="bold" font-size="17.6" dy="7.6">2</tspan><tspan font-family='"Liberation Sans", sans-serif' font-weight="bold" font-size="24.75" dy="-6.77">@</tspan><tspan font-family='"Liberation Sans", sans-serif' font-weight="bold" font-size="22.5" dy="-0.83">CNFs</tspan></text></g>
<g transform="translate(740.30,43.00)" fill="#000"><text x="0" y="0" letter-spacing="0.722"><tspan font-family='"Liberation Sans", sans-serif' font-weight="bold" font-size="24.4" dy="0">2FeS</tspan><tspan font-family='"Liberation Sans", sans-serif' font-weight="bold" font-size="18.8" dy="7.6">2</tspan><tspan font-family='"Liberation Sans", sans-serif' font-weight="bold" font-size="26.84" dy="-6.699999999999999">@</tspan><tspan font-family='"Liberation Sans", sans-serif' font-weight="bold" font-size="24.4" dy="-0.9">CNFs</tspan></text></g>
<g transform="translate(740.50,84.20)" fill="#000"><text x="0" y="0" letter-spacing="0.700"><tspan font-family='"Liberation Sans", sans-serif' font-weight="bold" font-size="24.4" dy="0">3FeS</tspan><tspan font-family='"Liberation Sans", sans-serif' font-weight="bold" font-size="18.8" dy="7.6">2</tspan><tspan font-family='"Liberation Sans", sans-serif' font-weight="bold" font-size="26.84" dy="-6.699999999999999">@</tspan><tspan font-family='"Liberation Sans", sans-serif' font-weight="bold" font-size="24.4" dy="-0.9">CNFs</tspan></text></g>
<g transform="translate(740.70,125.50)" fill="#000"><text x="0" y="0" letter-spacing="0.678"><tspan font-family='"Liberation Sans", sans-serif' font-weight="bold" font-size="24.4" dy="0">4FeS</tspan><tspan font-family='"Liberation Sans", sans-serif' font-weight="bold" font-size="18.8" dy="7.6">2</tspan><tspan font-family='"Liberation Sans", sans-serif' font-weight="bold" font-size="26.84" dy="-6.699999999999999">@</tspan><tspan font-family='"Liberation Sans", sans-serif' font-weight="bold" font-size="24.4" dy="-0.9">CNFs</tspan></text></g>
<g transform="translate(740.30,166.20)" fill="#000"><text x="0" y="0" letter-spacing="0.722"><tspan font-family='"Liberation Sans", sans-serif' font-weight="bold" font-size="24.4" dy="0">5FeS</tspan><tspan font-family='"Liberation Sans", sans-serif' font-weight="bold" font-size="18.8" dy="7.6">2</tspan><tspan font-family='"Liberation Sans", sans-serif' font-weight="bold" font-size="26.84" dy="-6.699999999999999">@</tspan><tspan font-family='"Liberation Sans", sans-serif' font-weight="bold" font-size="24.4" dy="-0.9">CNFs</tspan></text></g>
<g transform="translate(5.08,37.80) scale(1.0138,1)" fill="#000"><text x="0" y="0"><tspan font-family='"Liberation Sans", sans-serif' font-weight="bold" font-size="43.3" dy="0">A</tspan></text></g>
<g transform="translate(624.80,37.80) scale(0.9659,1)" fill="#000"><text x="0" y="0"><tspan font-family='"Liberation Sans", sans-serif' font-weight="bold" font-size="43.3" dy="0">B</tspan></text></g>
<g transform="translate(929.92,49.80) scale(1.1495,1)" fill="#000"><text x="0" y="0"><tspan font-family='"Liberation Sans", sans-serif' font-weight="bold" font-size="17.5" dy="0">D</tspan></text></g>
<g transform="translate(997.55,111.20) scale(1.0678,1)" fill="#000"><text x="0" y="0"><tspan font-family='"Liberation Sans", sans-serif' font-weight="bold" font-size="17.5" dy="0">G</tspan></text></g>
<g transform="translate(459.60,369.20)" fill="#000"><text x="0" y="0" letter-spacing="1.193"><tspan font-family='"Liberation Sans", sans-serif' font-weight="bold" font-size="17.6" dy="0">JCPDS:65-332 </tspan></text><path transform="translate(133.670,0) scale(0.00859,-0.00859)" d="M801 0L526 0L526 1010Q375 873 160 808L160 1050Q278 1085 404 1181Q530 1278 577 1430L801 1430Z"/></g>
<g transform="translate(57.05,420.70) scale(1.0000,1)" fill="#000"><text x="0" y="0"><tspan font-family='"Liberation Sans", sans-serif' font-weight="bold" font-size="22.5" dy="0">20</tspan></text></g>
<g transform="translate(163.96,420.70) scale(1.0000,1)" fill="#000"><text x="0" y="0"><tspan font-family='"Liberation Sans", sans-serif' font-weight="bold" font-size="22.5" dy="0">30</tspan></text></g>
<g transform="translate(270.82,420.70) scale(1.0000,1)" fill="#000"><text x="0" y="0"><tspan font-family='"Liberation Sans", sans-serif' font-weight="bold" font-size="22.5" dy="0">40</tspan></text></g>
<g transform="translate(377.38,420.70) scale(1.0000,1)" fill="#000"><text x="0" y="0"><tspan font-family='"Liberation Sans", sans-serif' font-weight="bold" font-size="22.5" dy="0">50</tspan></text></g>
<g transform="translate(484.09,420.70) scale(1.0000,1)" fill="#000"><text x="0" y="0"><tspan font-family='"Liberation Sans", sans-serif' font-weight="bold" font-size="22.5" dy="0">60</tspan></text></g>
<g transform="translate(590.75,420.70) scale(1.0000,1)" fill="#000"><text x="0" y="0"><tspan font-family='"Liberation Sans", sans-serif' font-weight="bold" font-size="22.5" dy="0">70</tspan></text></g>
<g transform="translate(659.15,420.70) scale(1.0000,1)" fill="#000"><text x="0" y="0"><tspan font-family='"Liberation Sans", sans-serif' font-weight="bold" font-size="19.8" dy="0">400</tspan></text></g>
<g transform="translate(768.52,420.70) scale(1.0000,1)" fill="#000"><text x="0" y="0"><tspan font-family='"Liberation Sans", sans-serif' font-weight="bold" font-size="19.8" dy="0">800</tspan></text></g>
<g transform="translate(871.84,420.70) scale(1.0000,1)" fill="#000"><text x="0" y="0"><tspan font-family='"Liberation Sans", sans-serif' font-weight="bold" font-size="19.8" dy="0"> 200</tspan></text><path transform="translate(0.000,0) scale(0.00967,-0.00967)" d="M801 0L526 0L526 1010Q375 873 160 808L160 1050Q278 1085 404 1181Q530 1278 577 1430L801 1430Z"/></g>
<g transform="translate(981.36,420.70) scale(1.0000,1)" fill="#000"><text x="0" y="0"><tspan font-family='"Liberation Sans", sans-serif' font-weight="bold" font-size="19.8" dy="0"> 600</tspan></text><path transform="translate(0.000,0) scale(0.00967,-0.00967)" d="M801 0L526 0L526 1010Q375 873 160 808L160 1050Q278 1085 404 1181Q530 1278 577 1430L801 1430Z"/></g>
<g transform="translate(1091.53,420.70) scale(1.0000,1)" fill="#000"><text x="0" y="0"><tspan font-family='"Liberation Sans", sans-serif' font-weight="bold" font-size="19.8" dy="0">2000</tspan></text></g>
<g transform="translate(1201.05,420.70) scale(1.0000,1)" fill="#000"><text x="0" y="0"><tspan font-family='"Liberation Sans", sans-serif' font-weight="bold" font-size="19.8" dy="0">2400</tspan></text></g>
<g transform="translate(273.70,456.00) scale(1.0000,1)" fill="#000"><text x="0" y="0"><tspan font-family='"Liberation Sans", sans-serif' font-weight="bold" font-size="31.4" dy="0">2</tspan></text></g>
<g transform="translate(292.60,456.50) scale(1.0000,1)" fill="#000"><text x="0" y="0"><tspan font-family='"Liberation Serif", serif' font-weight="normal" font-size="29.5" dy="0">θ</tspan></text></g>
<g transform="translate(317.40,456.00)" fill="#000"><text x="0" y="0" letter-spacing="0.400"><tspan font-family='"Liberation Sans", sans-serif' font-weight="bold" font-size="31.4" dy="0">(degree)</tspan></text></g>
<g transform="translate(831.00,456.20)" fill="#000"><text x="0" y="0" letter-spacing="-0.177"><tspan font-family='"Liberation Sans", sans-serif' font-weight="bold" font-size="33.4" dy="0">Rama shift (cm</tspan></text></g>
<g transform="translate(1069.30,445.00) scale(0.9959,1)" fill="#000"><text x="0" y="0"><tspan font-family='"Liberation Sans", sans-serif' font-weight="bold" font-size="25" dy="0">- </tspan></text><path transform="translate(8.326,0) scale(0.01221,-0.01221)" d="M801 0L526 0L526 1010Q375 873 160 808L160 1050Q278 1085 404 1181Q530 1278 577 1430L801 1430Z"/></g>
<g transform="translate(1092.60,456.10) scale(1.0000,1)" fill="#000"><text x="0" y="0"><tspan font-family='"Liberation Sans", sans-serif' font-weight="bold" font-size="32" dy="0">)</tspan></text></g>
<g transform="translate(31.90,300.62) rotate(-90) scale(0.9663,1)" fill="#000"><text x="0" y="0"><tspan font-family='"Liberation Sans", sans-serif' font-weight="bold" font-size="34.4" dy="0">Intensity(a.u.)</tspan></text></g>
<g transform="translate(649.60,323.15) rotate(-90) scale(0.9796,1)" fill="#000"><text x="0" y="0"><tspan font-family='"Liberation Sans", sans-serif' font-weight="bold" font-size="34.6" dy="0">Intensity (a.u.)</tspan></text></g>
<g transform="translate(164.65,160.06) rotate(-90) scale(1.1413,1)" fill="#000"><text x="0" y="0"><tspan font-family='"Liberation Sans", sans-serif' font-weight="bold" font-size="22.0" dy="0">(   )</tspan></text><path transform="translate(7.327,0) scale(0.01074,-0.01074)" d="M801 0L526 0L526 1010Q375 873 160 808L160 1050Q278 1085 404 1181Q530 1278 577 1430L801 1430Z"/><path transform="translate(19.563,0) scale(0.01074,-0.01074)" d="M801 0L526 0L526 1010Q375 873 160 808L160 1050Q278 1085 404 1181Q530 1278 577 1430L801 1430Z"/><path transform="translate(30.585,0) scale(0.01074,-0.01074)" d="M801 0L526 0L526 1010Q375 873 160 808L160 1050Q278 1085 404 1181Q530 1278 577 1430L801 1430Z"/></g>
<g transform="translate(212.45,142.90) rotate(-90) scale(1.0896,1)" fill="#000"><text x="0" y="0"><tspan font-family='"Liberation Sans", sans-serif' font-weight="bold" font-size="22.0" dy="0">(200)</tspan></text></g>
<g transform="translate(255.65,155.81) rotate(-90) scale(1.1039,1)" fill="#000"><text x="0" y="0"><tspan font-family='"Liberation Sans", sans-serif' font-weight="bold" font-size="22.0" dy="0">(2 0)</tspan></text><path transform="translate(19.563,0) scale(0.01074,-0.01074)" d="M801 0L526 0L526 1010Q375 873 160 808L160 1050Q278 1085 404 1181Q530 1278 577 1430L801 1430Z"/></g>
<g transform="translate(295.75,161.02) rotate(-90) scale(1.1127,1)" fill="#000"><text x="0" y="0"><tspan font-family='"Liberation Sans", sans-serif' font-weight="bold" font-size="22.0" dy="0">(2  )</tspan></text><path transform="translate(19.563,0) scale(0.01074,-0.01074)" d="M801 0L526 0L526 1010Q375 873 160 808L160 1050Q278 1085 404 1181Q530 1278 577 1430L801 1430Z"/><path transform="translate(31.799,0) scale(0.01074,-0.01074)" d="M801 0L526 0L526 1010Q375 873 160 808L160 1050Q278 1085 404 1181Q530 1278 577 1430L801 1430Z"/></g>
<g transform="translate(365.15,158.17) rotate(-90) scale(1.0631,1)" fill="#000"><text x="0" y="0"><tspan font-family='"Liberation Sans", sans-serif' font-weight="bold" font-size="22.0" dy="0">(220)</tspan></text></g>
<g transform="translate(460.15,148.92) rotate(-90) scale(1.1106,1)" fill="#000"><text x="0" y="0"><tspan font-family='"Liberation Sans", sans-serif' font-weight="bold" font-size="22.0" dy="0">(3  )</tspan></text><path transform="translate(19.563,0) scale(0.01074,-0.01074)" d="M801 0L526 0L526 1010Q375 873 160 808L160 1050Q278 1085 404 1181Q530 1278 577 1430L801 1430Z"/><path transform="translate(31.799,0) scale(0.01074,-0.01074)" d="M801 0L526 0L526 1010Q375 873 160 808L160 1050Q278 1085 404 1181Q530 1278 577 1430L801 1430Z"/></g>
<g transform="translate(493.25,169.77) rotate(-90) scale(1.0611,1)" fill="#000"><text x="0" y="0"><tspan font-family='"Liberation Sans", sans-serif' font-weight="bold" font-size="22.0" dy="0">(222)</tspan></text></g>
<g transform="translate(519.35,168.79) rotate(-90) scale(1.0835,1)" fill="#000"><text x="0" y="0"><tspan font-family='"Liberation Sans", sans-serif' font-weight="bold" font-size="22.0" dy="0">(023)</tspan></text></g>
<g transform="translate(545.15,167.64) rotate(-90) scale(1.0407,1)" fill="#000"><text x="0" y="0"><tspan font-family='"Liberation Sans", sans-serif' font-weight="bold" font-size="22.0" dy="0">(32 )</tspan></text><path transform="translate(31.799,0) scale(0.01074,-0.01074)" d="M801 0L526 0L526 1010Q375 873 160 808L160 1050Q278 1085 404 1181Q530 1278 577 1430L801 1430Z"/></g>
</svg>
</body></html>
